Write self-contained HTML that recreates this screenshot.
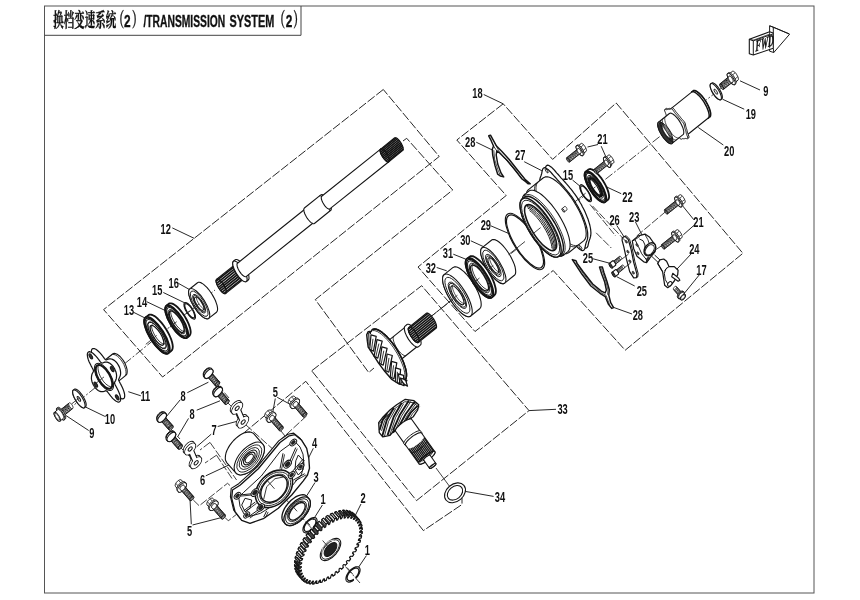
<!DOCTYPE html>
<html><head><meta charset="utf-8"><title>Transmission System (2)</title>
<style>html,body{margin:0;padding:0;background:#fff}svg{display:block}text{font-family:"Liberation Sans",sans-serif;font-weight:bold;fill:#111}</style>
</head><body>
<svg width="860" height="600" viewBox="0 0 860 600" style="filter:blur(0.35px)">
<rect width="860" height="600" fill="#fff"/>
<rect x="44.5" y="6" width="769.5" height="587" fill="none" stroke="#555" stroke-width="1"/>
<polyline points="44.5,35.3 301,35.3 301,6" fill="none" stroke="#444" stroke-width="1"/>
<text x="53.3" y="26.6" font-size="19.5" textLength="62.9" lengthAdjust="spacingAndGlyphs" stroke="#111" stroke-width="0.35" style="font-family:'Liberation Sans','Noto Serif CJK SC',serif">换档变速系统</text>
<text x="113.5" y="26.6" font-size="19.5" textLength="10.6" lengthAdjust="spacingAndGlyphs" stroke="#111" stroke-width="0.35" style="font-family:'Liberation Sans','Noto Serif CJK SC',serif">（</text>
<text x="132" y="26.6" font-size="19.5" textLength="10.6" lengthAdjust="spacingAndGlyphs" stroke="#111" stroke-width="0.35" style="font-family:'Liberation Sans','Noto Serif CJK SC',serif">）</text>
<text x="124" y="27" font-size="17.4" textLength="6.6" lengthAdjust="spacingAndGlyphs" stroke="#111" stroke-width="0.35">2</text>
<text x="143.4" y="27" font-size="17.4" textLength="81.9" lengthAdjust="spacingAndGlyphs" stroke="#111" stroke-width="0.35">/TRANSMISSION</text>
<text x="229.5" y="27" font-size="17.4" textLength="44.7" lengthAdjust="spacingAndGlyphs" stroke="#111" stroke-width="0.35">SYSTEM</text>
<text x="274.6" y="26.6" font-size="19.5" textLength="10.6" lengthAdjust="spacingAndGlyphs" stroke="#111" stroke-width="0.35" style="font-family:'Liberation Sans','Noto Serif CJK SC',serif">（</text>
<text x="285.7" y="27" font-size="17.4" textLength="6.6" lengthAdjust="spacingAndGlyphs" stroke="#111" stroke-width="0.35">2</text>
<text x="293.3" y="26.6" font-size="19.5" textLength="10.6" lengthAdjust="spacingAndGlyphs" stroke="#111" stroke-width="0.35" style="font-family:'Liberation Sans','Noto Serif CJK SC',serif">）</text>
<polygon points="383.3,89.5 103.6,309.6 162.6,377 439.2,156.5" fill="none" stroke="#222" stroke-width="0.98" stroke-linejoin="miter" stroke-dasharray="9 2"/>
<polyline points="403,141 406.7,138.3 452.7,190 315.3,299.6 368.7,372.5 374,368" fill="none" stroke="#222" stroke-width="0.98" stroke-linejoin="miter" stroke-dasharray="9 2"/>
<polygon points="503.2,103.8 456.8,140 506.2,195.5 418,267 475,331.5 553.2,270.5 625.2,350.2 742.9,253.3 616.2,103 552.6,159.4" fill="none" stroke="#222" stroke-width="0.98" stroke-linejoin="miter" stroke-dasharray="9 2"/>
<polygon points="311.7,370.8 421.7,285.7 529,410.6 416.5,500.6" fill="none" stroke="#222" stroke-width="0.98" stroke-linejoin="miter" stroke-dasharray="9 2"/>
<polyline points="234.8,440.5 305.8,381.3 423.4,530.6 462,504.5 462,498" fill="none" stroke="#222" stroke-width="0.98" stroke-linejoin="miter" stroke-dasharray="9 2"/>
<text transform="translate(165.7 234) scale(0.62 1)" text-anchor="middle" font-size="15">12</text>
<text transform="translate(173.7 287.9) scale(0.62 1)" text-anchor="middle" font-size="15">16</text>
<text transform="translate(157.2 294.6) scale(0.62 1)" text-anchor="middle" font-size="15">15</text>
<text transform="translate(142 307.1) scale(0.62 1)" text-anchor="middle" font-size="15">14</text>
<text transform="translate(129 315.4) scale(0.62 1)" text-anchor="middle" font-size="15">13</text>
<text transform="translate(145.3 401.2) scale(0.62 1)" text-anchor="middle" font-size="15">11</text>
<text transform="translate(109.9 423.7) scale(0.62 1)" text-anchor="middle" font-size="15">10</text>
<text transform="translate(91.8 438) scale(0.62 1)" text-anchor="middle" font-size="15">9</text>
<text transform="translate(183.1 400.9) scale(0.62 1)" text-anchor="middle" font-size="15">8</text>
<text transform="translate(192 419.1) scale(0.62 1)" text-anchor="middle" font-size="15">8</text>
<text transform="translate(214.2 435.4) scale(0.62 1)" text-anchor="middle" font-size="15">7</text>
<text transform="translate(202.5 485.4) scale(0.62 1)" text-anchor="middle" font-size="15">6</text>
<text transform="translate(275.3 396.9) scale(0.62 1)" text-anchor="middle" font-size="15">5</text>
<text transform="translate(189.7 536.2) scale(0.62 1)" text-anchor="middle" font-size="15">5</text>
<text transform="translate(314.6 448.3) scale(0.62 1)" text-anchor="middle" font-size="15">4</text>
<text transform="translate(316.2 482.1) scale(0.62 1)" text-anchor="middle" font-size="15">3</text>
<text transform="translate(323 504.4) scale(0.62 1)" text-anchor="middle" font-size="15">1</text>
<text transform="translate(363 503.4) scale(0.62 1)" text-anchor="middle" font-size="15">2</text>
<text transform="translate(367.4 555) scale(0.62 1)" text-anchor="middle" font-size="15">1</text>
<text transform="translate(500 502.4) scale(0.62 1)" text-anchor="middle" font-size="15">34</text>
<text transform="translate(562.6 414.4) scale(0.62 1)" text-anchor="middle" font-size="15">33</text>
<text transform="translate(430.8 272.6) scale(0.62 1)" text-anchor="middle" font-size="15">32</text>
<text transform="translate(448 257.9) scale(0.62 1)" text-anchor="middle" font-size="15">31</text>
<text transform="translate(465.3 245.1) scale(0.62 1)" text-anchor="middle" font-size="15">30</text>
<text transform="translate(485.8 230.1) scale(0.62 1)" text-anchor="middle" font-size="15">29</text>
<text transform="translate(477.5 98.4) scale(0.62 1)" text-anchor="middle" font-size="15">18</text>
<text transform="translate(470.2 146.9) scale(0.62 1)" text-anchor="middle" font-size="15">28</text>
<text transform="translate(520.2 159.6) scale(0.62 1)" text-anchor="middle" font-size="15">27</text>
<text transform="translate(568 180.4) scale(0.62 1)" text-anchor="middle" font-size="15">15</text>
<text transform="translate(627.5 202.2) scale(0.62 1)" text-anchor="middle" font-size="15">22</text>
<text transform="translate(602.5 144.1) scale(0.62 1)" text-anchor="middle" font-size="15">21</text>
<text transform="translate(614.6 225) scale(0.62 1)" text-anchor="middle" font-size="15">26</text>
<text transform="translate(634.2 222.1) scale(0.62 1)" text-anchor="middle" font-size="15">23</text>
<text transform="translate(698.5 227.4) scale(0.62 1)" text-anchor="middle" font-size="15">21</text>
<text transform="translate(694.3 254.2) scale(0.62 1)" text-anchor="middle" font-size="15">24</text>
<text transform="translate(701.5 275.2) scale(0.62 1)" text-anchor="middle" font-size="15">17</text>
<text transform="translate(588 263.2) scale(0.62 1)" text-anchor="middle" font-size="15">25</text>
<text transform="translate(641.8 296.2) scale(0.62 1)" text-anchor="middle" font-size="15">25</text>
<text transform="translate(637.8 320.2) scale(0.62 1)" text-anchor="middle" font-size="15">28</text>
<text transform="translate(765.8 96.2) scale(0.62 1)" text-anchor="middle" font-size="15">9</text>
<text transform="translate(750.8 118.7) scale(0.62 1)" text-anchor="middle" font-size="15">19</text>
<text transform="translate(729.2 156.2) scale(0.62 1)" text-anchor="middle" font-size="15">20</text>
<line x1="172.3" y1="227.9" x2="194.3" y2="238.4" stroke="#222" stroke-width="0.98"/>
<line x1="178.3" y1="283.3" x2="190.3" y2="290" stroke="#222" stroke-width="0.98"/>
<line x1="163.3" y1="292.5" x2="185" y2="303" stroke="#222" stroke-width="0.98"/>
<line x1="146.7" y1="301.7" x2="165.8" y2="310.8" stroke="#222" stroke-width="0.98"/>
<line x1="133" y1="312" x2="147" y2="319" stroke="#222" stroke-width="0.98"/>
<line x1="128.3" y1="391.7" x2="140.8" y2="395.8" stroke="#222" stroke-width="0.98"/>
<line x1="85.5" y1="407" x2="104.9" y2="416.4" stroke="#222" stroke-width="0.98"/>
<line x1="65.6" y1="415.3" x2="88.7" y2="430.5" stroke="#222" stroke-width="0.98"/>
<line x1="529" y1="410.6" x2="556" y2="409.3" stroke="#222" stroke-width="0.98"/>
<line x1="463" y1="491" x2="493.6" y2="496.4" stroke="#222" stroke-width="0.98"/>
<line x1="483.7" y1="94.5" x2="503.2" y2="103.8" stroke="#222" stroke-width="0.98"/>
<line x1="476.2" y1="142.2" x2="492.7" y2="150.2" stroke="#222" stroke-width="0.98"/>
<line x1="524.2" y1="161.7" x2="541.8" y2="170.7" stroke="#222" stroke-width="0.98"/>
<line x1="740" y1="80.8" x2="760" y2="90" stroke="#222" stroke-width="0.98"/>
<line x1="722.5" y1="99.2" x2="744.2" y2="109.2" stroke="#222" stroke-width="0.98"/>
<line x1="698.3" y1="127.5" x2="723.3" y2="145" stroke="#222" stroke-width="0.98"/>
<line x1="598" y1="144.5" x2="587.5" y2="147" stroke="#222" stroke-width="0.98"/>
<line x1="601.2" y1="146.2" x2="606.2" y2="157.5" stroke="#222" stroke-width="0.98"/>
<line x1="572.5" y1="180" x2="580" y2="186.2" stroke="#222" stroke-width="0.98"/>
<line x1="605" y1="186.2" x2="621.2" y2="193.7" stroke="#222" stroke-width="0.98"/>
<line x1="693.8" y1="219.7" x2="682.1" y2="205.2" stroke="#222" stroke-width="0.98"/>
<line x1="693.8" y1="225.5" x2="683.3" y2="234.8" stroke="#222" stroke-width="0.98"/>
<line x1="635.5" y1="222" x2="642.5" y2="236" stroke="#222" stroke-width="0.98"/>
<line x1="616.8" y1="225.5" x2="625" y2="238.3" stroke="#222" stroke-width="0.98"/>
<line x1="691.5" y1="253.5" x2="676.3" y2="269.8" stroke="#222" stroke-width="0.98"/>
<line x1="699.6" y1="274.5" x2="684.5" y2="293.1" stroke="#222" stroke-width="0.98"/>
<line x1="436.7" y1="267.5" x2="446.7" y2="270.8" stroke="#222" stroke-width="0.98"/>
<line x1="453.3" y1="254.2" x2="465.8" y2="259.2" stroke="#222" stroke-width="0.98"/>
<line x1="470.8" y1="240.8" x2="490.8" y2="250" stroke="#222" stroke-width="0.98"/>
<line x1="490.8" y1="225.8" x2="508.3" y2="233.3" stroke="#222" stroke-width="0.98"/>
<line x1="322.4" y1="505" x2="313" y2="520" stroke="#222" stroke-width="0.98"/>
<line x1="361" y1="504" x2="355" y2="516" stroke="#222" stroke-width="0.98"/>
<line x1="366.4" y1="555.6" x2="358" y2="568" stroke="#222" stroke-width="0.98"/>
<line x1="315" y1="482.5" x2="306.7" y2="495.8" stroke="#222" stroke-width="0.98"/>
<line x1="313.3" y1="448.3" x2="306.7" y2="461.7" stroke="#222" stroke-width="0.98"/>
<line x1="187.3" y1="392.7" x2="208.4" y2="382.2" stroke="#222" stroke-width="0.98"/>
<line x1="180.3" y1="399.7" x2="165.9" y2="417.2" stroke="#222" stroke-width="0.98"/>
<line x1="196.7" y1="410.2" x2="220" y2="400.8" stroke="#222" stroke-width="0.98"/>
<line x1="188.5" y1="418.4" x2="177.5" y2="437" stroke="#222" stroke-width="0.98"/>
<line x1="217.7" y1="426.5" x2="237.5" y2="421.2" stroke="#222" stroke-width="0.98"/>
<line x1="211.2" y1="434.2" x2="196.7" y2="446.8" stroke="#222" stroke-width="0.98"/>
<line x1="205.8" y1="475.8" x2="232.5" y2="463.3" stroke="#222" stroke-width="0.98"/>
<line x1="277.2" y1="397.3" x2="292.4" y2="405.5" stroke="#222" stroke-width="0.98"/>
<line x1="275.3" y1="398.5" x2="272.5" y2="413.7" stroke="#222" stroke-width="0.98"/>
<line x1="191.3" y1="524.2" x2="190" y2="499.2" stroke="#222" stroke-width="0.98"/>
<line x1="192.5" y1="525" x2="221.7" y2="517.5" stroke="#222" stroke-width="0.98"/>
<line x1="592.7" y1="258.7" x2="610" y2="263.3" stroke="#222" stroke-width="0.98"/>
<line x1="634.7" y1="286" x2="616.7" y2="276.7" stroke="#222" stroke-width="0.98"/>
<line x1="632" y1="314" x2="613.3" y2="307.3" stroke="#222" stroke-width="0.98"/>
<polyline points="193.3,500 199.2,505.8 227.5,483.3 230,485.5" fill="none" stroke="#222" stroke-width="0.85" stroke-linejoin="round" stroke-dasharray="8 2"/>
<polyline points="225,517.5 228.3,520.8 236.7,514.2" fill="none" stroke="#222" stroke-width="0.85" stroke-linejoin="round" stroke-dasharray="8 2"/>
<polyline points="306.7,415.8 278.8,441.5 281,444.5" fill="none" stroke="#222" stroke-width="0.85" stroke-linejoin="round" stroke-dasharray="8 2"/>
<polyline points="281,431 291,443.5" fill="none" stroke="#222" stroke-width="0.85" stroke-linejoin="round" stroke-dasharray="8 2"/>
<polyline points="210,442.4 200,450" fill="none" stroke="#222" stroke-width="0.85" stroke-linejoin="round" stroke-dasharray="8 2"/>
<polyline points="210,442.4 236.6,480" fill="none" stroke="#222" stroke-width="0.85" stroke-linejoin="round" stroke-dasharray="8 2"/>
<polyline points="216.5,455.2 205,463" fill="none" stroke="#222" stroke-width="0.85" stroke-linejoin="round" stroke-dasharray="8 2"/>
<polyline points="216.5,455.2 233,480" fill="none" stroke="#222" stroke-width="0.85" stroke-linejoin="round" stroke-dasharray="8 2"/>
<polyline points="218,385 229,398" fill="none" stroke="#222" stroke-width="0.85" stroke-linejoin="round" stroke-dasharray="8 2"/>
<polyline points="228,403 236,411" fill="none" stroke="#222" stroke-width="0.85" stroke-linejoin="round" stroke-dasharray="8 2"/>
<polyline points="246,425 276,452" fill="none" stroke="#222" stroke-width="0.85" stroke-linejoin="round" stroke-dasharray="8 2"/>
<polyline points="171,429 180,439" fill="none" stroke="#222" stroke-width="0.85" stroke-linejoin="round" stroke-dasharray="8 2"/>
<polyline points="181,448 189,456" fill="none" stroke="#222" stroke-width="0.85" stroke-linejoin="round" stroke-dasharray="8 2"/>
<line x1="66" y1="411.5" x2="215" y2="290" stroke="#222" stroke-width="0.85" stroke-dasharray="9 2 2 2"/>
<polygon points="234.6,264.9 235,264.8 235.5,264.7 236.1,264.9 236.8,265.2 237.5,265.7 238.3,266.4 239.1,267.2 239.9,268.1 240.7,269.1 241.4,270.2 242.1,271.3 242.7,272.5 243.2,273.6 243.6,274.7 244,275.7 244.2,276.7 244.2,277.5 244.2,278.2 244,278.7 243.7,279.1 225.8,293.4 225.3,293.6 224.8,293.6 224.2,293.5 223.6,293.1 222.8,292.6 222.1,292 221.3,291.2 220.5,290.3 219.7,289.3 219,288.2 218.3,287.1 217.7,285.9 217.1,284.8 216.7,283.7 216.4,282.7 216.2,281.7 216.1,280.9 216.2,280.2 216.4,279.7 216.7,279.3" fill="#fff" stroke="#141414" stroke-width="1.1" stroke-linejoin="round"/>
<ellipse cx="221.2" cy="286.4" rx="2.9" ry="8.4" transform="rotate(-32 221.2 286.4)" fill="#fff" stroke="#141414" stroke-width="1.1"/>
<line x1="216.1" y1="281.1" x2="236.3" y2="265" stroke="#141414" stroke-width="1.65"/>
<line x1="216.6" y1="283.4" x2="238.1" y2="266.2" stroke="#141414" stroke-width="1.65"/>
<line x1="217.4" y1="285.4" x2="239.5" y2="267.7" stroke="#141414" stroke-width="1.65"/>
<line x1="218.4" y1="287.3" x2="240.8" y2="269.3" stroke="#141414" stroke-width="1.65"/>
<line x1="219.5" y1="289" x2="241.9" y2="271.1" stroke="#141414" stroke-width="1.65"/>
<line x1="220.8" y1="290.7" x2="242.9" y2="273" stroke="#141414" stroke-width="1.65"/>
<line x1="222.3" y1="292.2" x2="243.7" y2="275" stroke="#141414" stroke-width="1.65"/>
<line x1="224.1" y1="293.4" x2="244.2" y2="277.3" stroke="#141414" stroke-width="1.65"/>
<polygon points="235.3,259.8 235.9,259.5 236.6,259.5 237.5,259.7 238.4,260.2 239.5,260.9 240.6,261.9 241.7,263 242.9,264.3 244,265.8 245,267.3 246,268.9 246.9,270.6 247.6,272.2 248.2,273.7 248.7,275.2 248.9,276.5 249,277.7 249,278.7 248.7,279.4 248.3,280 246.4,281.5 245.8,281.7 245.1,281.8 244.3,281.5 243.3,281 242.3,280.3 241.2,279.4 240,278.2 238.9,276.9 237.8,275.5 236.7,273.9 235.8,272.3 234.9,270.7 234.1,269.1 233.5,267.5 233.1,266.1 232.8,264.7 232.7,263.6 232.8,262.6 233,261.8 233.4,261.3" fill="#fff" stroke="#141414" stroke-width="1.1" stroke-linejoin="round"/>
<ellipse cx="239.9" cy="271.4" rx="4.1" ry="12" transform="rotate(-32 239.9 271.4)" fill="#fff" stroke="#141414" stroke-width="1.1"/>
<polygon points="305.1,209 305.5,208.8 305.9,208.8 306.5,209 307.1,209.3 307.8,209.8 308.6,210.4 309.3,211.2 310.1,212 310.8,213 311.5,214 312.2,215.1 312.8,216.2 313.3,217.3 313.7,218.3 314,219.3 314.2,220.2 314.2,220.9 314.2,221.6 314,222.1 313.7,222.5 246.1,276.6 245.8,276.8 245.3,276.8 244.7,276.6 244.1,276.3 243.4,275.8 242.6,275.2 241.9,274.5 241.1,273.6 240.4,272.6 239.7,271.6 239,270.5 238.4,269.4 237.9,268.3 237.5,267.3 237.2,266.3 237.1,265.4 237,264.7 237,264 237.2,263.5 237.5,263.2" fill="#fff" stroke="#141414" stroke-width="1.1" stroke-linejoin="round"/>
<polygon points="320.8,194.9 321.3,194.7 321.8,194.6 322.5,194.8 323.2,195.2 324,195.7 324.8,196.5 325.7,197.3 326.6,198.3 327.4,199.4 328.2,200.6 329,201.9 329.7,203.1 330.2,204.4 330.7,205.6 331,206.7 331.3,207.7 331.3,208.6 331.3,209.3 331.1,209.9 330.8,210.3 314.4,223.5 313.9,223.7 313.4,223.7 312.7,223.5 312,223.1 311.2,222.6 310.3,221.9 309.5,221 308.6,220 307.7,218.9 306.9,217.7 306.2,216.5 305.5,215.2 304.9,214 304.5,212.8 304.1,211.7 303.9,210.6 303.8,209.7 303.9,209 304.1,208.4 304.4,208" fill="#fff" stroke="#141414" stroke-width="1.1" stroke-linejoin="round"/>
<polyline points="319.2,196.1 319.9,195.9 320.8,196 321.9,196.6 323,197.5 324.3,198.7 325.5,200.2 326.7,201.9 327.7,203.7 328.6,205.4 329.2,207.1 329.6,208.7 329.8,210 329.6,210.9 329.2,211.6" fill="none" stroke="#141414" stroke-width="0.85" stroke-linejoin="round"/>
<polygon points="380.6,149.1 381,148.9 381.5,148.9 382,149.1 382.6,149.4 383.3,149.8 383.9,150.4 384.6,151.1 385.4,151.9 386,152.8 386.7,153.8 387.3,154.8 387.9,155.8 388.3,156.8 388.7,157.8 389,158.7 389.2,159.5 389.2,160.3 389.2,160.9 389,161.4 388.8,161.7 329.8,208.9 329.5,209.1 329,209.1 328.5,208.9 327.9,208.6 327.2,208.2 326.5,207.6 325.8,206.9 325.1,206.1 324.4,205.2 323.8,204.2 323.2,203.2 322.6,202.2 322.2,201.2 321.8,200.2 321.5,199.3 321.3,198.4 321.3,197.7 321.3,197.1 321.5,196.6 321.7,196.3" fill="#fff" stroke="#141414" stroke-width="1.1" stroke-linejoin="round"/>
<polygon points="394.7,137.8 395.1,137.7 395.5,137.7 396,137.8 396.6,138.1 397.3,138.5 398,139.1 398.7,139.8 399.4,140.7 400.1,141.6 400.8,142.5 401.4,143.5 401.9,144.6 402.4,145.6 402.8,146.5 403,147.5 403.2,148.3 403.3,149 403.2,149.6 403.1,150.1 402.8,150.4 388.8,161.7 388.4,161.9 387.9,161.9 387.4,161.7 386.8,161.4 386.2,161 385.5,160.4 384.8,159.7 384.1,158.9 383.4,158 382.7,157 382.1,156 381.5,155 381.1,154 380.7,153 380.4,152.1 380.2,151.2 380.2,150.5 380.2,149.9 380.4,149.4 380.6,149.1" fill="#fff" stroke="#141414" stroke-width="1.1" stroke-linejoin="round"/>
<ellipse cx="384.7" cy="155.4" rx="2.6" ry="7.5" transform="rotate(-32 384.7 155.4)" fill="#fff" stroke="#141414" stroke-width="1.1"/>
<line x1="380.2" y1="150.5" x2="396.1" y2="137.8" stroke="#141414" stroke-width="1.65"/>
<line x1="380.5" y1="152.4" x2="397.5" y2="138.7" stroke="#141414" stroke-width="1.65"/>
<line x1="381.1" y1="154" x2="398.7" y2="139.9" stroke="#141414" stroke-width="1.65"/>
<line x1="381.9" y1="155.6" x2="399.8" y2="141.2" stroke="#141414" stroke-width="1.65"/>
<line x1="382.7" y1="157" x2="400.8" y2="142.5" stroke="#141414" stroke-width="1.65"/>
<line x1="383.7" y1="158.4" x2="401.6" y2="144" stroke="#141414" stroke-width="1.65"/>
<line x1="384.7" y1="159.6" x2="402.4" y2="145.5" stroke="#141414" stroke-width="1.65"/>
<line x1="385.9" y1="160.8" x2="403" y2="147.1" stroke="#141414" stroke-width="1.65"/>
<line x1="387.4" y1="161.7" x2="403.3" y2="149" stroke="#141414" stroke-width="1.65"/>
<polyline points="388.8,161.7 388.2,161.9 387.5,161.8 386.6,161.3 385.7,160.6 384.7,159.6 383.7,158.4 382.7,157 381.9,155.6 381.1,154.1 380.6,152.7 380.3,151.5 380.2,150.4 380.3,149.6 380.6,149.1" fill="none" stroke="#141414" stroke-width="0.85" stroke-linejoin="round"/>
<polygon points="197.5,282.7 198.4,282.3 199.4,282.3 200.7,282.6 202.1,283.4 203.6,284.4 205.2,285.8 206.9,287.4 208.5,289.3 210.1,291.5 211.7,293.7 213.1,296.1 214.4,298.4 215.5,300.8 216.3,303.1 217,305.2 217.4,307.1 217.6,308.8 217.5,310.3 217.1,311.4 216.5,312.2 208.7,318.4 207.8,318.8 206.8,318.8 205.5,318.5 204.1,317.8 202.6,316.7 201,315.4 199.3,313.7 197.7,311.8 196.1,309.7 194.5,307.4 193.1,305.1 191.8,302.7 190.7,300.4 189.9,298.1 189.2,295.9 188.8,294 188.6,292.3 188.8,290.9 189.1,289.8 189.7,289" fill="#fff" stroke="#141414" stroke-width="1.1" stroke-linejoin="round"/>
<ellipse cx="199.2" cy="303.7" rx="6" ry="17.5" transform="rotate(-32 199.2 303.7)" fill="#fff" stroke="#141414" stroke-width="1.1"/>
<ellipse cx="199.2" cy="303.7" rx="5" ry="14.7" transform="rotate(-32 199.2 303.7)" fill="none" stroke="#141414" stroke-width="0.85"/>
<ellipse cx="199.2" cy="303.7" rx="3.7" ry="10.8" transform="rotate(-32 199.2 303.7)" fill="none" stroke="#141414" stroke-width="0.85"/>
<ellipse cx="199.2" cy="303.7" rx="3.2" ry="9.5" transform="rotate(-32 199.2 303.7)" fill="none" stroke="#141414" stroke-width="0.85"/>
<ellipse cx="199.2" cy="303.7" rx="2.6" ry="7.6" transform="rotate(-32 199.2 303.7)" fill="none" stroke="#141414" stroke-width="1.1"/>
<polyline points="205,308.7 204.4,308.9 203.5,308.7 202.4,308 201.2,306.9 200,305.5 198.9,303.9 197.9,302.2 197.1,300.5 196.6,299 196.3,297.6 196.4,296.6 196.8,295.9" fill="none" stroke="#141414" stroke-width="0.73" stroke-linejoin="round"/>
<ellipse cx="189.7" cy="310.8" rx="3.3" ry="9.6" transform="rotate(-32 189.7 310.8)" fill="#fff" stroke="#141414" stroke-width="1.16"/>
<ellipse cx="189.7" cy="310.8" rx="2.8" ry="8.2" transform="rotate(-32 189.7 310.8)" fill="#fff" stroke="#141414" stroke-width="1.16"/>
<polygon points="168.9,303.7 169.8,303.3 171,303.3 172.3,303.6 173.9,304.4 175.5,305.5 177.3,307 179.1,308.8 180.8,310.9 182.6,313.2 184.3,315.6 185.8,318.2 187.2,320.8 188.4,323.3 189.3,325.8 190.1,328.1 190.5,330.2 190.7,332.1 190.5,333.6 190.1,334.8 189.5,335.7 187,337.7 186.1,338.1 184.9,338.1 183.6,337.8 182,337 180.4,335.9 178.6,334.4 176.8,332.6 175.1,330.5 173.3,328.2 171.6,325.8 170.1,323.2 168.7,320.6 167.5,318.1 166.6,315.6 165.8,313.3 165.4,311.2 165.2,309.3 165.4,307.8 165.8,306.6 166.4,305.7" fill="#fff" stroke="#141414" stroke-width="1.83" stroke-linejoin="round"/>
<ellipse cx="176.7" cy="321.7" rx="6.5" ry="19" transform="rotate(-32 176.7 321.7)" fill="#fff" stroke="#141414" stroke-width="1.83"/>
<ellipse cx="176.7" cy="321.7" rx="6" ry="17.7" transform="rotate(-32 176.7 321.7)" fill="none" stroke="#141414" stroke-width="1.22"/>
<ellipse cx="176.7" cy="321.7" rx="5.6" ry="16.3" transform="rotate(-32 176.7 321.7)" fill="none" stroke="#141414" stroke-width="0.98"/>
<ellipse cx="176.7" cy="321.7" rx="4.8" ry="14.1" transform="rotate(-32 176.7 321.7)" fill="none" stroke="#141414" stroke-width="0.85"/>
<ellipse cx="176.7" cy="321.7" rx="4.2" ry="12.5" transform="rotate(-32 176.7 321.7)" fill="none" stroke="#141414" stroke-width="1.34"/>
<polyline points="185,331 183.9,331.3 182.4,330.9 180.7,329.8 178.8,328 176.8,325.8 174.9,323.1 173.3,320.3 172,317.5 171.1,314.9 170.7,312.7 170.9,311 171.5,309.9" fill="none" stroke="#141414" stroke-width="0.85" stroke-linejoin="round"/>
<polygon points="148.5,315.1 149.5,314.6 150.8,314.6 152.3,315 154,315.8 155.9,317.1 157.8,318.8 159.8,320.8 161.8,323.1 163.8,325.7 165.6,328.4 167.3,331.2 168.9,334.1 170.2,337 171.3,339.7 172.1,342.3 172.6,344.7 172.8,346.7 172.6,348.5 172.2,349.8 171.4,350.7 168.5,353.1 167.4,353.6 166.2,353.6 164.6,353.2 163,352.4 161.1,351.1 159.2,349.4 157.2,347.4 155.2,345.1 153.2,342.6 151.3,339.8 149.6,337 148.1,334.1 146.8,331.3 145.7,328.5 144.9,325.9 144.4,323.6 144.2,321.5 144.3,319.8 144.8,318.4 145.5,317.5" fill="#fff" stroke="#141414" stroke-width="1.83" stroke-linejoin="round"/>
<ellipse cx="157" cy="335.3" rx="7.2" ry="21.2" transform="rotate(-32 157 335.3)" fill="#fff" stroke="#141414" stroke-width="1.83"/>
<ellipse cx="157" cy="335.3" rx="6.7" ry="19.7" transform="rotate(-32 157 335.3)" fill="none" stroke="#141414" stroke-width="1.22"/>
<ellipse cx="157" cy="335.3" rx="6.2" ry="18.2" transform="rotate(-32 157 335.3)" fill="none" stroke="#141414" stroke-width="0.98"/>
<ellipse cx="157" cy="335.3" rx="5.3" ry="15.7" transform="rotate(-32 157 335.3)" fill="none" stroke="#141414" stroke-width="0.85"/>
<ellipse cx="157" cy="335.3" rx="3.9" ry="11.5" transform="rotate(-32 157 335.3)" fill="none" stroke="#141414" stroke-width="1.34"/>
<polyline points="164.8,343.7 163.8,344 162.4,343.6 160.8,342.6 159,341 157.2,338.9 155.5,336.5 154,333.9 152.8,331.3 152,329 151.6,326.9 151.8,325.4 152.3,324.4" fill="none" stroke="#141414" stroke-width="0.85" stroke-linejoin="round"/>
<ellipse cx="157" cy="335.3" rx="5.1" ry="15" transform="rotate(-32 157 335.3)" fill="none" stroke="#141414" stroke-width="0.85"/>
<polygon points="74.3,389.3 74.8,389.1 75.4,389.1 76.2,389.3 77,389.7 77.9,390.3 78.9,391.2 79.8,392.1 80.8,393.3 81.8,394.5 82.7,395.9 83.5,397.3 84.3,398.7 84.9,400.1 85.5,401.4 85.9,402.7 86.1,403.8 86.2,404.9 86.1,405.7 85.9,406.4 85.5,406.8 84.5,407.6 84,407.9 83.4,407.9 82.7,407.7 81.8,407.3 80.9,406.7 80,405.8 79,404.8 78,403.7 77,402.5 76.1,401.1 75.3,399.7 74.5,398.3 73.9,396.9 73.3,395.6 73,394.3 72.7,393.1 72.6,392.1 72.7,391.3 72.9,390.6 73.3,390.2" fill="#fff" stroke="#141414" stroke-width="1.1" stroke-linejoin="round"/>
<ellipse cx="78.9" cy="398.9" rx="3.5" ry="10.4" transform="rotate(-32 78.9 398.9)" fill="#fff" stroke="#141414" stroke-width="1.1"/>
<ellipse cx="78.9" cy="398.9" rx="1" ry="2.8" transform="rotate(-32 78.9 398.9)" fill="none" stroke="#141414" stroke-width="0.98"/>
<polygon points="69.4,402.8 69.5,402.7 69.7,402.7 69.9,402.8 70.2,402.9 70.5,403.1 70.8,403.4 71.1,403.7 71.4,404 71.7,404.4 72,404.9 72.3,405.3 72.5,405.7 72.7,406.2 72.9,406.6 73,407 73.1,407.4 73.1,407.7 73.1,408 73,408.2 72.9,408.3 63.4,416 63.2,416 63,416 62.8,416 62.5,415.8 62.3,415.6 62,415.4 61.6,415.1 61.3,414.7 61,414.3 60.7,413.9 60.5,413.5 60.2,413 60,412.6 59.9,412.1 59.7,411.7 59.7,411.4 59.6,411 59.6,410.8 59.7,410.6 59.8,410.4" fill="#fff" stroke="#141414" stroke-width="0.85" stroke-linejoin="round"/>
<ellipse cx="61.6" cy="413.2" rx="1.1" ry="3.3" transform="rotate(-32 61.6 413.2)" fill="#fff" stroke="#141414" stroke-width="0.85"/>
<polyline points="64.2,415.3 63.7,415.4 63.1,415 62.3,414.2 61.6,413.2 60.9,412.1 60.5,411.1 60.4,410.2 60.6,409.8" fill="none" stroke="#141414" stroke-width="0.98" stroke-linejoin="round"/>
<polyline points="65,414.6 64.6,414.7 63.9,414.3 63.1,413.6 62.4,412.6 61.8,411.5 61.4,410.4 61.3,409.6 61.5,409.1" fill="none" stroke="#141414" stroke-width="0.98" stroke-linejoin="round"/>
<polyline points="65.9,414 65.4,414 64.7,413.7 63.9,412.9 63.2,411.9 62.6,410.8 62.2,409.8 62.1,408.9 62.3,408.4" fill="none" stroke="#141414" stroke-width="0.98" stroke-linejoin="round"/>
<polyline points="66.7,413.3 66.2,413.4 65.5,413 64.8,412.3 64,411.3 63.4,410.2 63,409.1 62.9,408.3 63.1,407.8" fill="none" stroke="#141414" stroke-width="0.98" stroke-linejoin="round"/>
<polyline points="67.5,412.7 67,412.7 66.4,412.4 65.6,411.6 64.8,410.6 64.2,409.5 63.8,408.4 63.7,407.6 63.9,407.1" fill="none" stroke="#141414" stroke-width="0.98" stroke-linejoin="round"/>
<polyline points="68.3,412 67.8,412.1 67.2,411.7 66.4,411 65.7,410 65,408.8 64.6,407.8 64.5,407 64.7,406.5" fill="none" stroke="#141414" stroke-width="0.98" stroke-linejoin="round"/>
<polyline points="69.1,411.4 68.7,411.4 68,411.1 67.2,410.3 66.5,409.3 65.9,408.2 65.5,407.1 65.4,406.3 65.6,405.8" fill="none" stroke="#141414" stroke-width="0.98" stroke-linejoin="round"/>
<polyline points="70,410.7 69.5,410.8 68.8,410.4 68,409.6 67.3,408.6 66.7,407.5 66.3,406.5 66.2,405.6 66.4,405.2" fill="none" stroke="#141414" stroke-width="0.98" stroke-linejoin="round"/>
<polyline points="70.8,410.1 70.3,410.1 69.6,409.7 68.9,409 68.1,408 67.5,406.9 67.1,405.8 67,405 67.2,404.5" fill="none" stroke="#141414" stroke-width="0.98" stroke-linejoin="round"/>
<polyline points="71.6,409.4 71.1,409.5 70.4,409.1 69.7,408.3 68.9,407.3 68.3,406.2 67.9,405.2 67.8,404.3 68,403.8" fill="none" stroke="#141414" stroke-width="0.98" stroke-linejoin="round"/>
<polyline points="72.4,408.7 71.9,408.8 71.3,408.4 70.5,407.7 69.7,406.7 69.1,405.6 68.7,404.5 68.6,403.7 68.8,403.2" fill="none" stroke="#141414" stroke-width="0.98" stroke-linejoin="round"/>
<polygon points="57.9,407.5 58.3,407.3 58.7,407.3 59.2,407.4 59.7,407.7 60.3,408.1 60.9,408.7 61.6,409.3 62.2,410 62.8,410.9 63.4,411.7 64,412.6 64.5,413.6 64.9,414.5 65.2,415.4 65.5,416.2 65.7,417 65.7,417.6 65.7,418.2 65.5,418.6 65.3,418.9 64.3,419.7 63.9,419.9 63.5,419.9 63.1,419.8 62.5,419.5 61.9,419.1 61.3,418.5 60.7,417.9 60,417.1 59.4,416.3 58.8,415.5 58.2,414.5 57.7,413.6 57.3,412.7 57,411.8 56.7,411 56.6,410.2 56.5,409.6 56.5,409 56.7,408.6 56.9,408.3" fill="#fff" stroke="#141414" stroke-width="0.98" stroke-linejoin="round"/>
<ellipse cx="60.6" cy="414" rx="2.3" ry="6.8" transform="rotate(-32 60.6 414)" fill="#fff" stroke="#141414" stroke-width="0.98"/>
<polygon points="57.8,409.6 58,409.5 58.4,409.5 58.7,409.6 59.1,409.8 59.6,410.1 60.1,410.5 60.6,411 61.1,411.6 61.5,412.2 62,412.9 62.4,413.6 62.8,414.3 63.1,415 63.4,415.7 63.6,416.3 63.7,416.9 63.7,417.4 63.7,417.8 63.6,418.1 63.4,418.4 60,421.1 59.7,421.2 59.4,421.2 59,421.1 58.6,420.9 58.2,420.6 57.7,420.2 57.2,419.7 56.7,419.2 56.2,418.5 55.8,417.9 55.4,417.2 55,416.5 54.7,415.8 54.4,415.1 54.2,414.4 54.1,413.9 54,413.4 54.1,412.9 54.2,412.6 54.4,412.4" fill="#fff" stroke="#141414" stroke-width="0.98" stroke-linejoin="round"/>
<ellipse cx="57.2" cy="416.8" rx="1.8" ry="5.2" transform="rotate(-32 57.2 416.8)" fill="#fff" stroke="#141414" stroke-width="0.98"/>
<polygon points="59.8,420 58.8,416.6 56.2,413.3 54.5,413.5 55.5,416.9 58.2,420.2" fill="#fff" stroke="#141414" stroke-width="0.73" stroke-linejoin="round"/>
<polygon points="112.6,354 113.4,353.6 114.3,353.4 115.3,353.6 116.5,354 117.7,354.6 118.9,355.5 120.2,356.7 121.4,358 122.6,359.5 123.7,361.1 124.7,362.8 125.5,364.6 126.2,366.4 126.7,368.1 127.1,369.7 127.2,371.3 127.1,372.6 126.9,373.8 126.5,374.7 125.8,375.4 113.7,385.1 113,385.5 112,385.7 111,385.5 109.9,385.2 108.6,384.5 107.4,383.6 106.1,382.4 104.9,381.1 103.7,379.6 102.7,378 101.7,376.3 100.8,374.5 100.1,372.7 99.6,371 99.3,369.4 99.1,367.9 99.2,366.5 99.4,365.3 99.9,364.4 100.5,363.7" fill="#fff" stroke="#141414" stroke-width="1.1" stroke-linejoin="round"/>
<polyline points="111.4,355 112.6,354.4 114,354.5 115.7,355.1 117.4,356.2 119.2,357.8 120.9,359.8 122.5,362.1 123.9,364.5 124.9,367.1 125.7,369.5 126,371.8 126,373.7 125.5,375.3 124.7,376.3" fill="none" stroke="#141414" stroke-width="0.85" stroke-linejoin="round"/>
<polygon points="122.6,398.8 123.5,398.7 124.2,398.1 124.6,397.1 124.7,395.9 124.6,394.3 124.2,392.5 123.6,390.6 122.9,388.7 122,386.8 121.1,384.9 120.2,383.3 119.4,381.8 118.8,380.6 118.6,379.6 118.8,378.9 119.2,378.2 119.6,377.3 120,376.3 120.4,375.2 120.6,373.8 120.6,372.3 120.4,370.6 120,368.9 119.4,367.1 118.5,365.4 117.5,363.7 116.4,362.3 115.1,361.1 113.8,360.1 112.5,359.4 111.3,359 110.1,358.8 109.1,358.9 108.2,359.2 107.4,359.5 106.7,359.8 106,359.9 105.3,359.5 104.5,358.6 103.6,357.3 102.5,355.9 101.3,354.4 100,352.9 98.6,351.5 97.2,350.3 95.9,349.3 94.6,348.7 93.5,348.5 92.6,348.6 91.9,349.2 91.5,350.2 91.4,351.4 91.5,353 91.9,354.8 92.5,356.7 93.3,358.6 94.1,360.5 95,362.4 95.9,364 96.7,365.5 97.3,366.7 97.6,367.7 97.3,368.4 96.9,369.1 96.5,370 96.1,371 95.7,372.1 95.5,373.5 95.5,375 95.7,376.7 96.1,378.4 96.7,380.2 97.6,381.9 98.6,383.6 99.8,385 101,386.2 102.3,387.2 103.6,387.9 104.8,388.3 106,388.4 107,388.4 108,388.1 108.8,387.8 109.5,387.5 110.1,387.4 110.8,387.7 111.6,388.7 112.6,390 113.6,391.4 114.9,392.9 116.2,394.4 117.5,395.8 118.9,397 120.2,398 121.5,398.6" fill="#fff" stroke="#141414" stroke-width="1.22" stroke-linejoin="round"/>
<polygon points="118.5,402.1 119.4,401.9 120.1,401.3 120.5,400.4 120.7,399.1 120.5,397.5 120.2,395.8 119.6,393.9 118.8,391.9 117.9,390 117,388.2 116.1,386.5 115.3,385.1 114.7,383.8 114.5,382.9 114.7,382.1 115.1,381.4 115.6,380.6 116,379.6 116.3,378.4 116.5,377.1 116.6,375.5 116.4,373.9 116,372.1 115.3,370.4 114.5,368.6 113.5,367 112.3,365.5 111,364.3 109.8,363.3 108.5,362.6 107.2,362.2 106.1,362.1 105,362.2 104.1,362.4 103.3,362.7 102.6,363 102,363.1 101.3,362.8 100.4,361.8 99.5,360.6 98.4,359.2 97.2,357.6 95.9,356.1 94.5,354.7 93.2,353.5 91.8,352.6 90.6,352 89.5,351.7 88.6,351.9 87.9,352.5 87.5,353.4 87.3,354.7 87.5,356.3 87.8,358 88.4,359.9 89.2,361.9 90.1,363.8 91,365.6 91.9,367.3 92.7,368.7 93.3,370 93.5,370.9 93.3,371.7 92.9,372.4 92.4,373.2 92,374.2 91.7,375.4 91.5,376.7 91.4,378.3 91.6,379.9 92,381.7 92.7,383.4 93.5,385.2 94.5,386.8 95.7,388.3 97,389.5 98.2,390.5 99.5,391.2 100.8,391.6 101.9,391.7 103,391.6 103.9,391.4 104.7,391.1 105.4,390.8 106,390.7 106.7,391 107.6,392 108.5,393.2 109.6,394.6 110.8,396.2 112.1,397.7 113.5,399.1 114.8,400.3 116.2,401.2 117.4,401.8" fill="#fff" stroke="#141414" stroke-width="1.22" stroke-linejoin="round"/>
<ellipse cx="104" cy="376.9" rx="6.8" ry="15.2" transform="rotate(-30 104 376.9)" fill="none" stroke="#141414" stroke-width="0.98"/>
<ellipse cx="104" cy="376.9" rx="5.9" ry="13.2" transform="rotate(-30 104 376.9)" fill="none" stroke="#141414" stroke-width="2.07"/>
<polyline points="113.3,386.2 112.1,386.8 110.6,386.7 108.8,386.1 107,384.9 105.1,383.3 103.3,381.2 101.7,378.8 100.2,376.2 99.1,373.5 98.4,371 98,368.6 98.1,366.6 98.5,364.9 99.4,363.8" fill="none" stroke="#141414" stroke-width="0.85" stroke-linejoin="round"/>
<ellipse cx="117.2" cy="397.4" rx="1.3" ry="2.9" transform="rotate(-30 117.2 397.4)" fill="#333" stroke="#141414" stroke-width="0.98"/>
<ellipse cx="112.2" cy="369.2" rx="1.3" ry="2.9" transform="rotate(-30 112.2 369.2)" fill="#333" stroke="#141414" stroke-width="0.98"/>
<ellipse cx="90.8" cy="356.4" rx="1.3" ry="2.9" transform="rotate(-30 90.8 356.4)" fill="#333" stroke="#141414" stroke-width="0.98"/>
<ellipse cx="95.8" cy="384.6" rx="1.3" ry="2.9" transform="rotate(-30 95.8 384.6)" fill="#333" stroke="#141414" stroke-width="0.98"/>
<line x1="405" y1="337" x2="724" y2="86" stroke="#222" stroke-width="0.85" stroke-dasharray="9 2 2 2"/>
<polygon points="453.1,267.4 454.3,266.9 455.7,266.8 457.5,267.3 459.5,268.3 461.6,269.8 463.9,271.7 466.2,274 468.5,276.7 470.8,279.7 472.9,282.8 474.9,286.1 476.7,289.5 478.3,292.8 479.5,296 480.4,299 481,301.7 481.2,304.1 481.1,306.1 480.5,307.7 479.7,308.8 470.7,316 469.5,316.5 468,316.6 466.3,316.1 464.3,315.1 462.2,313.6 459.9,311.7 457.6,309.4 455.3,306.7 453,303.7 450.8,300.6 448.8,297.3 447,293.9 445.5,290.6 444.3,287.4 443.3,284.4 442.8,281.7 442.6,279.3 442.7,277.3 443.2,275.7 444.1,274.6" fill="#fff" stroke="#141414" stroke-width="1.1" stroke-linejoin="round"/>
<ellipse cx="457.4" cy="295.3" rx="8.4" ry="24.6" transform="rotate(-32 457.4 295.3)" fill="#fff" stroke="#141414" stroke-width="1.1"/>
<ellipse cx="457.4" cy="295.3" rx="7" ry="20.7" transform="rotate(-32 457.4 295.3)" fill="none" stroke="#141414" stroke-width="0.85"/>
<ellipse cx="457.4" cy="295.3" rx="5.2" ry="15.3" transform="rotate(-32 457.4 295.3)" fill="none" stroke="#141414" stroke-width="0.85"/>
<ellipse cx="457.4" cy="295.3" rx="4.7" ry="13.8" transform="rotate(-32 457.4 295.3)" fill="none" stroke="#141414" stroke-width="0.85"/>
<ellipse cx="457.4" cy="295.3" rx="3.7" ry="11" transform="rotate(-32 457.4 295.3)" fill="none" stroke="#141414" stroke-width="1.1"/>
<polyline points="465.1,303.2 464.1,303.5 462.8,303.1 461.2,302.1 459.5,300.6 457.8,298.6 456.2,296.3 454.7,293.8 453.6,291.3 452.8,289.1 452.5,287.1 452.6,285.6 453.2,284.7" fill="none" stroke="#141414" stroke-width="0.73" stroke-linejoin="round"/>
<polygon points="469.6,256.7 470.7,256.1 472.1,256.1 473.7,256.5 475.5,257.5 477.5,258.9 479.7,260.7 481.8,262.8 484,265.3 486.1,268.1 488.1,271.1 490,274.2 491.7,277.3 493.1,280.4 494.3,283.4 495.1,286.2 495.7,288.7 495.9,291 495.7,292.9 495.2,294.3 494.4,295.3 491.9,297.3 490.8,297.9 489.4,297.9 487.8,297.5 486,296.5 484,295.1 481.8,293.3 479.7,291.2 477.5,288.6 475.4,285.9 473.4,282.9 471.5,279.8 469.8,276.7 468.4,273.6 467.2,270.6 466.4,267.8 465.8,265.3 465.6,263 465.8,261.1 466.2,259.7 467.1,258.7" fill="#fff" stroke="#141414" stroke-width="1.83" stroke-linejoin="round"/>
<ellipse cx="479.5" cy="278" rx="7.8" ry="23" transform="rotate(-32 479.5 278)" fill="#fff" stroke="#141414" stroke-width="1.83"/>
<ellipse cx="479.5" cy="278" rx="7.3" ry="21.4" transform="rotate(-32 479.5 278)" fill="none" stroke="#141414" stroke-width="1.22"/>
<ellipse cx="479.5" cy="278" rx="6.7" ry="19.8" transform="rotate(-32 479.5 278)" fill="none" stroke="#141414" stroke-width="0.98"/>
<ellipse cx="479.5" cy="278" rx="5.8" ry="17" transform="rotate(-32 479.5 278)" fill="none" stroke="#141414" stroke-width="0.85"/>
<ellipse cx="479.5" cy="278" rx="5.1" ry="15" transform="rotate(-32 479.5 278)" fill="none" stroke="#141414" stroke-width="1.34"/>
<polyline points="489.2,289.4 487.9,289.8 486.1,289.3 484,287.9 481.7,285.8 479.3,283.1 477.1,280 475.1,276.6 473.5,273.2 472.5,270.1 472,267.4 472.2,265.4 472.9,264.1" fill="none" stroke="#141414" stroke-width="0.85" stroke-linejoin="round"/>
<polygon points="491.7,240 492.7,239.6 494,239.5 495.5,239.9 497.2,240.8 499,242 500.9,243.7 502.9,245.7 504.9,248 506.8,250.5 508.7,253.2 510.4,256 511.9,258.9 513.2,261.7 514.3,264.4 515.1,267 515.5,269.3 515.7,271.4 515.6,273.1 515.2,274.4 514.4,275.3 504.7,283.1 503.6,283.6 502.4,283.7 500.9,283.3 499.2,282.4 497.4,281.2 495.4,279.5 493.5,277.5 491.5,275.2 489.5,272.7 487.7,270 486,267.2 484.5,264.3 483.1,261.5 482.1,258.8 481.3,256.2 480.8,253.9 480.6,251.8 480.8,250.1 481.2,248.8 481.9,247.9" fill="#fff" stroke="#141414" stroke-width="1.1" stroke-linejoin="round"/>
<ellipse cx="493.3" cy="265.5" rx="7.1" ry="21" transform="rotate(-32 493.3 265.5)" fill="#fff" stroke="#141414" stroke-width="1.1"/>
<ellipse cx="493.3" cy="265.5" rx="6" ry="17.6" transform="rotate(-32 493.3 265.5)" fill="none" stroke="#141414" stroke-width="0.85"/>
<ellipse cx="493.3" cy="265.5" rx="4.4" ry="13" transform="rotate(-32 493.3 265.5)" fill="none" stroke="#141414" stroke-width="0.85"/>
<ellipse cx="493.3" cy="265.5" rx="3.8" ry="11.2" transform="rotate(-32 493.3 265.5)" fill="none" stroke="#141414" stroke-width="0.85"/>
<ellipse cx="493.3" cy="265.5" rx="3.1" ry="9" transform="rotate(-32 493.3 265.5)" fill="none" stroke="#141414" stroke-width="1.1"/>
<polyline points="499.9,271.7 499.1,271.9 498,271.6 496.8,270.8 495.4,269.6 494,267.9 492.6,266 491.4,264 490.5,262 489.9,260.1 489.6,258.5 489.7,257.3 490.1,256.6" fill="none" stroke="#141414" stroke-width="0.73" stroke-linejoin="round"/>
<ellipse cx="525" cy="241.5" rx="11.1" ry="32.5" transform="rotate(-32 525 241.5)" fill="#fff" stroke="#141414" stroke-width="1.16"/>
<ellipse cx="525" cy="241.5" rx="10.4" ry="30.7" transform="rotate(-32 525 241.5)" fill="#fff" stroke="#141414" stroke-width="1.16"/>
<polygon points="566.5,207.1 573.5,201.6 574,202.3 572.5,203.6 567,208" fill="#fff" stroke="#141414" stroke-width="1.22" stroke-linejoin="round"/>
<polyline points="570.4,204.1 570.9,204.8" fill="none" stroke="#141414" stroke-width="0.85" stroke-linejoin="round"/>
<polygon points="588.8,242 589.1,241 589.4,240.1 589.7,239.3 590,238.5 590.2,237.6 590.5,236.7 590.7,235.7 590.8,234.7 590.9,233.6 590.9,232.4 590.8,231.2 590.7,229.9 590.5,228.5 590.2,227 589.9,225.5 589.5,224 589,222.4 588.5,220.8 588,219.1 587.3,217.4 586.6,215.6 585.9,213.9 585.1,212.1 584.3,210.3 583.4,208.5 582.4,206.7 581.5,204.8 580.4,203 579.4,201.2 578.3,199.4 577.2,197.7 576,195.9 574.8,194.2 573.6,192.6 572.4,190.9 571.2,189.3 569.9,187.8 568.7,186.3 567.4,184.8 566.1,183.4 564.9,182 563.6,180.6 562.3,179.2 561,177.8 559.6,176.2 558.2,174.5 556.6,172.8 555.1,171 553.5,169.2 551.9,167.6 550.3,166.4 549,165.5 547.8,165.2 546.9,165.4 546.2,166 545.7,166.9 545.4,168 545.1,169.2 544.9,170.3 544.7,171.4 544.4,172.3 544.1,173.2 543.8,174 543.5,174.8 543.2,175.7 543,176.6 542.8,177.6 542.7,178.6 542.6,179.7 542.6,180.9 542.7,182.1 542.8,183.4 543,184.8 543.3,186.3 543.6,187.8 544,189.3 544.4,190.9 545,192.5 545.5,194.2 546.2,195.9 546.8,197.7 547.6,199.4 548.4,201.2 549.2,203 550.1,204.8 551.1,206.7 552,208.5 553.1,210.3 554.1,212.1 555.2,213.9 556.3,215.6 557.5,217.4 558.7,219.1 559.9,220.8 561.1,222.4 562.3,224 563.6,225.5 564.8,227 566.1,228.5 567.4,229.9 568.6,231.3 569.9,232.7 571.2,234.1 572.5,235.5 573.9,237.1 575.3,238.8 576.8,240.5 578.4,242.3 580,244.1 581.6,245.7 583.2,246.9 584.5,247.8 585.7,248.1 586.6,247.9 587.3,247.3 587.8,246.4 588.1,245.3 588.3,244.1 588.6,243" fill="#fff" stroke="#141414" stroke-width="1.22" stroke-linejoin="round"/>
<polygon points="585.7,244.5 585.9,243.5 586.2,242.6 586.5,241.8 586.8,241 587.1,240.1 587.4,239.2 587.6,238.2 587.7,237.2 587.7,236.1 587.7,234.9 587.7,233.7 587.6,232.4 587.4,231 587.1,229.5 586.8,228 586.4,226.5 585.9,224.9 585.4,223.3 584.8,221.6 584.2,219.9 583.5,218.1 582.8,216.4 582,214.6 581.1,212.8 580.2,211 579.3,209.2 578.3,207.3 577.3,205.5 576.2,203.7 575.2,201.9 574,200.2 572.9,198.4 571.7,196.7 570.5,195.1 569.3,193.4 568,191.8 566.8,190.3 565.5,188.8 564.3,187.3 563,185.9 561.7,184.5 560.5,183.1 559.2,181.7 557.8,180.3 556.5,178.7 555,177 553.5,175.3 551.9,173.5 550.3,171.7 548.7,170.1 547.2,168.9 545.8,168 544.7,167.7 543.8,167.9 543.1,168.5 542.6,169.4 542.3,170.5 542,171.7 541.8,172.8 541.6,173.9 541.3,174.8 541,175.7 540.7,176.5 540.4,177.3 540.1,178.2 539.9,179.1 539.7,180.1 539.6,181.1 539.5,182.2 539.5,183.4 539.6,184.6 539.7,185.9 539.9,187.3 540.2,188.8 540.5,190.3 540.9,191.8 541.3,193.4 541.8,195 542.4,196.7 543,198.4 543.7,200.2 544.5,201.9 545.3,203.7 546.1,205.5 547,207.3 547.9,209.2 548.9,211 549.9,212.8 551,214.6 552.1,216.4 553.2,218.1 554.4,219.9 555.5,221.6 556.7,223.3 558,224.9 559.2,226.5 560.5,228 561.7,229.5 563,231 564.2,232.4 565.5,233.8 566.8,235.2 568.1,236.6 569.4,238 570.8,239.6 572.2,241.3 573.7,243 575.3,244.8 576.9,246.6 578.5,248.2 580,249.4 581.4,250.3 582.6,250.6 583.5,250.4 584.2,249.8 584.6,248.9 585,247.8 585.2,246.6 585.4,245.5" fill="#fff" stroke="#141414" stroke-width="1.22" stroke-linejoin="round"/>
<ellipse cx="546.7" cy="170.9" rx="0.8" ry="2.4" transform="rotate(-32 546.7 170.9)" fill="none" stroke="#141414" stroke-width="0.85"/>
<ellipse cx="580.5" cy="247.5" rx="0.8" ry="2.4" transform="rotate(-32 580.5 247.5)" fill="none" stroke="#141414" stroke-width="0.85"/>
<polygon points="543.4,177.7 545.2,176.9 547.5,176.8 550.1,177.5 553.1,179 556.4,181.3 559.8,184.2 563.3,187.8 566.9,191.8 570.3,196.3 573.6,201.2 576.6,206.2 579.4,211.3 581.7,216.3 583.6,221.2 585,225.7 585.9,229.9 586.2,233.5 586,236.6 585.2,238.9 583.9,240.6 568.6,252.8 566.8,253.6 564.6,253.7 561.9,253 558.9,251.5 555.7,249.2 552.2,246.3 548.7,242.7 545.2,238.7 541.7,234.2 538.4,229.3 535.4,224.3 532.7,219.2 530.3,214.2 528.4,209.3 527,204.8 526.2,200.6 525.8,197 526.1,193.9 526.9,191.6 528.2,189.9" fill="#fff" stroke="#141414" stroke-width="1.1" stroke-linejoin="round"/>
<polyline points="577.2,245.9 575.7,246.7 573.9,246.9 571.9,246.6 569.5,245.7 567,244.3 564.2,242.3 561.4,239.9 558.5,237.1 555.5,233.9 552.6,230.3 549.7,226.5 547,222.5 544.4,218.3 542.1,214.1 540,209.8 538.2,205.7 536.8,201.7 535.6,197.9 534.9,194.4 534.5,191.3 534.5,188.5 534.9,186.2 535.6,184.4 536.8,183" fill="none" stroke="#141414" stroke-width="0.85" stroke-linejoin="round"/>
<polyline points="578.8,244.6 577.3,245.4 575.5,245.6 573.4,245.3 571.1,244.4 568.5,243 565.8,241.1 562.9,238.7 560,235.9 557.1,232.6 554.1,229.1 551.3,225.3 548.6,221.2 546,217 543.7,212.8 541.6,208.6 539.8,204.4 538.3,200.4 537.2,196.7 536.4,193.2 536,190 536,187.2 536.4,184.9 537.2,183.1 538.3,181.8" fill="none" stroke="#141414" stroke-width="0.85" stroke-linejoin="round"/>
<polygon points="528.9,191.1 530.7,190.3 532.9,190.2 535.4,190.9 538.3,192.4 541.4,194.5 544.7,197.3 548.1,200.8 551.5,204.7 554.8,209 558,213.6 560.9,218.5 563.6,223.4 565.8,228.2 567.6,232.9 569,237.3 569.8,241.3 570.1,244.8 569.9,247.7 569.1,250 567.9,251.6 563.2,255.3 561.5,256.2 559.3,256.2 556.7,255.5 553.8,254.1 550.7,251.9 547.4,249.1 544,245.7 540.6,241.8 537.3,237.4 534.1,232.8 531.2,228 528.6,223.1 526.3,218.2 524.5,213.5 523.2,209.2 522.3,205.2 522,201.6 522.2,198.7 523,196.4 524.2,194.9" fill="#fff" stroke="#141414" stroke-width="1.1" stroke-linejoin="round"/>
<polyline points="564.1,254.6 562.7,255.3 561,255.6 559,255.2 556.7,254.4 554.3,253 551.6,251.2 548.9,248.9 546.1,246.1 543.2,243 540.4,239.6 537.7,235.9 535,232 532.6,228 530.3,224 528.3,219.9 526.6,215.9 525.2,212 524.1,208.4 523.4,205 523,202 523,199.4 523.4,197.1 524.1,195.4 525.2,194.1" fill="none" stroke="#141414" stroke-width="1.59" stroke-linejoin="round"/>
<polygon points="525.2,195.4 526.9,194.6 529,194.5 531.5,195.2 534.3,196.6 537.3,198.7 540.5,201.4 543.8,204.8 547.1,208.6 550.4,212.8 553.5,217.3 556.3,222 558.8,226.8 561,231.5 562.8,236 564.1,240.3 564.9,244.2 565.2,247.6 565,250.4 564.3,252.7 563,254.2 561.9,255.1 560.2,255.9 558.1,256 555.6,255.3 552.8,253.9 549.7,251.8 546.5,249.1 543.2,245.7 539.9,241.9 536.7,237.7 533.6,233.2 530.8,228.5 528.2,223.8 526,219 524.3,214.5 522.9,210.2 522.1,206.3 521.8,202.9 522,200.1 522.8,197.9 524,196.3" fill="#fff" stroke="#141414" stroke-width="0.85" stroke-linejoin="round"/>
<polygon points="524.5,197.2 526.2,196.4 528.3,196.3 530.7,197 533.4,198.3 536.4,200.4 539.5,203.1 542.7,206.3 545.9,210 549,214.1 552,218.5 554.8,223 557.3,227.6 559.4,232.2 561.1,236.6 562.4,240.8 563.2,244.6 563.5,247.9 563.2,250.6 562.5,252.8 561.3,254.3 559,256.2 557.3,257 555.3,257 552.9,256.4 550.1,255 547.2,252.9 544.1,250.3 540.9,247 537.7,243.3 534.5,239.3 531.5,234.9 528.8,230.3 526.3,225.7 524.2,221.1 522.4,216.7 521.2,212.5 520.4,208.8 520.1,205.4 520.3,202.7 521,200.5 522.2,199" fill="#fff" stroke="#141414" stroke-width="1.46" stroke-linejoin="round"/>
<ellipse cx="540.6" cy="227.6" rx="11.6" ry="34" transform="rotate(-32 540.6 227.6)" fill="#fff" stroke="#141414" stroke-width="1.46"/>
<ellipse cx="540.6" cy="227.6" rx="10.7" ry="31.6" transform="rotate(-32 540.6 227.6)" fill="none" stroke="#141414" stroke-width="0.85"/>
<ellipse cx="540.6" cy="227.6" rx="9" ry="26.6" transform="rotate(-32 540.6 227.6)" fill="none" stroke="#141414" stroke-width="1.59"/>
<polyline points="526.5,205.5 528.4,205.6 530.7,206.4 533.2,207.9 536,210.1 538.8,212.9 541.7,216.2 544.5,219.9 547.2,223.8 549.5,227.9 551.6,232.1 553.3,236.1 554.5,239.9 555.2,243.3 555.5,246.2 555.2,248.6 554.4,250.3" fill="none" stroke="#141414" stroke-width="0.98" stroke-linejoin="round"/>
<polyline points="526.8,206.5 528.8,207 531,208.2 533.5,210 536.1,212.3 538.8,215 541.4,218.2 543.9,221.7 546.3,225.4 548.5,229.2 550.4,233 552,236.7 553.2,240.2 553.9,243.4 554.3,246.3 554.2,248.6 553.7,250.5" fill="none" stroke="#141414" stroke-width="0.98" stroke-linejoin="round"/>
<polyline points="527.7,208 529.7,209 531.9,210.5 534.1,212.5 536.5,214.8 538.8,217.4 541.1,220.3 543.3,223.4 545.4,226.7 547.3,230 549,233.4 550.5,236.7 551.6,239.9 552.4,242.8 553,245.5 553.1,247.9 553,249.9" fill="none" stroke="#141414" stroke-width="0.98" stroke-linejoin="round"/>
<polyline points="529.5,210.6 531.3,211.9 533.2,213.6 535.2,215.5 537.1,217.7 539.1,220.1 540.9,222.6 542.8,225.3 544.5,228 546.1,230.8 547.5,233.6 548.8,236.4 549.9,239.1 550.7,241.7 551.4,244.2 551.8,246.4 552,248.4" fill="none" stroke="#141414" stroke-width="0.98" stroke-linejoin="round"/>
<polygon points="564.8,206.4 564.9,206.4 565,206.4 565.2,206.4 565.3,206.5 565.5,206.6 565.7,206.8 565.9,207 566.1,207.2 566.3,207.4 566.4,207.7 566.6,208 566.8,208.2 566.9,208.5 567,208.8 567.1,209 567.1,209.2 567.1,209.4 567.1,209.6 567.1,209.7 567,209.8 564.3,212 564.2,212 564,212 563.9,212 563.7,211.9 563.6,211.8 563.4,211.6 563.2,211.4 563,211.2 562.8,211 562.6,210.7 562.5,210.5 562.3,210.2 562.2,209.9 562.1,209.7 562,209.4 562,209.2 562,209 562,208.8 562,208.7 562.1,208.6" fill="#fff" stroke="#141414" stroke-width="0.85" stroke-linejoin="round"/>
<ellipse cx="563.2" cy="210.3" rx="0.7" ry="2" transform="rotate(-32 563.2 210.3)" fill="#fff" stroke="#141414" stroke-width="0.85"/>
<ellipse cx="585.6" cy="193.2" rx="3.3" ry="9.8" transform="rotate(-32 585.6 193.2)" fill="#fff" stroke="#141414" stroke-width="1.16"/>
<ellipse cx="585.6" cy="193.2" rx="2.8" ry="8.3" transform="rotate(-32 585.6 193.2)" fill="#fff" stroke="#141414" stroke-width="1.16"/>
<polygon points="588.5,169.5 589.4,169.1 590.5,169 591.7,169.4 593.2,170.1 594.7,171.2 596.4,172.6 598.1,174.3 599.8,176.3 601.5,178.4 603,180.8 604.5,183.2 605.8,185.6 606.9,188 607.8,190.4 608.5,192.6 608.9,194.6 609.1,196.3 609,197.8 608.6,198.9 608,199.7 605.2,201.9 604.4,202.3 603.3,202.4 602,202 600.6,201.3 599,200.2 597.3,198.8 595.6,197.1 593.9,195.1 592.3,193 590.7,190.6 589.2,188.2 587.9,185.8 586.8,183.4 585.9,181 585.2,178.8 584.8,176.8 584.6,175.1 584.8,173.6 585.1,172.5 585.8,171.7" fill="#fff" stroke="#141414" stroke-width="1.83" stroke-linejoin="round"/>
<ellipse cx="595.5" cy="186.8" rx="6.1" ry="18" transform="rotate(-32 595.5 186.8)" fill="#fff" stroke="#141414" stroke-width="1.83"/>
<ellipse cx="595.5" cy="186.8" rx="5.7" ry="16.7" transform="rotate(-32 595.5 186.8)" fill="none" stroke="#141414" stroke-width="1.22"/>
<ellipse cx="595.5" cy="186.8" rx="5.3" ry="15.5" transform="rotate(-32 595.5 186.8)" fill="none" stroke="#141414" stroke-width="0.98"/>
<ellipse cx="595.5" cy="186.8" rx="4.5" ry="13.3" transform="rotate(-32 595.5 186.8)" fill="none" stroke="#141414" stroke-width="0.85"/>
<ellipse cx="595.5" cy="186.8" rx="3.9" ry="11.5" transform="rotate(-32 595.5 186.8)" fill="none" stroke="#141414" stroke-width="1.34"/>
<polyline points="603.3,195.2 602.3,195.5 600.9,195.1 599.3,194.1 597.5,192.5 595.7,190.4 594,188 592.5,185.4 591.3,182.8 590.5,180.5 590.1,178.4 590.3,176.9 590.8,175.9" fill="none" stroke="#141414" stroke-width="0.85" stroke-linejoin="round"/>
<ellipse cx="595.5" cy="186.8" rx="3.3" ry="9.6" transform="rotate(-32 595.5 186.8)" fill="#fff" stroke="#141414" stroke-width="1.71"/>
<polyline points="589.8,177.6 590.9,178.1 592.2,178.9 593.7,180.1 595.1,181.7 596.6,183.5 597.9,185.5 599.1,187.6 600.1,189.7 600.9,191.7 601.3,193.5 601.5,195 601.4,196.2" fill="none" stroke="#141414" stroke-width="1.1" stroke-linejoin="round"/>
<polyline points="588.8,178.4 590,178.8 591.3,179.7 592.7,180.9 594.2,182.4 595.6,184.3 597,186.3 598.2,188.4 599.2,190.4 599.9,192.4 600.4,194.2 600.6,195.8 600.4,197" fill="none" stroke="#141414" stroke-width="1.1" stroke-linejoin="round"/>
<polygon points="692.9,91.1 693.6,90.7 694.5,90.7 695.6,91 696.9,91.6 698.2,92.6 699.6,93.8 701.1,95.2 702.5,96.9 704,98.8 705.3,100.7 706.6,102.8 707.7,104.9 708.6,107 709.4,109 710,110.9 710.4,112.6 710.5,114.1 710.4,115.3 710.1,116.3 709.5,117 684.6,137 683.8,137.3 682.9,137.4 681.8,137.1 680.5,136.5 679.2,135.5 677.8,134.3 676.3,132.9 674.9,131.2 673.5,129.3 672.1,127.3 670.9,125.3 669.7,123.2 668.8,121.1 668,119.1 667.4,117.2 667.1,115.5 666.9,114 667,112.8 667.4,111.8 667.9,111.1" fill="#fff" stroke="#141414" stroke-width="1.1" stroke-linejoin="round"/>
<polyline points="691.1,92 692.1,91.6 693.4,91.7 694.9,92.4 696.6,93.5 698.4,95.1 700.3,97.1 702.1,99.4 703.9,101.9 705.4,104.6 706.8,107.2 707.9,109.9 708.7,112.3 709.1,114.4 709.2,116.3 708.8,117.6 708.2,118.6" fill="none" stroke="#141414" stroke-width="1.46" stroke-linejoin="round"/>
<polyline points="692.7,90.8 693.6,90.4 694.9,90.5 696.4,91.1 698.1,92.3 700,93.9 701.8,95.8 703.7,98.1 705.4,100.7 707,103.3 708.4,106 709.5,108.6 710.2,111 710.7,113.2 710.7,115 710.4,116.4 709.7,117.3" fill="none" stroke="#141414" stroke-width="1.46" stroke-linejoin="round"/>
<polygon points="686.4,137.6 686.8,137.5 687.3,137.5 688,137.7 688.6,137.9 689,137.7 689.1,137 688.8,136 688.3,134.8 687.9,133.7 687.6,132.8 687.4,131.9 687.2,131.1 687,130.3 686.8,129.5 686.5,128.6 686.2,127.7 685.9,126.8 685.7,125.9 685.5,125 685.3,124 685,122.9 684.3,121.8 683.5,120.8 682.6,119.8 681.8,119 681.1,118.2 680.5,117.3 679.8,116.4 679.1,115.6 678.5,114.8 677.8,114 677.1,113.2 676.5,112.4 675.7,111.5 675,110.4 674.1,109.2 673.3,108.3 672.6,107.9 672.1,107.9 671.7,108.2 671.3,108.4 670.9,108.5 670.4,108.5 670,108.4 669.5,108.4 669.1,108.4 668.7,108.5 668.4,108.7 668,108.7 667.5,108.7 666.8,108.5 666.2,108.3 665.8,108.5 665.7,109.2 666,110.3 666.5,111.4 666.9,112.5 667.2,113.5 667.4,114.3 667.6,115.1 667.8,115.9 668,116.8 668.3,117.6 668.6,118.5 668.9,119.4 669.1,120.3 669.3,121.2 669.5,122.2 669.8,123.3 670.5,124.4 671.3,125.5 672.2,126.4 673,127.2 673.7,128.1 674.3,128.9 675,129.8 675.7,130.6 676.3,131.5 677,132.2 677.7,133 678.3,133.8 679.1,134.7 679.8,135.9 680.7,137 681.5,137.9 682.2,138.3 682.7,138.3 683.1,138 683.5,137.8 683.9,137.7 684.4,137.8 684.8,137.8 685.3,137.8 685.7,137.8 686.1,137.7" fill="#fff" stroke="#141414" stroke-width="0.98" stroke-linejoin="round"/>
<polygon points="685.3,138.5 685.7,138.4 686.2,138.5 686.8,138.7 687.4,138.8 687.9,138.6 687.9,138 687.6,136.9 687.1,135.7 686.7,134.6 686.4,133.7 686.2,132.9 686.1,132.1 685.9,131.2 685.6,130.4 685.3,129.5 685,128.6 684.7,127.7 684.5,126.8 684.4,125.9 684.2,124.9 683.8,123.8 683.1,122.7 682.3,121.7 681.4,120.8 680.6,119.9 679.9,119.1 679.3,118.2 678.6,117.4 678,116.5 677.3,115.7 676.6,114.9 676,114.2 675.3,113.4 674.6,112.4 673.8,111.3 673,110.2 672.2,109.2 671.5,108.8 670.9,108.8 670.5,109.1 670.2,109.4 669.7,109.4 669.3,109.4 668.8,109.3 668.3,109.3 667.9,109.4 667.6,109.5 667.2,109.6 666.8,109.7 666.3,109.6 665.7,109.4 665,109.3 664.6,109.5 664.5,110.1 664.8,111.2 665.3,112.4 665.7,113.5 666,114.4 666.2,115.2 666.4,116 666.6,116.8 666.9,117.7 667.1,118.6 667.5,119.5 667.7,120.4 667.9,121.3 668.1,122.2 668.3,123.2 668.7,124.3 669.3,125.4 670.1,126.4 671,127.3 671.8,128.2 672.5,129 673.2,129.9 673.8,130.7 674.5,131.6 675.1,132.4 675.8,133.2 676.5,133.9 677.2,134.7 677.9,135.7 678.7,136.8 679.5,137.9 680.3,138.8 681,139.3 681.5,139.2 681.9,139 682.3,138.7 682.7,138.7 683.2,138.7 683.7,138.8 684.1,138.8 684.5,138.7 684.9,138.6" fill="#fff" stroke="#141414" stroke-width="0.98" stroke-linejoin="round"/>
<polygon points="669.4,113.5 670,113.2 670.8,113.1 671.7,113.4 672.7,113.9 673.8,114.7 674.9,115.6 676.1,116.8 677.3,118.2 678.5,119.7 679.6,121.4 680.6,123 681.5,124.8 682.3,126.5 683,128.1 683.4,129.6 683.7,131 683.8,132.3 683.7,133.3 683.5,134.1 683,134.6 672.1,143.4 671.5,143.7 670.7,143.7 669.8,143.5 668.8,142.9 667.7,142.2 666.6,141.2 665.4,140 664.2,138.6 663,137.1 661.9,135.5 660.9,133.8 660,132.1 659.2,130.4 658.6,128.8 658.1,127.2 657.8,125.8 657.7,124.6 657.8,123.6 658,122.8 658.5,122.2" fill="#fff" stroke="#141414" stroke-width="1.1" stroke-linejoin="round"/>
<ellipse cx="665.3" cy="132.8" rx="4.3" ry="12.6" transform="rotate(-32 665.3 132.8)" fill="#fff" stroke="#141414" stroke-width="1.1"/>
<ellipse cx="665.3" cy="132.8" rx="3.9" ry="11.6" transform="rotate(-32 665.3 132.8)" fill="#333" stroke="#141414" stroke-width="0.73"/>
<ellipse cx="667" cy="131.4" rx="2.9" ry="8.4" transform="rotate(-32 667 131.4)" fill="#fff" stroke="#141414" stroke-width="0.73"/>
<polyline points="662.6,124.6 663.6,124.9 664.8,125.7 666.2,127 667.6,128.6 668.8,130.4 669.9,132.4 670.8,134.3 671.3,136.1 671.5,137.5 671.3,138.6" fill="none" stroke="#141414" stroke-width="0.61" stroke-linejoin="round"/>
<polyline points="662,125.1 663,125.4 664.2,126.2 665.6,127.5 666.9,129.1 668.2,130.9 669.3,132.9 670.1,134.8 670.7,136.6 670.8,138 670.6,139.1" fill="none" stroke="#141414" stroke-width="0.61" stroke-linejoin="round"/>
<polyline points="661.3,125.6 662.4,125.9 663.6,126.7 664.9,128 666.3,129.6 667.6,131.4 668.7,133.4 669.5,135.3 670,137.1 670.2,138.5 670,139.6" fill="none" stroke="#141414" stroke-width="0.61" stroke-linejoin="round"/>
<polyline points="660.7,126.1 661.7,126.4 663,127.2 664.3,128.5 665.7,130.1 667,131.9 668.1,133.9 668.9,135.8 669.4,137.6 669.6,139 669.4,140.1" fill="none" stroke="#141414" stroke-width="0.61" stroke-linejoin="round"/>
<polyline points="674.5,141.5 673.5,141.8 672.3,141.6 670.9,140.9 669.3,139.6 667.6,137.9 665.9,135.9 664.3,133.6 662.8,131.2 661.7,128.8 660.8,126.4 660.2,124.3 660,122.6 660.2,121.2 660.8,120.3" fill="none" stroke="#141414" stroke-width="0.73" stroke-linejoin="round"/>
<polyline points="676.8,139.6 675.9,140 674.7,139.8 673.2,139 671.6,137.8 669.9,136.1 668.2,134 666.6,131.7 665.2,129.3 664,126.9 663.1,124.6 662.6,122.5 662.4,120.7 662.6,119.3 663.2,118.5" fill="none" stroke="#141414" stroke-width="0.73" stroke-linejoin="round"/>
<polyline points="679.1,137.8 678.2,138.1 677,137.9 675.6,137.1 673.9,135.9 672.3,134.2 670.6,132.2 669,129.9 667.5,127.4 666.3,125 665.4,122.7 664.9,120.6 664.7,118.8 664.9,117.5 665.5,116.6" fill="none" stroke="#141414" stroke-width="0.73" stroke-linejoin="round"/>
<polygon points="711.7,83.1 712.1,82.8 712.7,82.8 713.3,83 714.1,83.4 714.9,83.9 715.8,84.7 716.7,85.6 717.6,86.6 718.4,87.7 719.2,88.9 720,90.2 720.7,91.5 721.3,92.7 721.8,94 722.1,95.1 722.3,96.2 722.4,97.1 722.3,97.8 722.2,98.4 721.8,98.8 720.9,99.6 720.4,99.8 719.9,99.8 719.2,99.6 718.4,99.3 717.6,98.7 716.8,98 715.9,97.1 715,96.1 714.1,94.9 713.3,93.7 712.5,92.5 711.8,91.2 711.3,89.9 710.8,88.7 710.4,87.5 710.2,86.5 710.1,85.6 710.2,84.8 710.4,84.2 710.7,83.8" fill="#fff" stroke="#141414" stroke-width="1.1" stroke-linejoin="round"/>
<ellipse cx="715.8" cy="91.7" rx="3.2" ry="9.4" transform="rotate(-32 715.8 91.7)" fill="#fff" stroke="#141414" stroke-width="1.1"/>
<ellipse cx="715.8" cy="91.7" rx="1" ry="3" transform="rotate(-32 715.8 91.7)" fill="none" stroke="#141414" stroke-width="0.85"/>
<polygon points="732.5,71.3 732.8,71.2 733.1,71.2 733.4,71.3 733.9,71.5 734.3,71.8 734.8,72.2 735.3,72.7 735.8,73.3 736.3,73.9 736.7,74.6 737.1,75.3 737.5,76 737.8,76.7 738.1,77.4 738.3,78 738.4,78.6 738.5,79.1 738.4,79.5 738.3,79.8 738.1,80.1 735,82.6 734.8,82.7 734.4,82.7 734.1,82.6 733.7,82.4 733.2,82.1 732.7,81.7 732.2,81.2 731.7,80.6 731.3,80 730.8,79.3 730.4,78.6 730,77.9 729.7,77.2 729.4,76.5 729.2,75.9 729.1,75.3 729.1,74.8 729.1,74.4 729.2,74.1 729.4,73.8" fill="#fff" stroke="#141414" stroke-width="0.98" stroke-linejoin="round"/>
<ellipse cx="732.2" cy="78.2" rx="1.8" ry="5.2" transform="rotate(-32 732.2 78.2)" fill="#fff" stroke="#141414" stroke-width="0.98"/>
<line x1="730.9" y1="76.2" x2="735.2" y2="72.8" stroke="#141414" stroke-width="0.73"/>
<line x1="733.5" y1="80.2" x2="737.8" y2="76.7" stroke="#141414" stroke-width="0.73"/>
<polygon points="728.6,72.7 728.9,72.5 729.3,72.5 729.8,72.6 730.3,72.9 730.9,73.3 731.5,73.8 732.1,74.4 732.8,75.1 733.4,75.9 734,76.8 734.5,77.7 735,78.6 735.4,79.5 735.7,80.3 736,81.1 736.1,81.9 736.2,82.5 736.1,83 736,83.5 735.8,83.7 734.8,84.6 734.4,84.7 734,84.7 733.6,84.6 733,84.3 732.5,83.9 731.9,83.4 731.2,82.8 730.6,82.1 730,81.3 729.4,80.4 728.9,79.5 728.4,78.6 728,77.8 727.7,76.9 727.4,76.1 727.3,75.4 727.2,74.7 727.2,74.2 727.4,73.8 727.6,73.5" fill="#fff" stroke="#141414" stroke-width="0.98" stroke-linejoin="round"/>
<ellipse cx="731.2" cy="79" rx="2.2" ry="6.6" transform="rotate(-32 731.2 79)" fill="#fff" stroke="#141414" stroke-width="0.98"/>
<polygon points="729.4,76.2 729.6,76.2 729.8,76.2 730,76.2 730.3,76.4 730.5,76.6 730.8,76.8 731.2,77.1 731.5,77.5 731.8,77.9 732.1,78.3 732.3,78.7 732.6,79.2 732.8,79.6 732.9,80.1 733.1,80.5 733.1,80.8 733.2,81.2 733.2,81.4 733.1,81.6 733,81.8 723.4,89.4 723.3,89.5 723.1,89.5 722.9,89.4 722.6,89.3 722.3,89.1 722,88.8 721.7,88.5 721.4,88.2 721.1,87.8 720.8,87.3 720.5,86.9 720.3,86.5 720.1,86 719.9,85.6 719.8,85.2 719.7,84.8 719.7,84.5 719.7,84.2 719.8,84 719.9,83.9" fill="#fff" stroke="#141414" stroke-width="0.85" stroke-linejoin="round"/>
<ellipse cx="721.7" cy="86.6" rx="1.1" ry="3.3" transform="rotate(-32 721.7 86.6)" fill="#fff" stroke="#141414" stroke-width="0.85"/>
<polyline points="724.3,88.8 723.8,88.8 723.1,88.4 722.4,87.7 721.6,86.7 721,85.6 720.6,84.5 720.5,83.7 720.7,83.2" fill="none" stroke="#141414" stroke-width="0.98" stroke-linejoin="round"/>
<polyline points="725.1,88.1 724.6,88.2 723.9,87.8 723.2,87 722.4,86 721.8,84.9 721.4,83.9 721.3,83 721.5,82.6" fill="none" stroke="#141414" stroke-width="0.98" stroke-linejoin="round"/>
<polyline points="725.9,87.4 725.4,87.5 724.8,87.1 724,86.4 723.2,85.4 722.6,84.3 722.2,83.2 722.1,82.4 722.3,81.9" fill="none" stroke="#141414" stroke-width="0.98" stroke-linejoin="round"/>
<polyline points="726.7,86.8 726.3,86.8 725.6,86.5 724.8,85.7 724.1,84.7 723.4,83.6 723.1,82.6 723,81.7 723.2,81.2" fill="none" stroke="#141414" stroke-width="0.98" stroke-linejoin="round"/>
<polyline points="727.5,86.1 727.1,86.2 726.4,85.8 725.6,85.1 724.9,84.1 724.3,82.9 723.9,81.9 723.8,81.1 724,80.6" fill="none" stroke="#141414" stroke-width="0.98" stroke-linejoin="round"/>
<polyline points="728.4,85.5 727.9,85.5 727.2,85.2 726.5,84.4 725.7,83.4 725.1,82.3 724.7,81.2 724.6,80.4 724.8,79.9" fill="none" stroke="#141414" stroke-width="0.98" stroke-linejoin="round"/>
<polyline points="729.2,84.8 728.7,84.9 728,84.5 727.3,83.8 726.5,82.8 725.9,81.6 725.5,80.6 725.4,79.8 725.6,79.3" fill="none" stroke="#141414" stroke-width="0.98" stroke-linejoin="round"/>
<polyline points="730,84.2 729.5,84.2 728.9,83.8 728.1,83.1 727.3,82.1 726.7,81 726.3,79.9 726.2,79.1 726.4,78.6" fill="none" stroke="#141414" stroke-width="0.98" stroke-linejoin="round"/>
<polyline points="730.8,83.5 730.4,83.6 729.7,83.2 728.9,82.4 728.2,81.4 727.5,80.3 727.2,79.3 727.1,78.4 727.3,78" fill="none" stroke="#141414" stroke-width="0.98" stroke-linejoin="round"/>
<polyline points="731.6,82.8 731.2,82.9 730.5,82.5 729.7,81.8 729,80.8 728.4,79.7 728,78.6 727.9,77.8 728.1,77.3" fill="none" stroke="#141414" stroke-width="0.98" stroke-linejoin="round"/>
<polyline points="732.5,82.2 732,82.3 731.3,81.9 730.5,81.1 729.8,80.1 729.2,79 728.8,78 728.7,77.1 728.9,76.6" fill="none" stroke="#141414" stroke-width="0.98" stroke-linejoin="round"/>
<polygon points="729.4,76.2 729.6,76.2 729.8,76.2 730,76.2 730.3,76.4 730.5,76.6 730.8,76.8 731.2,77.1 731.5,77.5 731.8,77.9 732.1,78.3 732.3,78.7 732.6,79.2 732.8,79.6 732.9,80.1 733.1,80.5 733.1,80.8 733.2,81.2 733.2,81.4 733.1,81.6 733,81.8 732,82.6 731.8,82.7 731.6,82.7 731.4,82.6 731.1,82.5 730.8,82.3 730.5,82 730.2,81.7 729.9,81.4 729.6,81 729.3,80.5 729,80.1 728.8,79.6 728.6,79.2 728.4,78.8 728.3,78.4 728.2,78 728.2,77.7 728.2,77.4 728.3,77.2 728.4,77.1" fill="#fff" stroke="#141414" stroke-width="0.85" stroke-linejoin="round"/>
<polygon points="581.2,143.5 581.5,143.4 581.7,143.4 582.1,143.5 582.4,143.7 582.8,144 583.3,144.3 583.7,144.8 584.1,145.3 584.5,145.8 584.9,146.4 585.3,147 585.7,147.7 585.9,148.3 586.2,148.9 586.3,149.4 586.5,149.9 586.5,150.4 586.5,150.8 586.4,151.1 586.2,151.3 583.1,153.8 582.9,153.9 582.6,153.9 582.3,153.8 581.9,153.6 581.5,153.3 581.1,153 580.6,152.5 580.2,152 579.8,151.5 579.4,150.9 579,150.3 578.7,149.6 578.4,149 578.1,148.4 578,147.9 577.9,147.4 577.8,146.9 577.9,146.5 577.9,146.2 578.1,146" fill="#fff" stroke="#141414" stroke-width="0.98" stroke-linejoin="round"/>
<ellipse cx="580.6" cy="149.9" rx="1.6" ry="4.6" transform="rotate(-32 580.6 149.9)" fill="#fff" stroke="#141414" stroke-width="0.98"/>
<line x1="579.5" y1="148.2" x2="583.6" y2="144.8" stroke="#141414" stroke-width="0.73"/>
<line x1="581.7" y1="151.6" x2="585.9" y2="148.3" stroke="#141414" stroke-width="0.73"/>
<polygon points="577.5,145 577.7,144.9 578.1,144.9 578.5,145 579,145.2 579.5,145.6 580,146 580.6,146.6 581.1,147.2 581.6,147.9 582.1,148.7 582.6,149.4 583,150.2 583.4,151 583.7,151.8 583.9,152.5 584,153.1 584.1,153.7 584.1,154.2 583.9,154.5 583.7,154.8 582.7,155.6 582.4,155.7 582.1,155.7 581.7,155.6 581.2,155.4 580.7,155 580.2,154.6 579.6,154 579.1,153.4 578.5,152.7 578,152 577.6,151.2 577.1,150.4 576.8,149.6 576.5,148.9 576.3,148.1 576.1,147.5 576.1,146.9 576.1,146.5 576.2,146.1 576.4,145.8" fill="#fff" stroke="#141414" stroke-width="0.98" stroke-linejoin="round"/>
<ellipse cx="579.6" cy="150.7" rx="2" ry="5.8" transform="rotate(-32 579.6 150.7)" fill="#fff" stroke="#141414" stroke-width="0.98"/>
<polygon points="578.2,148.5 578.3,148.5 578.5,148.5 578.6,148.5 578.9,148.6 579.1,148.8 579.3,149 579.6,149.2 579.8,149.5 580.1,149.8 580.3,150.2 580.5,150.5 580.7,150.9 580.8,151.2 581,151.5 581.1,151.9 581.1,152.2 581.2,152.4 581.1,152.6 581.1,152.8 581,152.9 569.5,162.1 569.4,162.1 569.2,162.2 569.1,162.1 568.8,162 568.6,161.8 568.4,161.6 568.1,161.4 567.9,161.1 567.6,160.8 567.4,160.5 567.2,160.1 567,159.8 566.9,159.4 566.7,159.1 566.6,158.8 566.6,158.5 566.5,158.2 566.6,158 566.6,157.8 566.7,157.7" fill="#fff" stroke="#141414" stroke-width="0.85" stroke-linejoin="round"/>
<ellipse cx="568.1" cy="159.9" rx="0.9" ry="2.6" transform="rotate(-32 568.1 159.9)" fill="#fff" stroke="#141414" stroke-width="0.85"/>
<polyline points="570.3,161.4 570,161.5 569.4,161.2 568.8,160.6 568.2,159.8 567.8,158.9 567.4,158.1 567.4,157.4 567.5,157.1" fill="none" stroke="#141414" stroke-width="0.98" stroke-linejoin="round"/>
<polyline points="571.2,160.8 570.8,160.8 570.3,160.5 569.6,159.9 569.1,159.1 568.6,158.3 568.3,157.4 568.2,156.8 568.3,156.4" fill="none" stroke="#141414" stroke-width="0.98" stroke-linejoin="round"/>
<polyline points="572,160.1 571.6,160.2 571.1,159.9 570.5,159.3 569.9,158.5 569.4,157.6 569.1,156.8 569,156.1 569.2,155.7" fill="none" stroke="#141414" stroke-width="0.98" stroke-linejoin="round"/>
<polyline points="572.8,159.5 572.4,159.5 571.9,159.2 571.3,158.6 570.7,157.8 570.2,157 569.9,156.1 569.8,155.5 570,155.1" fill="none" stroke="#141414" stroke-width="0.98" stroke-linejoin="round"/>
<polyline points="573.6,158.8 573.2,158.9 572.7,158.6 572.1,158 571.5,157.2 571,156.3 570.7,155.5 570.6,154.8 570.8,154.4" fill="none" stroke="#141414" stroke-width="0.98" stroke-linejoin="round"/>
<polyline points="574.4,158.1 574.1,158.2 573.5,157.9 572.9,157.3 572.3,156.5 571.9,155.6 571.5,154.8 571.5,154.2 571.6,153.8" fill="none" stroke="#141414" stroke-width="0.98" stroke-linejoin="round"/>
<polyline points="575.3,157.5 574.9,157.5 574.4,157.2 573.7,156.7 573.2,155.9 572.7,155 572.4,154.2 572.3,153.5 572.4,153.1" fill="none" stroke="#141414" stroke-width="0.98" stroke-linejoin="round"/>
<polyline points="576.1,156.8 575.7,156.9 575.2,156.6 574.6,156 574,155.2 573.5,154.3 573.2,153.5 573.1,152.8 573.3,152.5" fill="none" stroke="#141414" stroke-width="0.98" stroke-linejoin="round"/>
<polyline points="576.9,156.2 576.5,156.2 576,155.9 575.4,155.3 574.8,154.6 574.3,153.7 574,152.8 573.9,152.2 574.1,151.8" fill="none" stroke="#141414" stroke-width="0.98" stroke-linejoin="round"/>
<polyline points="577.7,155.5 577.3,155.6 576.8,155.3 576.2,154.7 575.6,153.9 575.1,153 574.8,152.2 574.7,151.5 574.9,151.2" fill="none" stroke="#141414" stroke-width="0.98" stroke-linejoin="round"/>
<polyline points="578.5,154.9 578.2,154.9 577.6,154.6 577,154 576.4,153.2 575.9,152.4 575.6,151.5 575.6,150.9 575.7,150.5" fill="none" stroke="#141414" stroke-width="0.98" stroke-linejoin="round"/>
<polyline points="579.4,154.2 579,154.3 578.5,154 577.8,153.4 577.3,152.6 576.8,151.7 576.5,150.9 576.4,150.2 576.5,149.8" fill="none" stroke="#141414" stroke-width="0.98" stroke-linejoin="round"/>
<polyline points="580.2,153.6 579.8,153.6 579.3,153.3 578.7,152.7 578.1,151.9 577.6,151 577.3,150.2 577.2,149.6 577.4,149.2" fill="none" stroke="#141414" stroke-width="0.98" stroke-linejoin="round"/>
<polygon points="578.2,148.5 578.3,148.5 578.5,148.5 578.6,148.5 578.9,148.6 579.1,148.8 579.3,149 579.6,149.2 579.8,149.5 580.1,149.8 580.3,150.2 580.5,150.5 580.7,150.9 580.8,151.2 581,151.5 581.1,151.9 581.1,152.2 581.2,152.4 581.1,152.6 581.1,152.8 581,152.9 580,153.7 579.9,153.8 579.7,153.8 579.5,153.7 579.3,153.6 579.1,153.5 578.8,153.3 578.6,153 578.3,152.7 578.1,152.4 577.9,152.1 577.7,151.7 577.5,151.4 577.3,151 577.2,150.7 577.1,150.4 577,150.1 577,149.8 577,149.6 577.1,149.5 577.2,149.3" fill="#fff" stroke="#141414" stroke-width="0.85" stroke-linejoin="round"/>
<polygon points="608.6,155.1 608.9,155 609.1,155 609.5,155.1 609.8,155.3 610.2,155.6 610.7,155.9 611.1,156.4 611.5,156.9 611.9,157.4 612.3,158 612.7,158.6 613.1,159.3 613.3,159.9 613.6,160.5 613.7,161 613.9,161.5 613.9,162 613.9,162.4 613.8,162.7 613.6,162.9 610.5,165.4 610.3,165.5 610,165.5 609.7,165.4 609.3,165.2 608.9,164.9 608.5,164.6 608,164.1 607.6,163.6 607.2,163.1 606.8,162.5 606.4,161.9 606.1,161.2 605.8,160.6 605.5,160 605.4,159.5 605.3,159 605.2,158.5 605.3,158.1 605.3,157.8 605.5,157.6" fill="#fff" stroke="#141414" stroke-width="0.98" stroke-linejoin="round"/>
<ellipse cx="608" cy="161.5" rx="1.6" ry="4.6" transform="rotate(-32 608 161.5)" fill="#fff" stroke="#141414" stroke-width="0.98"/>
<line x1="606.9" y1="159.8" x2="611" y2="156.4" stroke="#141414" stroke-width="0.73"/>
<line x1="609.1" y1="163.2" x2="613.3" y2="159.9" stroke="#141414" stroke-width="0.73"/>
<polygon points="604.9,156.6 605.1,156.5 605.5,156.5 605.9,156.6 606.4,156.8 606.9,157.2 607.4,157.6 608,158.2 608.5,158.8 609,159.5 609.5,160.3 610,161 610.4,161.8 610.8,162.6 611.1,163.4 611.3,164.1 611.4,164.7 611.5,165.3 611.5,165.8 611.3,166.1 611.1,166.4 610.1,167.2 609.8,167.3 609.5,167.3 609.1,167.2 608.6,167 608.1,166.6 607.6,166.2 607,165.6 606.5,165 605.9,164.3 605.4,163.6 605,162.8 604.5,162 604.2,161.2 603.9,160.5 603.7,159.7 603.5,159.1 603.5,158.5 603.5,158.1 603.6,157.7 603.8,157.4" fill="#fff" stroke="#141414" stroke-width="0.98" stroke-linejoin="round"/>
<ellipse cx="607" cy="162.3" rx="2" ry="5.8" transform="rotate(-32 607 162.3)" fill="#fff" stroke="#141414" stroke-width="0.98"/>
<polygon points="605.6,160.1 605.7,160.1 605.9,160.1 606,160.1 606.3,160.2 606.5,160.4 606.7,160.6 607,160.8 607.2,161.1 607.5,161.4 607.7,161.8 607.9,162.1 608.1,162.5 608.2,162.8 608.4,163.1 608.5,163.5 608.5,163.8 608.6,164 608.5,164.2 608.5,164.4 608.4,164.5 596.9,173.7 596.8,173.7 596.6,173.8 596.5,173.7 596.2,173.6 596,173.4 595.8,173.2 595.5,173 595.3,172.7 595,172.4 594.8,172.1 594.6,171.7 594.4,171.4 594.3,171 594.1,170.7 594,170.4 594,170.1 593.9,169.8 594,169.6 594,169.4 594.1,169.3" fill="#fff" stroke="#141414" stroke-width="0.85" stroke-linejoin="round"/>
<ellipse cx="595.5" cy="171.5" rx="0.9" ry="2.6" transform="rotate(-32 595.5 171.5)" fill="#fff" stroke="#141414" stroke-width="0.85"/>
<polyline points="597.7,173 597.4,173.1 596.8,172.8 596.2,172.2 595.6,171.4 595.2,170.5 594.8,169.7 594.8,169 594.9,168.7" fill="none" stroke="#141414" stroke-width="0.98" stroke-linejoin="round"/>
<polyline points="598.6,172.4 598.2,172.4 597.7,172.1 597,171.5 596.5,170.7 596,169.9 595.7,169 595.6,168.4 595.7,168" fill="none" stroke="#141414" stroke-width="0.98" stroke-linejoin="round"/>
<polyline points="599.4,171.7 599,171.8 598.5,171.5 597.9,170.9 597.3,170.1 596.8,169.2 596.5,168.4 596.4,167.7 596.6,167.3" fill="none" stroke="#141414" stroke-width="0.98" stroke-linejoin="round"/>
<polyline points="600.2,171.1 599.8,171.1 599.3,170.8 598.7,170.2 598.1,169.4 597.6,168.6 597.3,167.7 597.2,167.1 597.4,166.7" fill="none" stroke="#141414" stroke-width="0.98" stroke-linejoin="round"/>
<polyline points="601,170.4 600.6,170.5 600.1,170.2 599.5,169.6 598.9,168.8 598.4,167.9 598.1,167.1 598,166.4 598.2,166" fill="none" stroke="#141414" stroke-width="0.98" stroke-linejoin="round"/>
<polyline points="601.8,169.7 601.5,169.8 600.9,169.5 600.3,168.9 599.7,168.1 599.3,167.2 598.9,166.4 598.9,165.8 599,165.4" fill="none" stroke="#141414" stroke-width="0.98" stroke-linejoin="round"/>
<polyline points="602.7,169.1 602.3,169.1 601.8,168.8 601.1,168.3 600.6,167.5 600.1,166.6 599.8,165.8 599.7,165.1 599.8,164.7" fill="none" stroke="#141414" stroke-width="0.98" stroke-linejoin="round"/>
<polyline points="603.5,168.4 603.1,168.5 602.6,168.2 602,167.6 601.4,166.8 600.9,165.9 600.6,165.1 600.5,164.4 600.7,164.1" fill="none" stroke="#141414" stroke-width="0.98" stroke-linejoin="round"/>
<polyline points="604.3,167.8 603.9,167.8 603.4,167.5 602.8,166.9 602.2,166.2 601.7,165.3 601.4,164.4 601.3,163.8 601.5,163.4" fill="none" stroke="#141414" stroke-width="0.98" stroke-linejoin="round"/>
<polyline points="605.1,167.1 604.7,167.2 604.2,166.9 603.6,166.3 603,165.5 602.5,164.6 602.2,163.8 602.1,163.1 602.3,162.8" fill="none" stroke="#141414" stroke-width="0.98" stroke-linejoin="round"/>
<polyline points="605.9,166.5 605.6,166.5 605,166.2 604.4,165.6 603.8,164.8 603.3,164 603,163.1 603,162.5 603.1,162.1" fill="none" stroke="#141414" stroke-width="0.98" stroke-linejoin="round"/>
<polyline points="606.8,165.8 606.4,165.9 605.9,165.6 605.2,165 604.7,164.2 604.2,163.3 603.9,162.5 603.8,161.8 603.9,161.4" fill="none" stroke="#141414" stroke-width="0.98" stroke-linejoin="round"/>
<polyline points="607.6,165.2 607.2,165.2 606.7,164.9 606.1,164.3 605.5,163.5 605,162.6 604.7,161.8 604.6,161.2 604.8,160.8" fill="none" stroke="#141414" stroke-width="0.98" stroke-linejoin="round"/>
<polygon points="605.6,160.1 605.7,160.1 605.9,160.1 606,160.1 606.3,160.2 606.5,160.4 606.7,160.6 607,160.8 607.2,161.1 607.5,161.4 607.7,161.8 607.9,162.1 608.1,162.5 608.2,162.8 608.4,163.1 608.5,163.5 608.5,163.8 608.6,164 608.5,164.2 608.5,164.4 608.4,164.5 607.4,165.3 607.3,165.4 607.1,165.4 606.9,165.3 606.7,165.2 606.5,165.1 606.2,164.9 606,164.6 605.7,164.3 605.5,164 605.3,163.7 605.1,163.3 604.9,163 604.7,162.6 604.6,162.3 604.5,162 604.4,161.7 604.4,161.4 604.4,161.2 604.5,161.1 604.6,160.9" fill="#fff" stroke="#141414" stroke-width="0.85" stroke-linejoin="round"/>
<polygon points="679.9,194.8 680.2,194.7 680.4,194.7 680.8,194.8 681.1,195 681.5,195.3 682,195.6 682.4,196.1 682.8,196.6 683.2,197.1 683.6,197.7 684,198.3 684.4,199 684.6,199.6 684.9,200.2 685,200.7 685.2,201.2 685.2,201.7 685.2,202.1 685.1,202.4 684.9,202.6 681.8,205.1 681.6,205.2 681.3,205.2 681,205.1 680.6,204.9 680.2,204.6 679.8,204.3 679.3,203.8 678.9,203.3 678.5,202.8 678.1,202.2 677.7,201.6 677.4,200.9 677.1,200.3 676.8,199.7 676.7,199.2 676.6,198.7 676.5,198.2 676.6,197.8 676.6,197.5 676.8,197.3" fill="#fff" stroke="#141414" stroke-width="0.98" stroke-linejoin="round"/>
<ellipse cx="679.3" cy="201.2" rx="1.6" ry="4.6" transform="rotate(-32 679.3 201.2)" fill="#fff" stroke="#141414" stroke-width="0.98"/>
<line x1="678.2" y1="199.5" x2="682.3" y2="196.1" stroke="#141414" stroke-width="0.73"/>
<line x1="680.4" y1="202.9" x2="684.6" y2="199.6" stroke="#141414" stroke-width="0.73"/>
<polygon points="676.2,196.3 676.4,196.2 676.8,196.2 677.2,196.3 677.7,196.5 678.2,196.9 678.7,197.3 679.3,197.9 679.8,198.5 680.3,199.2 680.8,200 681.3,200.7 681.7,201.5 682.1,202.3 682.4,203.1 682.6,203.8 682.7,204.4 682.8,205 682.8,205.5 682.6,205.8 682.4,206.1 681.4,206.9 681.1,207 680.8,207 680.4,206.9 679.9,206.7 679.4,206.3 678.9,205.9 678.3,205.3 677.8,204.7 677.2,204 676.7,203.3 676.3,202.5 675.8,201.7 675.5,200.9 675.2,200.2 675,199.4 674.8,198.8 674.8,198.2 674.8,197.8 674.9,197.4 675.1,197.1" fill="#fff" stroke="#141414" stroke-width="0.98" stroke-linejoin="round"/>
<ellipse cx="678.3" cy="202" rx="2" ry="5.8" transform="rotate(-32 678.3 202)" fill="#fff" stroke="#141414" stroke-width="0.98"/>
<polygon points="676.9,199.8 677,199.8 677.2,199.8 677.3,199.8 677.6,199.9 677.8,200.1 678,200.3 678.3,200.5 678.5,200.8 678.8,201.1 679,201.5 679.2,201.8 679.4,202.2 679.5,202.5 679.7,202.8 679.8,203.2 679.8,203.5 679.9,203.7 679.8,203.9 679.8,204.1 679.7,204.2 667.4,214 667.3,214.1 667.2,214.1 667,214 666.8,213.9 666.5,213.8 666.3,213.6 666.1,213.3 665.8,213 665.6,212.7 665.3,212.4 665.1,212 664.9,211.7 664.8,211.3 664.6,211 664.5,210.7 664.5,210.4 664.5,210.1 664.5,209.9 664.5,209.8 664.6,209.6" fill="#fff" stroke="#141414" stroke-width="0.85" stroke-linejoin="round"/>
<ellipse cx="666" cy="211.8" rx="0.9" ry="2.6" transform="rotate(-32 666 211.8)" fill="#fff" stroke="#141414" stroke-width="0.85"/>
<polyline points="668.3,213.4 667.9,213.4 667.4,213.1 666.7,212.5 666.2,211.7 665.7,210.9 665.4,210 665.3,209.4 665.4,209" fill="none" stroke="#141414" stroke-width="0.98" stroke-linejoin="round"/>
<polyline points="669.1,212.7 668.7,212.7 668.2,212.5 667.6,211.9 667,211.1 666.5,210.2 666.2,209.4 666.1,208.7 666.3,208.3" fill="none" stroke="#141414" stroke-width="0.98" stroke-linejoin="round"/>
<polyline points="669.9,212 669.5,212.1 669,211.8 668.4,211.2 667.8,210.4 667.3,209.5 667,208.7 666.9,208.1 667.1,207.7" fill="none" stroke="#141414" stroke-width="0.98" stroke-linejoin="round"/>
<polyline points="670.7,211.4 670.3,211.4 669.8,211.1 669.2,210.6 668.6,209.8 668.1,208.9 667.8,208.1 667.7,207.4 667.9,207" fill="none" stroke="#141414" stroke-width="0.98" stroke-linejoin="round"/>
<polyline points="671.5,210.7 671.2,210.8 670.6,210.5 670,209.9 669.4,209.1 669,208.2 668.6,207.4 668.6,206.7 668.7,206.4" fill="none" stroke="#141414" stroke-width="0.98" stroke-linejoin="round"/>
<polyline points="672.4,210.1 672,210.1 671.5,209.8 670.8,209.2 670.3,208.4 669.8,207.6 669.5,206.7 669.4,206.1 669.5,205.7" fill="none" stroke="#141414" stroke-width="0.98" stroke-linejoin="round"/>
<polyline points="673.2,209.4 672.8,209.5 672.3,209.2 671.7,208.6 671.1,207.8 670.6,206.9 670.3,206.1 670.2,205.4 670.4,205" fill="none" stroke="#141414" stroke-width="0.98" stroke-linejoin="round"/>
<polyline points="674,208.8 673.6,208.8 673.1,208.5 672.5,207.9 671.9,207.1 671.4,206.3 671.1,205.4 671,204.8 671.2,204.4" fill="none" stroke="#141414" stroke-width="0.98" stroke-linejoin="round"/>
<polyline points="674.8,208.1 674.4,208.2 673.9,207.9 673.3,207.3 672.7,206.5 672.2,205.6 671.9,204.8 671.8,204.1 672,203.7" fill="none" stroke="#141414" stroke-width="0.98" stroke-linejoin="round"/>
<polyline points="675.6,207.4 675.3,207.5 674.7,207.2 674.1,206.6 673.5,205.8 673,204.9 672.7,204.1 672.7,203.5 672.8,203.1" fill="none" stroke="#141414" stroke-width="0.98" stroke-linejoin="round"/>
<polyline points="676.5,206.8 676.1,206.8 675.6,206.5 674.9,206 674.4,205.2 673.9,204.3 673.6,203.5 673.5,202.8 673.6,202.4" fill="none" stroke="#141414" stroke-width="0.98" stroke-linejoin="round"/>
<polyline points="677.3,206.1 676.9,206.2 676.4,205.9 675.8,205.3 675.2,204.5 674.7,203.6 674.4,202.8 674.3,202.1 674.5,201.8" fill="none" stroke="#141414" stroke-width="0.98" stroke-linejoin="round"/>
<polyline points="678.1,205.5 677.7,205.5 677.2,205.2 676.6,204.6 676,203.9 675.5,203 675.2,202.1 675.1,201.5 675.3,201.1" fill="none" stroke="#141414" stroke-width="0.98" stroke-linejoin="round"/>
<polyline points="678.9,204.8 678.5,204.9 678,204.6 677.4,204 676.8,203.2 676.3,202.3 676,201.5 675.9,200.8 676.1,200.5" fill="none" stroke="#141414" stroke-width="0.98" stroke-linejoin="round"/>
<polygon points="676.9,199.8 677,199.8 677.2,199.8 677.3,199.8 677.6,199.9 677.8,200.1 678,200.3 678.3,200.5 678.5,200.8 678.8,201.1 679,201.5 679.2,201.8 679.4,202.2 679.5,202.5 679.7,202.8 679.8,203.2 679.8,203.5 679.9,203.7 679.8,203.9 679.8,204.1 679.7,204.2 678.7,205 678.6,205.1 678.4,205.1 678.2,205 678,204.9 677.8,204.8 677.5,204.6 677.3,204.3 677,204 676.8,203.7 676.6,203.4 676.4,203 676.2,202.7 676,202.3 675.9,202 675.8,201.7 675.7,201.4 675.7,201.1 675.7,200.9 675.8,200.8 675.9,200.6" fill="#fff" stroke="#141414" stroke-width="0.85" stroke-linejoin="round"/>
<polygon points="676.9,229.8 677.2,229.7 677.4,229.7 677.8,229.8 678.1,230 678.5,230.3 679,230.6 679.4,231.1 679.8,231.6 680.2,232.1 680.6,232.7 681,233.3 681.4,234 681.6,234.6 681.9,235.2 682,235.7 682.2,236.2 682.2,236.7 682.2,237.1 682.1,237.4 681.9,237.6 678.8,240.1 678.6,240.2 678.3,240.2 678,240.1 677.6,239.9 677.2,239.6 676.8,239.3 676.3,238.8 675.9,238.3 675.5,237.8 675.1,237.2 674.7,236.6 674.4,235.9 674.1,235.3 673.8,234.7 673.7,234.2 673.6,233.7 673.5,233.2 673.6,232.8 673.6,232.5 673.8,232.3" fill="#fff" stroke="#141414" stroke-width="0.98" stroke-linejoin="round"/>
<ellipse cx="676.3" cy="236.2" rx="1.6" ry="4.6" transform="rotate(-32 676.3 236.2)" fill="#fff" stroke="#141414" stroke-width="0.98"/>
<line x1="675.2" y1="234.5" x2="679.3" y2="231.1" stroke="#141414" stroke-width="0.73"/>
<line x1="677.4" y1="237.9" x2="681.6" y2="234.6" stroke="#141414" stroke-width="0.73"/>
<polygon points="673.2,231.3 673.4,231.2 673.8,231.2 674.2,231.3 674.7,231.5 675.2,231.9 675.7,232.3 676.3,232.9 676.8,233.5 677.3,234.2 677.8,235 678.3,235.7 678.7,236.5 679.1,237.3 679.4,238.1 679.6,238.8 679.7,239.4 679.8,240 679.8,240.5 679.6,240.8 679.4,241.1 678.4,241.9 678.1,242 677.8,242 677.4,241.9 676.9,241.7 676.4,241.3 675.9,240.9 675.3,240.3 674.8,239.7 674.2,239 673.7,238.3 673.3,237.5 672.8,236.7 672.5,235.9 672.2,235.2 672,234.4 671.8,233.8 671.8,233.2 671.8,232.8 671.9,232.4 672.1,232.1" fill="#fff" stroke="#141414" stroke-width="0.98" stroke-linejoin="round"/>
<ellipse cx="675.3" cy="237" rx="2" ry="5.8" transform="rotate(-32 675.3 237)" fill="#fff" stroke="#141414" stroke-width="0.98"/>
<polygon points="673.9,234.8 674,234.8 674.2,234.8 674.3,234.8 674.6,234.9 674.8,235.1 675,235.3 675.3,235.5 675.5,235.8 675.8,236.1 676,236.5 676.2,236.8 676.4,237.2 676.5,237.5 676.7,237.8 676.8,238.2 676.8,238.5 676.9,238.7 676.8,238.9 676.8,239.1 676.7,239.2 664.4,249 664.3,249.1 664.2,249.1 664,249 663.8,248.9 663.5,248.8 663.3,248.6 663.1,248.3 662.8,248 662.6,247.7 662.3,247.4 662.1,247 661.9,246.7 661.8,246.3 661.6,246 661.5,245.7 661.5,245.4 661.5,245.1 661.5,244.9 661.5,244.8 661.6,244.6" fill="#fff" stroke="#141414" stroke-width="0.85" stroke-linejoin="round"/>
<ellipse cx="663" cy="246.8" rx="0.9" ry="2.6" transform="rotate(-32 663 246.8)" fill="#fff" stroke="#141414" stroke-width="0.85"/>
<polyline points="665.3,248.4 664.9,248.4 664.4,248.1 663.7,247.5 663.2,246.7 662.7,245.9 662.4,245 662.3,244.4 662.4,244" fill="none" stroke="#141414" stroke-width="0.98" stroke-linejoin="round"/>
<polyline points="666.1,247.7 665.7,247.7 665.2,247.5 664.6,246.9 664,246.1 663.5,245.2 663.2,244.4 663.1,243.7 663.3,243.3" fill="none" stroke="#141414" stroke-width="0.98" stroke-linejoin="round"/>
<polyline points="666.9,247 666.5,247.1 666,246.8 665.4,246.2 664.8,245.4 664.3,244.5 664,243.7 663.9,243.1 664.1,242.7" fill="none" stroke="#141414" stroke-width="0.98" stroke-linejoin="round"/>
<polyline points="667.7,246.4 667.3,246.4 666.8,246.1 666.2,245.6 665.6,244.8 665.1,243.9 664.8,243.1 664.7,242.4 664.9,242" fill="none" stroke="#141414" stroke-width="0.98" stroke-linejoin="round"/>
<polyline points="668.5,245.7 668.2,245.8 667.6,245.5 667,244.9 666.4,244.1 666,243.2 665.6,242.4 665.6,241.7 665.7,241.4" fill="none" stroke="#141414" stroke-width="0.98" stroke-linejoin="round"/>
<polyline points="669.4,245.1 669,245.1 668.5,244.8 667.8,244.2 667.3,243.4 666.8,242.6 666.5,241.7 666.4,241.1 666.5,240.7" fill="none" stroke="#141414" stroke-width="0.98" stroke-linejoin="round"/>
<polyline points="670.2,244.4 669.8,244.5 669.3,244.2 668.7,243.6 668.1,242.8 667.6,241.9 667.3,241.1 667.2,240.4 667.4,240" fill="none" stroke="#141414" stroke-width="0.98" stroke-linejoin="round"/>
<polyline points="671,243.8 670.6,243.8 670.1,243.5 669.5,242.9 668.9,242.1 668.4,241.3 668.1,240.4 668,239.8 668.2,239.4" fill="none" stroke="#141414" stroke-width="0.98" stroke-linejoin="round"/>
<polyline points="671.8,243.1 671.4,243.2 670.9,242.9 670.3,242.3 669.7,241.5 669.2,240.6 668.9,239.8 668.8,239.1 669,238.7" fill="none" stroke="#141414" stroke-width="0.98" stroke-linejoin="round"/>
<polyline points="672.6,242.4 672.3,242.5 671.7,242.2 671.1,241.6 670.5,240.8 670,239.9 669.7,239.1 669.7,238.5 669.8,238.1" fill="none" stroke="#141414" stroke-width="0.98" stroke-linejoin="round"/>
<polyline points="673.5,241.8 673.1,241.8 672.6,241.5 671.9,241 671.4,240.2 670.9,239.3 670.6,238.5 670.5,237.8 670.6,237.4" fill="none" stroke="#141414" stroke-width="0.98" stroke-linejoin="round"/>
<polyline points="674.3,241.1 673.9,241.2 673.4,240.9 672.8,240.3 672.2,239.5 671.7,238.6 671.4,237.8 671.3,237.1 671.5,236.8" fill="none" stroke="#141414" stroke-width="0.98" stroke-linejoin="round"/>
<polyline points="675.1,240.5 674.7,240.5 674.2,240.2 673.6,239.6 673,238.9 672.5,238 672.2,237.1 672.1,236.5 672.3,236.1" fill="none" stroke="#141414" stroke-width="0.98" stroke-linejoin="round"/>
<polyline points="675.9,239.8 675.5,239.9 675,239.6 674.4,239 673.8,238.2 673.3,237.3 673,236.5 672.9,235.8 673.1,235.5" fill="none" stroke="#141414" stroke-width="0.98" stroke-linejoin="round"/>
<polygon points="673.9,234.8 674,234.8 674.2,234.8 674.3,234.8 674.6,234.9 674.8,235.1 675,235.3 675.3,235.5 675.5,235.8 675.8,236.1 676,236.5 676.2,236.8 676.4,237.2 676.5,237.5 676.7,237.8 676.8,238.2 676.8,238.5 676.9,238.7 676.8,238.9 676.8,239.1 676.7,239.2 675.7,240 675.6,240.1 675.4,240.1 675.2,240 675,239.9 674.8,239.8 674.5,239.6 674.3,239.3 674,239 673.8,238.7 673.6,238.4 673.4,238 673.2,237.7 673,237.3 672.9,237 672.8,236.7 672.7,236.4 672.7,236.1 672.7,235.9 672.8,235.8 672.9,235.6" fill="#fff" stroke="#141414" stroke-width="0.85" stroke-linejoin="round"/>
<line x1="236" y1="443" x2="360" y2="583" stroke="#222" stroke-width="0.85" stroke-dasharray="9 2 2 2"/>
<polygon points="206.3,375.5 206.1,375.3 206.1,375 206,374.7 206.1,374.4 206.2,374 206.3,373.7 206.5,373.3 206.7,372.9 207,372.6 207.3,372.2 207.6,371.9 207.9,371.6 208.3,371.4 208.6,371.2 209,371.1 209.3,371 209.6,371 209.8,371 210.1,371.1 210.2,371.2 219.5,381.8 219.6,382 219.7,382.2 219.7,382.5 219.7,382.8 219.6,383.2 219.5,383.6 219.3,383.9 219,384.3 218.8,384.7 218.5,385 218.2,385.3 217.8,385.6 217.5,385.9 217.1,386.1 216.8,386.2 216.5,386.3 216.2,386.3 215.9,386.2 215.7,386.2 215.5,386" fill="#fff" stroke="#141414" stroke-width="0.85" stroke-linejoin="round"/>
<ellipse cx="217.5" cy="383.9" rx="1.5" ry="2.9" transform="rotate(41 217.5 383.9)" fill="#fff" stroke="#141414" stroke-width="0.85"/>
<polyline points="218.8,381 219,381.6 218.9,382.4 218.5,383.3 217.8,384.2 217,385 216.1,385.4 215.3,385.5 214.8,385.2" fill="none" stroke="#141414" stroke-width="0.98" stroke-linejoin="round"/>
<polyline points="218.1,380.2 218.3,380.8 218.2,381.6 217.8,382.6 217.1,383.4 216.3,384.2 215.4,384.6 214.7,384.7 214.1,384.4" fill="none" stroke="#141414" stroke-width="0.98" stroke-linejoin="round"/>
<polyline points="217.4,379.4 217.6,380 217.5,380.8 217.1,381.8 216.4,382.7 215.6,383.4 214.7,383.8 214,383.9 213.4,383.6" fill="none" stroke="#141414" stroke-width="0.98" stroke-linejoin="round"/>
<polyline points="216.7,378.6 216.9,379.2 216.8,380 216.4,381 215.7,381.9 214.9,382.6 214,383 213.3,383.1 212.7,382.8" fill="none" stroke="#141414" stroke-width="0.98" stroke-linejoin="round"/>
<polyline points="216,377.8 216.2,378.4 216.1,379.2 215.7,380.2 215,381.1 214.2,381.8 213.3,382.2 212.6,382.3 212,382" fill="none" stroke="#141414" stroke-width="0.98" stroke-linejoin="round"/>
<polyline points="215.3,377 215.5,377.6 215.4,378.5 215,379.4 214.3,380.3 213.5,381 212.6,381.4 211.9,381.5 211.4,381.3" fill="none" stroke="#141414" stroke-width="0.98" stroke-linejoin="round"/>
<polyline points="214.6,376.2 214.8,376.8 214.7,377.7 214.3,378.6 213.6,379.5 212.8,380.2 211.9,380.7 211.2,380.7 210.7,380.5" fill="none" stroke="#141414" stroke-width="0.98" stroke-linejoin="round"/>
<polyline points="213.9,375.5 214.2,376.1 214.1,376.9 213.6,377.8 212.9,378.7 212.1,379.4 211.3,379.9 210.5,380 210,379.7" fill="none" stroke="#141414" stroke-width="0.98" stroke-linejoin="round"/>
<polyline points="213.2,374.7 213.5,375.3 213.4,376.1 212.9,377 212.3,377.9 211.4,378.6 210.6,379.1 209.8,379.2 209.3,378.9" fill="none" stroke="#141414" stroke-width="0.98" stroke-linejoin="round"/>
<polyline points="212.5,373.9 212.8,374.5 212.7,375.3 212.2,376.2 211.6,377.1 210.7,377.8 209.9,378.3 209.1,378.4 208.6,378.1" fill="none" stroke="#141414" stroke-width="0.98" stroke-linejoin="round"/>
<polyline points="211.9,373.1 212.1,373.7 212,374.5 211.6,375.4 210.9,376.3 210,377.1 209.2,377.5 208.4,377.6 207.9,377.3" fill="none" stroke="#141414" stroke-width="0.98" stroke-linejoin="round"/>
<polyline points="211.2,372.3 211.4,372.9 211.3,373.7 210.9,374.7 210.2,375.5 209.3,376.3 208.5,376.7 207.7,376.8 207.2,376.5" fill="none" stroke="#141414" stroke-width="0.98" stroke-linejoin="round"/>
<polyline points="210.5,371.5 210.7,372.1 210.6,372.9 210.2,373.9 209.5,374.8 208.7,375.5 207.8,375.9 207,376 206.5,375.7" fill="none" stroke="#141414" stroke-width="0.98" stroke-linejoin="round"/>
<polygon points="203.8,376.7 203.5,376.3 203.4,375.8 203.3,375.2 203.4,374.6 203.5,373.9 203.8,373.2 204.1,372.5 204.6,371.8 205.1,371.1 205.7,370.4 206.3,369.8 206.9,369.2 207.6,368.8 208.3,368.4 208.9,368.2 209.6,368 210.1,368 210.6,368 211.1,368.2 211.4,368.5 212.5,369.7 212.7,370.1 212.9,370.6 212.9,371.2 212.9,371.8 212.7,372.5 212.5,373.2 212.1,373.9 211.7,374.6 211.2,375.3 210.6,376 210,376.6 209.3,377.2 208.6,377.6 208,378 207.3,378.2 206.7,378.4 206.1,378.4 205.6,378.4 205.2,378.2 204.8,377.9" fill="#fff" stroke="#141414" stroke-width="1.1" stroke-linejoin="round"/>
<ellipse cx="208.7" cy="373.8" rx="2.9" ry="5.6" transform="rotate(41 208.7 373.8)" fill="#fff" stroke="#141414" stroke-width="1.1"/>
<polyline points="203.7,375 203.3,374.3 203.3,373.3 203.7,372.2 204.3,371 205.2,369.9 206.3,368.9 207.4,368.3 208.4,367.9 209.3,367.9 209.9,368.3" fill="none" stroke="#141414" stroke-width="0.98" stroke-linejoin="round"/>
<polygon points="215.7,393.7 215.5,393.5 215.5,393.2 215.4,392.9 215.5,392.6 215.6,392.2 215.7,391.9 215.9,391.5 216.1,391.1 216.4,390.8 216.7,390.4 217,390.1 217.3,389.8 217.7,389.6 218,389.4 218.4,389.3 218.7,389.2 219,389.2 219.2,389.2 219.5,389.3 219.6,389.4 228.9,400 229,400.2 229.1,400.4 229.1,400.7 229.1,401 229,401.4 228.9,401.8 228.7,402.1 228.4,402.5 228.2,402.9 227.9,403.2 227.6,403.5 227.2,403.8 226.9,404.1 226.5,404.3 226.2,404.4 225.9,404.5 225.6,404.5 225.3,404.4 225.1,404.4 224.9,404.2" fill="#fff" stroke="#141414" stroke-width="0.85" stroke-linejoin="round"/>
<ellipse cx="226.9" cy="402.1" rx="1.5" ry="2.9" transform="rotate(41 226.9 402.1)" fill="#fff" stroke="#141414" stroke-width="0.85"/>
<polyline points="228.2,399.2 228.4,399.8 228.3,400.6 227.9,401.5 227.2,402.4 226.4,403.2 225.5,403.6 224.7,403.7 224.2,403.4" fill="none" stroke="#141414" stroke-width="0.98" stroke-linejoin="round"/>
<polyline points="227.5,398.4 227.7,399 227.6,399.8 227.2,400.8 226.5,401.6 225.7,402.4 224.8,402.8 224.1,402.9 223.5,402.6" fill="none" stroke="#141414" stroke-width="0.98" stroke-linejoin="round"/>
<polyline points="226.8,397.6 227,398.2 226.9,399 226.5,400 225.8,400.9 225,401.6 224.1,402 223.4,402.1 222.8,401.8" fill="none" stroke="#141414" stroke-width="0.98" stroke-linejoin="round"/>
<polyline points="226.1,396.8 226.3,397.4 226.2,398.2 225.8,399.2 225.1,400.1 224.3,400.8 223.4,401.2 222.7,401.3 222.1,401" fill="none" stroke="#141414" stroke-width="0.98" stroke-linejoin="round"/>
<polyline points="225.4,396 225.6,396.6 225.5,397.4 225.1,398.4 224.4,399.3 223.6,400 222.7,400.4 222,400.5 221.4,400.2" fill="none" stroke="#141414" stroke-width="0.98" stroke-linejoin="round"/>
<polyline points="224.7,395.2 224.9,395.8 224.8,396.7 224.4,397.6 223.7,398.5 222.9,399.2 222,399.6 221.3,399.7 220.8,399.5" fill="none" stroke="#141414" stroke-width="0.98" stroke-linejoin="round"/>
<polyline points="224,394.4 224.2,395 224.1,395.9 223.7,396.8 223,397.7 222.2,398.4 221.3,398.9 220.6,398.9 220.1,398.7" fill="none" stroke="#141414" stroke-width="0.98" stroke-linejoin="round"/>
<polyline points="223.3,393.7 223.6,394.3 223.5,395.1 223,396 222.3,396.9 221.5,397.6 220.7,398.1 219.9,398.2 219.4,397.9" fill="none" stroke="#141414" stroke-width="0.98" stroke-linejoin="round"/>
<polyline points="222.6,392.9 222.9,393.5 222.8,394.3 222.3,395.2 221.7,396.1 220.8,396.8 220,397.3 219.2,397.4 218.7,397.1" fill="none" stroke="#141414" stroke-width="0.98" stroke-linejoin="round"/>
<polyline points="221.9,392.1 222.2,392.7 222.1,393.5 221.6,394.4 221,395.3 220.1,396 219.3,396.5 218.5,396.6 218,396.3" fill="none" stroke="#141414" stroke-width="0.98" stroke-linejoin="round"/>
<polyline points="221.3,391.3 221.5,391.9 221.4,392.7 221,393.6 220.3,394.5 219.4,395.3 218.6,395.7 217.8,395.8 217.3,395.5" fill="none" stroke="#141414" stroke-width="0.98" stroke-linejoin="round"/>
<polyline points="220.6,390.5 220.8,391.1 220.7,391.9 220.3,392.9 219.6,393.7 218.7,394.5 217.9,394.9 217.1,395 216.6,394.7" fill="none" stroke="#141414" stroke-width="0.98" stroke-linejoin="round"/>
<polyline points="219.9,389.7 220.1,390.3 220,391.1 219.6,392.1 218.9,393 218.1,393.7 217.2,394.1 216.4,394.2 215.9,393.9" fill="none" stroke="#141414" stroke-width="0.98" stroke-linejoin="round"/>
<polygon points="213.2,394.9 212.9,394.5 212.8,394 212.7,393.4 212.8,392.8 212.9,392.1 213.2,391.4 213.5,390.7 214,390 214.5,389.3 215.1,388.6 215.7,388 216.3,387.4 217,387 217.7,386.6 218.3,386.4 219,386.2 219.5,386.2 220,386.2 220.5,386.4 220.8,386.7 221.9,387.9 222.1,388.3 222.3,388.8 222.3,389.4 222.3,390 222.1,390.7 221.9,391.4 221.5,392.1 221.1,392.8 220.6,393.5 220,394.2 219.4,394.8 218.7,395.4 218,395.8 217.4,396.2 216.7,396.4 216.1,396.6 215.5,396.6 215,396.6 214.6,396.4 214.2,396.1" fill="#fff" stroke="#141414" stroke-width="1.1" stroke-linejoin="round"/>
<ellipse cx="218.1" cy="392" rx="2.9" ry="5.6" transform="rotate(41 218.1 392)" fill="#fff" stroke="#141414" stroke-width="1.1"/>
<polyline points="213.1,393.2 212.7,392.5 212.7,391.5 213.1,390.4 213.7,389.2 214.6,388.1 215.7,387.1 216.8,386.5 217.8,386.1 218.7,386.1 219.3,386.5" fill="none" stroke="#141414" stroke-width="0.98" stroke-linejoin="round"/>
<polygon points="159.7,419.4 159.5,419.2 159.5,418.9 159.4,418.6 159.5,418.3 159.6,417.9 159.7,417.6 159.9,417.2 160.1,416.8 160.4,416.5 160.7,416.1 161,415.8 161.3,415.5 161.7,415.3 162,415.1 162.4,415 162.7,414.9 163,414.9 163.2,414.9 163.5,415 163.6,415.1 172.9,425.7 173,425.9 173.1,426.1 173.1,426.4 173.1,426.7 173,427.1 172.9,427.5 172.7,427.8 172.4,428.2 172.2,428.6 171.9,428.9 171.6,429.2 171.2,429.5 170.9,429.8 170.5,430 170.2,430.1 169.9,430.2 169.6,430.2 169.3,430.1 169.1,430.1 168.9,429.9" fill="#fff" stroke="#141414" stroke-width="0.85" stroke-linejoin="round"/>
<ellipse cx="170.9" cy="427.8" rx="1.5" ry="2.9" transform="rotate(41 170.9 427.8)" fill="#fff" stroke="#141414" stroke-width="0.85"/>
<polyline points="172.2,424.9 172.4,425.5 172.3,426.3 171.9,427.2 171.2,428.1 170.4,428.9 169.5,429.3 168.7,429.4 168.2,429.1" fill="none" stroke="#141414" stroke-width="0.98" stroke-linejoin="round"/>
<polyline points="171.5,424.1 171.7,424.7 171.6,425.5 171.2,426.5 170.5,427.3 169.7,428.1 168.8,428.5 168.1,428.6 167.5,428.3" fill="none" stroke="#141414" stroke-width="0.98" stroke-linejoin="round"/>
<polyline points="170.8,423.3 171,423.9 170.9,424.7 170.5,425.7 169.8,426.6 169,427.3 168.1,427.7 167.4,427.8 166.8,427.5" fill="none" stroke="#141414" stroke-width="0.98" stroke-linejoin="round"/>
<polyline points="170.1,422.5 170.3,423.1 170.2,423.9 169.8,424.9 169.1,425.8 168.3,426.5 167.4,426.9 166.7,427 166.1,426.7" fill="none" stroke="#141414" stroke-width="0.98" stroke-linejoin="round"/>
<polyline points="169.4,421.7 169.6,422.3 169.5,423.1 169.1,424.1 168.4,425 167.6,425.7 166.7,426.1 166,426.2 165.4,425.9" fill="none" stroke="#141414" stroke-width="0.98" stroke-linejoin="round"/>
<polyline points="168.7,420.9 168.9,421.5 168.8,422.4 168.4,423.3 167.7,424.2 166.9,424.9 166,425.3 165.3,425.4 164.8,425.2" fill="none" stroke="#141414" stroke-width="0.98" stroke-linejoin="round"/>
<polyline points="168,420.1 168.2,420.7 168.1,421.6 167.7,422.5 167,423.4 166.2,424.1 165.3,424.6 164.6,424.6 164.1,424.4" fill="none" stroke="#141414" stroke-width="0.98" stroke-linejoin="round"/>
<polyline points="167.3,419.4 167.6,420 167.5,420.8 167,421.7 166.3,422.6 165.5,423.3 164.7,423.8 163.9,423.9 163.4,423.6" fill="none" stroke="#141414" stroke-width="0.98" stroke-linejoin="round"/>
<polyline points="166.6,418.6 166.9,419.2 166.8,420 166.3,420.9 165.7,421.8 164.8,422.5 164,423 163.2,423.1 162.7,422.8" fill="none" stroke="#141414" stroke-width="0.98" stroke-linejoin="round"/>
<polyline points="165.9,417.8 166.2,418.4 166.1,419.2 165.6,420.1 165,421 164.1,421.7 163.3,422.2 162.5,422.3 162,422" fill="none" stroke="#141414" stroke-width="0.98" stroke-linejoin="round"/>
<polyline points="165.3,417 165.5,417.6 165.4,418.4 165,419.3 164.3,420.2 163.4,421 162.6,421.4 161.8,421.5 161.3,421.2" fill="none" stroke="#141414" stroke-width="0.98" stroke-linejoin="round"/>
<polyline points="164.6,416.2 164.8,416.8 164.7,417.6 164.3,418.6 163.6,419.4 162.7,420.2 161.9,420.6 161.1,420.7 160.6,420.4" fill="none" stroke="#141414" stroke-width="0.98" stroke-linejoin="round"/>
<polyline points="163.9,415.4 164.1,416 164,416.8 163.6,417.8 162.9,418.7 162.1,419.4 161.2,419.8 160.4,419.9 159.9,419.6" fill="none" stroke="#141414" stroke-width="0.98" stroke-linejoin="round"/>
<polygon points="157.2,420.6 156.9,420.2 156.8,419.7 156.7,419.1 156.8,418.5 156.9,417.8 157.2,417.1 157.5,416.4 158,415.7 158.5,415 159.1,414.3 159.7,413.7 160.3,413.1 161,412.7 161.7,412.3 162.3,412.1 163,411.9 163.5,411.9 164,411.9 164.5,412.1 164.8,412.4 165.9,413.6 166.1,414 166.3,414.5 166.3,415.1 166.3,415.7 166.1,416.4 165.9,417.1 165.5,417.8 165.1,418.5 164.6,419.2 164,419.9 163.4,420.5 162.7,421.1 162,421.5 161.4,421.9 160.7,422.1 160.1,422.3 159.5,422.3 159,422.3 158.6,422.1 158.2,421.8" fill="#fff" stroke="#141414" stroke-width="1.1" stroke-linejoin="round"/>
<ellipse cx="162.1" cy="417.7" rx="2.9" ry="5.6" transform="rotate(41 162.1 417.7)" fill="#fff" stroke="#141414" stroke-width="1.1"/>
<polyline points="157.1,418.9 156.7,418.2 156.7,417.2 157.1,416.1 157.7,414.9 158.6,413.8 159.7,412.8 160.8,412.2 161.8,411.8 162.7,411.8 163.3,412.2" fill="none" stroke="#141414" stroke-width="0.98" stroke-linejoin="round"/>
<polygon points="169,438.6 168.8,438.4 168.8,438.1 168.7,437.8 168.8,437.5 168.9,437.1 169,436.8 169.2,436.4 169.4,436 169.7,435.7 170,435.3 170.3,435 170.6,434.7 171,434.5 171.3,434.3 171.7,434.2 172,434.1 172.3,434.1 172.5,434.1 172.8,434.2 172.9,434.3 182.2,444.9 182.3,445.1 182.4,445.3 182.4,445.6 182.4,445.9 182.3,446.3 182.2,446.7 182,447 181.7,447.4 181.5,447.8 181.2,448.1 180.9,448.4 180.5,448.7 180.2,449 179.8,449.2 179.5,449.3 179.2,449.4 178.9,449.4 178.6,449.3 178.4,449.3 178.2,449.1" fill="#fff" stroke="#141414" stroke-width="0.85" stroke-linejoin="round"/>
<ellipse cx="180.2" cy="447" rx="1.5" ry="2.9" transform="rotate(41 180.2 447)" fill="#fff" stroke="#141414" stroke-width="0.85"/>
<polyline points="181.5,444.1 181.7,444.7 181.6,445.5 181.2,446.4 180.5,447.3 179.7,448.1 178.8,448.5 178,448.6 177.5,448.3" fill="none" stroke="#141414" stroke-width="0.98" stroke-linejoin="round"/>
<polyline points="180.8,443.3 181,443.9 180.9,444.7 180.5,445.7 179.8,446.5 179,447.3 178.1,447.7 177.4,447.8 176.8,447.5" fill="none" stroke="#141414" stroke-width="0.98" stroke-linejoin="round"/>
<polyline points="180.1,442.5 180.3,443.1 180.2,443.9 179.8,444.9 179.1,445.8 178.3,446.5 177.4,446.9 176.7,447 176.1,446.7" fill="none" stroke="#141414" stroke-width="0.98" stroke-linejoin="round"/>
<polyline points="179.4,441.7 179.6,442.3 179.5,443.1 179.1,444.1 178.4,445 177.6,445.7 176.7,446.1 176,446.2 175.4,445.9" fill="none" stroke="#141414" stroke-width="0.98" stroke-linejoin="round"/>
<polyline points="178.7,440.9 178.9,441.5 178.8,442.3 178.4,443.3 177.7,444.2 176.9,444.9 176,445.3 175.3,445.4 174.7,445.1" fill="none" stroke="#141414" stroke-width="0.98" stroke-linejoin="round"/>
<polyline points="178,440.1 178.2,440.7 178.1,441.6 177.7,442.5 177,443.4 176.2,444.1 175.3,444.5 174.6,444.6 174.1,444.4" fill="none" stroke="#141414" stroke-width="0.98" stroke-linejoin="round"/>
<polyline points="177.3,439.3 177.5,439.9 177.4,440.8 177,441.7 176.3,442.6 175.5,443.3 174.6,443.8 173.9,443.8 173.4,443.6" fill="none" stroke="#141414" stroke-width="0.98" stroke-linejoin="round"/>
<polyline points="176.6,438.6 176.9,439.2 176.8,440 176.3,440.9 175.6,441.8 174.8,442.5 174,443 173.2,443.1 172.7,442.8" fill="none" stroke="#141414" stroke-width="0.98" stroke-linejoin="round"/>
<polyline points="175.9,437.8 176.2,438.4 176.1,439.2 175.6,440.1 175,441 174.1,441.7 173.3,442.2 172.5,442.3 172,442" fill="none" stroke="#141414" stroke-width="0.98" stroke-linejoin="round"/>
<polyline points="175.2,437 175.5,437.6 175.4,438.4 174.9,439.3 174.3,440.2 173.4,440.9 172.6,441.4 171.8,441.5 171.3,441.2" fill="none" stroke="#141414" stroke-width="0.98" stroke-linejoin="round"/>
<polyline points="174.6,436.2 174.8,436.8 174.7,437.6 174.3,438.5 173.6,439.4 172.7,440.2 171.9,440.6 171.1,440.7 170.6,440.4" fill="none" stroke="#141414" stroke-width="0.98" stroke-linejoin="round"/>
<polyline points="173.9,435.4 174.1,436 174,436.8 173.6,437.8 172.9,438.6 172,439.4 171.2,439.8 170.4,439.9 169.9,439.6" fill="none" stroke="#141414" stroke-width="0.98" stroke-linejoin="round"/>
<polyline points="173.2,434.6 173.4,435.2 173.3,436 172.9,437 172.2,437.9 171.4,438.6 170.5,439 169.7,439.1 169.2,438.8" fill="none" stroke="#141414" stroke-width="0.98" stroke-linejoin="round"/>
<polygon points="166.5,439.8 166.2,439.4 166.1,438.9 166,438.3 166.1,437.7 166.2,437 166.5,436.3 166.8,435.6 167.3,434.9 167.8,434.2 168.4,433.5 169,432.9 169.6,432.3 170.3,431.9 171,431.5 171.6,431.3 172.3,431.1 172.8,431.1 173.3,431.1 173.8,431.3 174.1,431.6 175.2,432.8 175.4,433.2 175.6,433.7 175.6,434.3 175.6,434.9 175.4,435.6 175.2,436.3 174.8,437 174.4,437.7 173.9,438.4 173.3,439.1 172.7,439.7 172,440.3 171.3,440.7 170.7,441.1 170,441.3 169.4,441.5 168.8,441.5 168.3,441.5 167.9,441.3 167.5,441" fill="#fff" stroke="#141414" stroke-width="1.1" stroke-linejoin="round"/>
<ellipse cx="171.4" cy="436.9" rx="2.9" ry="5.6" transform="rotate(41 171.4 436.9)" fill="#fff" stroke="#141414" stroke-width="1.1"/>
<polyline points="166.4,438.1 166,437.4 166,436.4 166.4,435.3 167,434.1 167.9,433 169,432 170.1,431.4 171.1,431 172,431 172.6,431.4" fill="none" stroke="#141414" stroke-width="0.98" stroke-linejoin="round"/>
<ellipse cx="235.8" cy="406.6" rx="3.7" ry="7.2" transform="rotate(41 235.8 406.6)" fill="#fff" stroke="#141414" stroke-width="1.1"/>
<ellipse cx="241.7" cy="420.5" rx="3.7" ry="7.2" transform="rotate(41 241.7 420.5)" fill="#fff" stroke="#141414" stroke-width="1.1"/>
<polygon points="233.4,407.6 239.4,421.5 244.1,419.4 238.1,405.6" fill="#fff" stroke="#141414" stroke-width="1.1" stroke-linejoin="round"/>
<ellipse cx="235.8" cy="406.6" rx="3.5" ry="6.7" transform="rotate(41 235.8 406.6)" fill="#fff" stroke="none" stroke-width="0"/>
<ellipse cx="241.7" cy="420.5" rx="3.5" ry="6.7" transform="rotate(41 241.7 420.5)" fill="#fff" stroke="none" stroke-width="0"/>
<ellipse cx="237.2" cy="408.3" rx="3.7" ry="7.2" transform="rotate(41 237.2 408.3)" fill="#fff" stroke="#141414" stroke-width="1.1"/>
<ellipse cx="243.2" cy="422.1" rx="3.7" ry="7.2" transform="rotate(41 243.2 422.1)" fill="#fff" stroke="#141414" stroke-width="1.1"/>
<polygon points="234.8,409.3 240.8,423.2 245.6,421.1 239.6,407.2" fill="#fff" stroke="#141414" stroke-width="1.1" stroke-linejoin="round"/>
<ellipse cx="237.2" cy="408.3" rx="3.5" ry="6.7" transform="rotate(41 237.2 408.3)" fill="#fff" stroke="none" stroke-width="0"/>
<ellipse cx="243.2" cy="422.1" rx="3.5" ry="6.7" transform="rotate(41 243.2 422.1)" fill="#fff" stroke="none" stroke-width="0"/>
<ellipse cx="237.2" cy="408.3" rx="1.4" ry="2.6" transform="rotate(41 237.2 408.3)" fill="#fff" stroke="#141414" stroke-width="0.98"/>
<ellipse cx="243.2" cy="422.1" rx="1.4" ry="2.6" transform="rotate(41 243.2 422.1)" fill="#fff" stroke="#141414" stroke-width="0.98"/>
<ellipse cx="188.8" cy="447.3" rx="3.7" ry="7.2" transform="rotate(41 188.8 447.3)" fill="#fff" stroke="#141414" stroke-width="1.1"/>
<ellipse cx="194.7" cy="461.2" rx="3.7" ry="7.2" transform="rotate(41 194.7 461.2)" fill="#fff" stroke="#141414" stroke-width="1.1"/>
<polygon points="186.4,448.3 192.4,462.2 197.1,460.1 191.1,446.3" fill="#fff" stroke="#141414" stroke-width="1.1" stroke-linejoin="round"/>
<ellipse cx="188.8" cy="447.3" rx="3.5" ry="6.7" transform="rotate(41 188.8 447.3)" fill="#fff" stroke="none" stroke-width="0"/>
<ellipse cx="194.7" cy="461.2" rx="3.5" ry="6.7" transform="rotate(41 194.7 461.2)" fill="#fff" stroke="none" stroke-width="0"/>
<ellipse cx="190.2" cy="449" rx="3.7" ry="7.2" transform="rotate(41 190.2 449)" fill="#fff" stroke="#141414" stroke-width="1.1"/>
<ellipse cx="196.2" cy="462.8" rx="3.7" ry="7.2" transform="rotate(41 196.2 462.8)" fill="#fff" stroke="#141414" stroke-width="1.1"/>
<polygon points="187.8,450 193.8,463.9 198.6,461.8 192.6,447.9" fill="#fff" stroke="#141414" stroke-width="1.1" stroke-linejoin="round"/>
<ellipse cx="190.2" cy="449" rx="3.5" ry="6.7" transform="rotate(41 190.2 449)" fill="#fff" stroke="none" stroke-width="0"/>
<ellipse cx="196.2" cy="462.8" rx="3.5" ry="6.7" transform="rotate(41 196.2 462.8)" fill="#fff" stroke="none" stroke-width="0"/>
<ellipse cx="190.2" cy="449" rx="1.4" ry="2.6" transform="rotate(41 190.2 449)" fill="#fff" stroke="#141414" stroke-width="0.98"/>
<ellipse cx="196.2" cy="462.8" rx="1.4" ry="2.6" transform="rotate(41 196.2 462.8)" fill="#fff" stroke="#141414" stroke-width="0.98"/>
<polygon points="226.9,462.8 226,461.4 225.4,459.7 225.3,457.7 225.5,455.4 226,453 226.9,450.5 228.2,447.9 229.7,445.4 231.6,442.9 233.6,440.5 235.8,438.4 238.1,436.5 240.5,434.8 242.8,433.6 245.1,432.6 247.3,432.1 249.3,431.9 251.1,432.2 252.7,432.9 253.9,433.9 262.8,444.1 263.7,445.5 264.3,447.2 264.4,449.2 264.2,451.4 263.7,453.8 262.8,456.3 261.5,458.9 260,461.5 258.2,463.9 256.1,466.3 253.9,468.5 251.6,470.4 249.3,472 246.9,473.3 244.6,474.2 242.4,474.8 240.4,474.9 238.6,474.6 237,474 235.8,472.9" fill="#fff" stroke="#141414" stroke-width="1.1" stroke-linejoin="round"/>
<ellipse cx="249.3" cy="458.5" rx="10.3" ry="19.8" transform="rotate(41 249.3 458.5)" fill="#fff" stroke="#141414" stroke-width="1.1"/>
<ellipse cx="249.3" cy="458.5" rx="8.5" ry="16.4" transform="rotate(41 249.3 458.5)" fill="none" stroke="#141414" stroke-width="0.85"/>
<ellipse cx="249.3" cy="458.5" rx="6.9" ry="13.2" transform="rotate(41 249.3 458.5)" fill="none" stroke="#141414" stroke-width="0.85"/>
<ellipse cx="249.3" cy="458.5" rx="5.3" ry="10.2" transform="rotate(41 249.3 458.5)" fill="none" stroke="#141414" stroke-width="0.98"/>
<ellipse cx="249.3" cy="458.5" rx="4" ry="7.6" transform="rotate(41 249.3 458.5)" fill="none" stroke="#141414" stroke-width="1.1"/>
<ellipse cx="249.3" cy="458.5" rx="2.7" ry="5.2" transform="rotate(41 249.3 458.5)" fill="none" stroke="#141414" stroke-width="0.98"/>
<polyline points="244.4,460.8 244.1,460 244.1,458.9 244.4,457.6 245.2,456.2 246.2,454.9 247.4,453.9 248.6,453.1 249.8,452.7 250.8,452.8 251.5,453.2" fill="none" stroke="#141414" stroke-width="0.73" stroke-linejoin="round"/>
<polygon points="288.7,403 288.5,402.7 288.3,402.3 288.3,401.9 288.3,401.4 288.5,400.8 288.7,400.3 289,399.7 289.3,399.1 289.7,398.6 290.1,398.1 290.6,397.6 291.1,397.2 291.7,396.8 292.2,396.5 292.7,396.3 293.2,396.2 293.7,396.1 294.1,396.2 294.4,396.4 294.7,396.6 297.3,399.6 297.5,399.9 297.6,400.3 297.7,400.7 297.6,401.2 297.5,401.8 297.3,402.3 297,402.9 296.7,403.5 296.3,404 295.8,404.5 295.3,405 294.8,405.4 294.3,405.8 293.8,406.1 293.3,406.3 292.8,406.4 292.3,406.4 291.9,406.4 291.6,406.2 291.3,406" fill="#fff" stroke="#141414" stroke-width="0.98" stroke-linejoin="round"/>
<ellipse cx="294.3" cy="402.8" rx="2.3" ry="4.4" transform="rotate(41 294.3 402.8)" fill="#fff" stroke="#141414" stroke-width="0.98"/>
<line x1="292.9" y1="404.2" x2="289" y2="399.8" stroke="#141414" stroke-width="0.73"/>
<line x1="295.7" y1="401.4" x2="291.7" y2="396.9" stroke="#141414" stroke-width="0.73"/>
<polygon points="290.3,407 290.1,406.6 289.9,406.1 289.9,405.5 289.9,404.9 290.1,404.2 290.4,403.4 290.7,402.7 291.2,401.9 291.7,401.2 292.3,400.5 292.9,399.9 293.6,399.3 294.3,398.8 295,398.5 295.7,398.2 296.3,398 296.9,398 297.4,398.1 297.9,398.3 298.3,398.6 299.1,399.6 299.4,400 299.5,400.5 299.6,401.1 299.5,401.7 299.4,402.4 299.1,403.1 298.7,403.9 298.3,404.6 297.8,405.4 297.2,406.1 296.5,406.7 295.8,407.3 295.1,407.7 294.4,408.1 293.8,408.4 293.1,408.5 292.5,408.6 292,408.5 291.6,408.3 291.2,408" fill="#fff" stroke="#141414" stroke-width="0.98" stroke-linejoin="round"/>
<ellipse cx="295.2" cy="403.8" rx="3" ry="5.8" transform="rotate(41 295.2 403.8)" fill="#fff" stroke="#141414" stroke-width="0.98"/>
<polygon points="293.3,405.7 293.2,405.6 293.1,405.3 293.1,405 293.1,404.7 293.2,404.4 293.3,404.1 293.5,403.7 293.7,403.4 293.9,403 294.2,402.7 294.5,402.4 294.8,402.2 295.2,401.9 295.5,401.8 295.8,401.6 296.1,401.6 296.4,401.5 296.6,401.6 296.8,401.7 297,401.8 306.7,412.9 306.8,413.1 306.9,413.3 306.9,413.6 306.9,413.9 306.8,414.2 306.7,414.5 306.5,414.9 306.3,415.2 306,415.6 305.8,415.9 305.5,416.2 305.2,416.5 304.8,416.7 304.5,416.9 304.2,417 303.9,417.1 303.6,417.1 303.4,417 303.2,416.9 303,416.8" fill="#fff" stroke="#141414" stroke-width="0.85" stroke-linejoin="round"/>
<ellipse cx="304.8" cy="414.8" rx="1.4" ry="2.7" transform="rotate(41 304.8 414.8)" fill="#fff" stroke="#141414" stroke-width="0.85"/>
<polyline points="306,412.1 306.2,412.6 306.1,413.4 305.7,414.3 305.1,415.1 304.3,415.8 303.5,416.2 302.8,416.3 302.3,416" fill="none" stroke="#141414" stroke-width="0.98" stroke-linejoin="round"/>
<polyline points="305.3,411.3 305.5,411.8 305.4,412.6 305,413.5 304.4,414.3 303.6,415 302.8,415.4 302.1,415.5 301.6,415.2" fill="none" stroke="#141414" stroke-width="0.98" stroke-linejoin="round"/>
<polyline points="304.6,410.5 304.8,411.1 304.7,411.8 304.3,412.7 303.7,413.5 302.9,414.2 302.1,414.6 301.4,414.7 300.9,414.4" fill="none" stroke="#141414" stroke-width="0.98" stroke-linejoin="round"/>
<polyline points="303.9,409.7 304.1,410.3 304,411 303.6,411.9 303,412.7 302.2,413.4 301.4,413.8 300.7,413.9 300.2,413.6" fill="none" stroke="#141414" stroke-width="0.98" stroke-linejoin="round"/>
<polyline points="303.2,408.9 303.4,409.5 303.3,410.2 302.9,411.1 302.3,412 301.5,412.6 300.7,413 300,413.1 299.5,412.9" fill="none" stroke="#141414" stroke-width="0.98" stroke-linejoin="round"/>
<polyline points="302.5,408.1 302.7,408.7 302.7,409.5 302.3,410.3 301.6,411.2 300.8,411.8 300,412.2 299.3,412.3 298.8,412.1" fill="none" stroke="#141414" stroke-width="0.98" stroke-linejoin="round"/>
<polyline points="301.8,407.3 302.1,407.9 302,408.7 301.6,409.5 300.9,410.4 300.2,411 299.4,411.5 298.7,411.5 298.2,411.3" fill="none" stroke="#141414" stroke-width="0.98" stroke-linejoin="round"/>
<polyline points="301.1,406.6 301.4,407.1 301.3,407.9 300.9,408.7 300.2,409.6 299.5,410.3 298.7,410.7 298,410.7 297.5,410.5" fill="none" stroke="#141414" stroke-width="0.98" stroke-linejoin="round"/>
<polyline points="300.5,405.8 300.7,406.3 300.6,407.1 300.2,408 299.5,408.8 298.8,409.5 298,409.9 297.3,410 296.8,409.7" fill="none" stroke="#141414" stroke-width="0.98" stroke-linejoin="round"/>
<polyline points="299.8,405 300,405.5 299.9,406.3 299.5,407.2 298.9,408 298.1,408.7 297.3,409.1 296.6,409.2 296.1,408.9" fill="none" stroke="#141414" stroke-width="0.98" stroke-linejoin="round"/>
<polyline points="299.1,404.2 299.3,404.7 299.2,405.5 298.8,406.4 298.2,407.2 297.4,407.9 296.6,408.3 295.9,408.4 295.4,408.1" fill="none" stroke="#141414" stroke-width="0.98" stroke-linejoin="round"/>
<polyline points="298.4,403.4 298.6,403.9 298.5,404.7 298.1,405.6 297.5,406.4 296.7,407.1 295.9,407.5 295.2,407.6 294.7,407.3" fill="none" stroke="#141414" stroke-width="0.98" stroke-linejoin="round"/>
<polyline points="297.7,402.6 297.9,403.2 297.8,403.9 297.4,404.8 296.8,405.6 296,406.3 295.2,406.7 294.5,406.8 294,406.5" fill="none" stroke="#141414" stroke-width="0.98" stroke-linejoin="round"/>
<polygon points="293.3,405.7 293.2,405.6 293.1,405.3 293.1,405 293.1,404.7 293.2,404.4 293.3,404.1 293.5,403.7 293.7,403.4 293.9,403 294.2,402.7 294.5,402.4 294.8,402.2 295.2,401.9 295.5,401.8 295.8,401.6 296.1,401.6 296.4,401.5 296.6,401.6 296.8,401.7 297,401.8 297.9,402.8 298,403 298.1,403.2 298.1,403.5 298.1,403.8 298,404.1 297.8,404.5 297.7,404.8 297.5,405.2 297.2,405.5 296.9,405.8 296.6,406.1 296.3,406.4 296,406.6 295.7,406.8 295.4,406.9 295.1,407 294.8,407 294.5,407 294.3,406.9 294.2,406.7" fill="#fff" stroke="#141414" stroke-width="0.85" stroke-linejoin="round"/>
<polygon points="265,416.8 264.8,416.5 264.6,416.1 264.6,415.7 264.6,415.2 264.8,414.6 265,414.1 265.3,413.5 265.6,412.9 266,412.4 266.4,411.9 266.9,411.4 267.4,411 268,410.6 268.5,410.3 269,410.1 269.5,410 270,409.9 270.4,410 270.7,410.2 271,410.4 273.6,413.4 273.8,413.7 273.9,414.1 274,414.5 273.9,415 273.8,415.6 273.6,416.1 273.3,416.7 273,417.3 272.6,417.8 272.1,418.3 271.6,418.8 271.1,419.2 270.6,419.6 270.1,419.9 269.6,420.1 269.1,420.2 268.6,420.2 268.2,420.2 267.9,420 267.6,419.8" fill="#fff" stroke="#141414" stroke-width="0.98" stroke-linejoin="round"/>
<ellipse cx="270.6" cy="416.6" rx="2.3" ry="4.4" transform="rotate(41 270.6 416.6)" fill="#fff" stroke="#141414" stroke-width="0.98"/>
<line x1="269.2" y1="418" x2="265.3" y2="413.6" stroke="#141414" stroke-width="0.73"/>
<line x1="272" y1="415.2" x2="268" y2="410.7" stroke="#141414" stroke-width="0.73"/>
<polygon points="266.6,420.8 266.4,420.4 266.2,419.9 266.2,419.3 266.2,418.7 266.4,418 266.7,417.2 267,416.5 267.5,415.7 268,415 268.6,414.3 269.2,413.7 269.9,413.1 270.6,412.6 271.3,412.3 272,412 272.6,411.8 273.2,411.8 273.7,411.9 274.2,412.1 274.6,412.4 275.4,413.4 275.7,413.8 275.8,414.3 275.9,414.9 275.8,415.5 275.7,416.2 275.4,416.9 275,417.7 274.6,418.4 274.1,419.2 273.5,419.9 272.8,420.5 272.1,421.1 271.4,421.5 270.7,421.9 270.1,422.2 269.4,422.3 268.8,422.4 268.3,422.3 267.9,422.1 267.5,421.8" fill="#fff" stroke="#141414" stroke-width="0.98" stroke-linejoin="round"/>
<ellipse cx="271.5" cy="417.6" rx="3" ry="5.8" transform="rotate(41 271.5 417.6)" fill="#fff" stroke="#141414" stroke-width="0.98"/>
<polygon points="269.6,419.5 269.5,419.4 269.4,419.1 269.4,418.8 269.4,418.5 269.5,418.2 269.6,417.9 269.8,417.5 270,417.2 270.2,416.8 270.5,416.5 270.8,416.2 271.1,416 271.5,415.7 271.8,415.6 272.1,415.4 272.4,415.4 272.7,415.3 272.9,415.4 273.1,415.5 273.3,415.6 283,426.7 283.1,426.9 283.2,427.1 283.2,427.4 283.2,427.7 283.1,428 283,428.3 282.8,428.7 282.6,429 282.3,429.4 282.1,429.7 281.8,430 281.5,430.3 281.1,430.5 280.8,430.7 280.5,430.8 280.2,430.9 279.9,430.9 279.7,430.8 279.5,430.7 279.3,430.6" fill="#fff" stroke="#141414" stroke-width="0.85" stroke-linejoin="round"/>
<ellipse cx="281.1" cy="428.6" rx="1.4" ry="2.7" transform="rotate(41 281.1 428.6)" fill="#fff" stroke="#141414" stroke-width="0.85"/>
<polyline points="282.3,425.9 282.5,426.4 282.4,427.2 282,428.1 281.4,428.9 280.6,429.6 279.8,430 279.1,430.1 278.6,429.8" fill="none" stroke="#141414" stroke-width="0.98" stroke-linejoin="round"/>
<polyline points="281.6,425.1 281.8,425.6 281.7,426.4 281.3,427.3 280.7,428.1 279.9,428.8 279.1,429.2 278.4,429.3 277.9,429" fill="none" stroke="#141414" stroke-width="0.98" stroke-linejoin="round"/>
<polyline points="280.9,424.3 281.1,424.9 281,425.6 280.6,426.5 280,427.3 279.2,428 278.4,428.4 277.7,428.5 277.2,428.2" fill="none" stroke="#141414" stroke-width="0.98" stroke-linejoin="round"/>
<polyline points="280.2,423.5 280.4,424.1 280.3,424.8 279.9,425.7 279.3,426.5 278.5,427.2 277.7,427.6 277,427.7 276.5,427.4" fill="none" stroke="#141414" stroke-width="0.98" stroke-linejoin="round"/>
<polyline points="279.5,422.7 279.7,423.3 279.6,424 279.2,424.9 278.6,425.8 277.8,426.4 277,426.8 276.3,426.9 275.8,426.7" fill="none" stroke="#141414" stroke-width="0.98" stroke-linejoin="round"/>
<polyline points="278.8,421.9 279,422.5 279,423.3 278.6,424.1 277.9,425 277.1,425.6 276.3,426 275.6,426.1 275.1,425.9" fill="none" stroke="#141414" stroke-width="0.98" stroke-linejoin="round"/>
<polyline points="278.1,421.1 278.4,421.7 278.3,422.5 277.9,423.3 277.2,424.2 276.5,424.8 275.7,425.3 275,425.3 274.5,425.1" fill="none" stroke="#141414" stroke-width="0.98" stroke-linejoin="round"/>
<polyline points="277.4,420.4 277.7,420.9 277.6,421.7 277.2,422.5 276.5,423.4 275.8,424.1 275,424.5 274.3,424.5 273.8,424.3" fill="none" stroke="#141414" stroke-width="0.98" stroke-linejoin="round"/>
<polyline points="276.8,419.6 277,420.1 276.9,420.9 276.5,421.8 275.8,422.6 275.1,423.3 274.3,423.7 273.6,423.8 273.1,423.5" fill="none" stroke="#141414" stroke-width="0.98" stroke-linejoin="round"/>
<polyline points="276.1,418.8 276.3,419.3 276.2,420.1 275.8,421 275.2,421.8 274.4,422.5 273.6,422.9 272.9,423 272.4,422.7" fill="none" stroke="#141414" stroke-width="0.98" stroke-linejoin="round"/>
<polyline points="275.4,418 275.6,418.5 275.5,419.3 275.1,420.2 274.5,421 273.7,421.7 272.9,422.1 272.2,422.2 271.7,421.9" fill="none" stroke="#141414" stroke-width="0.98" stroke-linejoin="round"/>
<polyline points="274.7,417.2 274.9,417.7 274.8,418.5 274.4,419.4 273.8,420.2 273,420.9 272.2,421.3 271.5,421.4 271,421.1" fill="none" stroke="#141414" stroke-width="0.98" stroke-linejoin="round"/>
<polyline points="274,416.4 274.2,417 274.1,417.7 273.7,418.6 273.1,419.4 272.3,420.1 271.5,420.5 270.8,420.6 270.3,420.3" fill="none" stroke="#141414" stroke-width="0.98" stroke-linejoin="round"/>
<polygon points="269.6,419.5 269.5,419.4 269.4,419.1 269.4,418.8 269.4,418.5 269.5,418.2 269.6,417.9 269.8,417.5 270,417.2 270.2,416.8 270.5,416.5 270.8,416.2 271.1,416 271.5,415.7 271.8,415.6 272.1,415.4 272.4,415.4 272.7,415.3 272.9,415.4 273.1,415.5 273.3,415.6 274.2,416.6 274.3,416.8 274.4,417 274.4,417.3 274.4,417.6 274.3,417.9 274.1,418.3 274,418.6 273.8,419 273.5,419.3 273.2,419.6 272.9,419.9 272.6,420.2 272.3,420.4 272,420.6 271.7,420.7 271.4,420.8 271.1,420.8 270.8,420.8 270.6,420.7 270.5,420.5" fill="#fff" stroke="#141414" stroke-width="0.85" stroke-linejoin="round"/>
<polygon points="175.6,486.6 175.4,486.3 175.2,485.9 175.2,485.5 175.2,485 175.4,484.4 175.6,483.9 175.9,483.3 176.2,482.7 176.6,482.2 177,481.7 177.5,481.2 178,480.8 178.6,480.4 179.1,480.1 179.6,479.9 180.1,479.8 180.6,479.7 181,479.8 181.3,480 181.6,480.2 184.2,483.2 184.4,483.5 184.5,483.9 184.6,484.3 184.5,484.8 184.4,485.4 184.2,485.9 183.9,486.5 183.6,487.1 183.2,487.6 182.7,488.1 182.2,488.6 181.7,489 181.2,489.4 180.7,489.7 180.2,489.9 179.7,490 179.2,490 178.8,490 178.5,489.8 178.2,489.6" fill="#fff" stroke="#141414" stroke-width="0.98" stroke-linejoin="round"/>
<ellipse cx="181.2" cy="486.4" rx="2.3" ry="4.4" transform="rotate(41 181.2 486.4)" fill="#fff" stroke="#141414" stroke-width="0.98"/>
<line x1="179.8" y1="487.8" x2="175.9" y2="483.4" stroke="#141414" stroke-width="0.73"/>
<line x1="182.6" y1="485" x2="178.6" y2="480.5" stroke="#141414" stroke-width="0.73"/>
<polygon points="177.2,490.6 177,490.2 176.8,489.7 176.8,489.1 176.8,488.5 177,487.8 177.3,487 177.6,486.3 178.1,485.5 178.6,484.8 179.2,484.1 179.8,483.5 180.5,482.9 181.2,482.4 181.9,482.1 182.6,481.8 183.2,481.6 183.8,481.6 184.3,481.7 184.8,481.9 185.2,482.2 186,483.2 186.3,483.6 186.4,484.1 186.5,484.7 186.4,485.3 186.3,486 186,486.7 185.6,487.5 185.2,488.2 184.7,489 184.1,489.7 183.4,490.3 182.7,490.9 182,491.3 181.3,491.7 180.7,492 180,492.1 179.4,492.2 178.9,492.1 178.5,491.9 178.1,491.6" fill="#fff" stroke="#141414" stroke-width="0.98" stroke-linejoin="round"/>
<ellipse cx="182.1" cy="487.4" rx="3" ry="5.8" transform="rotate(41 182.1 487.4)" fill="#fff" stroke="#141414" stroke-width="0.98"/>
<polygon points="180.2,489.3 180.1,489.2 180,488.9 180,488.6 180,488.3 180.1,488 180.2,487.7 180.4,487.3 180.6,487 180.8,486.6 181.1,486.3 181.4,486 181.7,485.8 182.1,485.5 182.4,485.4 182.7,485.2 183,485.2 183.3,485.1 183.5,485.2 183.7,485.3 183.9,485.4 193.6,496.5 193.7,496.7 193.8,496.9 193.8,497.2 193.8,497.5 193.7,497.8 193.6,498.1 193.4,498.5 193.2,498.8 192.9,499.2 192.7,499.5 192.4,499.8 192.1,500.1 191.7,500.3 191.4,500.5 191.1,500.6 190.8,500.7 190.5,500.7 190.3,500.6 190.1,500.5 189.9,500.4" fill="#fff" stroke="#141414" stroke-width="0.85" stroke-linejoin="round"/>
<ellipse cx="191.7" cy="498.4" rx="1.4" ry="2.7" transform="rotate(41 191.7 498.4)" fill="#fff" stroke="#141414" stroke-width="0.85"/>
<polyline points="192.9,495.7 193.1,496.2 193,497 192.6,497.9 192,498.7 191.2,499.4 190.4,499.8 189.7,499.9 189.2,499.6" fill="none" stroke="#141414" stroke-width="0.98" stroke-linejoin="round"/>
<polyline points="192.2,494.9 192.4,495.4 192.3,496.2 191.9,497.1 191.3,497.9 190.5,498.6 189.7,499 189,499.1 188.5,498.8" fill="none" stroke="#141414" stroke-width="0.98" stroke-linejoin="round"/>
<polyline points="191.5,494.1 191.7,494.7 191.6,495.4 191.2,496.3 190.6,497.1 189.8,497.8 189,498.2 188.3,498.3 187.8,498" fill="none" stroke="#141414" stroke-width="0.98" stroke-linejoin="round"/>
<polyline points="190.8,493.3 191,493.9 190.9,494.6 190.5,495.5 189.9,496.3 189.1,497 188.3,497.4 187.6,497.5 187.1,497.2" fill="none" stroke="#141414" stroke-width="0.98" stroke-linejoin="round"/>
<polyline points="190.1,492.5 190.3,493.1 190.2,493.8 189.8,494.7 189.2,495.6 188.4,496.2 187.6,496.6 186.9,496.7 186.4,496.5" fill="none" stroke="#141414" stroke-width="0.98" stroke-linejoin="round"/>
<polyline points="189.4,491.7 189.6,492.3 189.6,493.1 189.2,493.9 188.5,494.8 187.7,495.4 186.9,495.8 186.2,495.9 185.7,495.7" fill="none" stroke="#141414" stroke-width="0.98" stroke-linejoin="round"/>
<polyline points="188.7,490.9 189,491.5 188.9,492.3 188.5,493.1 187.8,494 187.1,494.6 186.3,495.1 185.6,495.1 185.1,494.9" fill="none" stroke="#141414" stroke-width="0.98" stroke-linejoin="round"/>
<polyline points="188,490.2 188.3,490.7 188.2,491.5 187.8,492.3 187.1,493.2 186.4,493.9 185.6,494.3 184.9,494.3 184.4,494.1" fill="none" stroke="#141414" stroke-width="0.98" stroke-linejoin="round"/>
<polyline points="187.4,489.4 187.6,489.9 187.5,490.7 187.1,491.6 186.4,492.4 185.7,493.1 184.9,493.5 184.2,493.6 183.7,493.3" fill="none" stroke="#141414" stroke-width="0.98" stroke-linejoin="round"/>
<polyline points="186.7,488.6 186.9,489.1 186.8,489.9 186.4,490.8 185.8,491.6 185,492.3 184.2,492.7 183.5,492.8 183,492.5" fill="none" stroke="#141414" stroke-width="0.98" stroke-linejoin="round"/>
<polyline points="186,487.8 186.2,488.3 186.1,489.1 185.7,490 185.1,490.8 184.3,491.5 183.5,491.9 182.8,492 182.3,491.7" fill="none" stroke="#141414" stroke-width="0.98" stroke-linejoin="round"/>
<polyline points="185.3,487 185.5,487.5 185.4,488.3 185,489.2 184.4,490 183.6,490.7 182.8,491.1 182.1,491.2 181.6,490.9" fill="none" stroke="#141414" stroke-width="0.98" stroke-linejoin="round"/>
<polyline points="184.6,486.2 184.8,486.8 184.7,487.5 184.3,488.4 183.7,489.2 182.9,489.9 182.1,490.3 181.4,490.4 180.9,490.1" fill="none" stroke="#141414" stroke-width="0.98" stroke-linejoin="round"/>
<polygon points="180.2,489.3 180.1,489.2 180,488.9 180,488.6 180,488.3 180.1,488 180.2,487.7 180.4,487.3 180.6,487 180.8,486.6 181.1,486.3 181.4,486 181.7,485.8 182.1,485.5 182.4,485.4 182.7,485.2 183,485.2 183.3,485.1 183.5,485.2 183.7,485.3 183.9,485.4 184.8,486.4 184.9,486.6 185,486.8 185,487.1 185,487.4 184.9,487.7 184.7,488.1 184.6,488.4 184.4,488.8 184.1,489.1 183.8,489.4 183.5,489.7 183.2,490 182.9,490.2 182.6,490.4 182.3,490.5 182,490.6 181.7,490.6 181.4,490.6 181.2,490.5 181.1,490.3" fill="#fff" stroke="#141414" stroke-width="0.85" stroke-linejoin="round"/>
<polygon points="207.2,505 207,504.7 206.8,504.3 206.8,503.9 206.8,503.4 207,502.8 207.2,502.3 207.5,501.7 207.8,501.1 208.2,500.6 208.6,500.1 209.1,499.6 209.6,499.2 210.2,498.8 210.7,498.5 211.2,498.3 211.7,498.2 212.2,498.1 212.6,498.2 212.9,498.4 213.2,498.6 215.8,501.6 216,501.9 216.1,502.3 216.2,502.7 216.1,503.2 216,503.8 215.8,504.3 215.5,504.9 215.2,505.5 214.8,506 214.3,506.5 213.8,507 213.3,507.4 212.8,507.8 212.3,508.1 211.8,508.3 211.3,508.4 210.8,508.4 210.4,508.4 210.1,508.2 209.8,508" fill="#fff" stroke="#141414" stroke-width="0.98" stroke-linejoin="round"/>
<ellipse cx="212.8" cy="504.8" rx="2.3" ry="4.4" transform="rotate(41 212.8 504.8)" fill="#fff" stroke="#141414" stroke-width="0.98"/>
<line x1="211.4" y1="506.2" x2="207.5" y2="501.8" stroke="#141414" stroke-width="0.73"/>
<line x1="214.2" y1="503.4" x2="210.2" y2="498.9" stroke="#141414" stroke-width="0.73"/>
<polygon points="208.8,509 208.6,508.6 208.4,508.1 208.4,507.5 208.4,506.9 208.6,506.2 208.9,505.4 209.2,504.7 209.7,503.9 210.2,503.2 210.8,502.5 211.4,501.9 212.1,501.3 212.8,500.8 213.5,500.5 214.2,500.2 214.8,500 215.4,500 215.9,500.1 216.4,500.3 216.8,500.6 217.6,501.6 217.9,502 218,502.5 218.1,503.1 218,503.7 217.9,504.4 217.6,505.1 217.2,505.9 216.8,506.6 216.3,507.4 215.7,508.1 215,508.7 214.3,509.3 213.6,509.7 212.9,510.1 212.3,510.4 211.6,510.5 211,510.6 210.5,510.5 210.1,510.3 209.7,510" fill="#fff" stroke="#141414" stroke-width="0.98" stroke-linejoin="round"/>
<ellipse cx="213.7" cy="505.8" rx="3" ry="5.8" transform="rotate(41 213.7 505.8)" fill="#fff" stroke="#141414" stroke-width="0.98"/>
<polygon points="211.8,507.7 211.7,507.6 211.6,507.3 211.6,507 211.6,506.7 211.7,506.4 211.8,506.1 212,505.7 212.2,505.4 212.4,505 212.7,504.7 213,504.4 213.3,504.2 213.7,503.9 214,503.8 214.3,503.6 214.6,503.6 214.9,503.5 215.1,503.6 215.3,503.7 215.5,503.8 225.2,514.9 225.3,515.1 225.4,515.3 225.4,515.6 225.4,515.9 225.3,516.2 225.2,516.5 225,516.9 224.8,517.2 224.5,517.6 224.3,517.9 224,518.2 223.7,518.5 223.3,518.7 223,518.9 222.7,519 222.4,519.1 222.1,519.1 221.9,519 221.7,518.9 221.5,518.8" fill="#fff" stroke="#141414" stroke-width="0.85" stroke-linejoin="round"/>
<ellipse cx="223.3" cy="516.8" rx="1.4" ry="2.7" transform="rotate(41 223.3 516.8)" fill="#fff" stroke="#141414" stroke-width="0.85"/>
<polyline points="224.5,514.1 224.7,514.6 224.6,515.4 224.2,516.3 223.6,517.1 222.8,517.8 222,518.2 221.3,518.3 220.8,518" fill="none" stroke="#141414" stroke-width="0.98" stroke-linejoin="round"/>
<polyline points="223.8,513.3 224,513.8 223.9,514.6 223.5,515.5 222.9,516.3 222.1,517 221.3,517.4 220.6,517.5 220.1,517.2" fill="none" stroke="#141414" stroke-width="0.98" stroke-linejoin="round"/>
<polyline points="223.1,512.5 223.3,513.1 223.2,513.8 222.8,514.7 222.2,515.5 221.4,516.2 220.6,516.6 219.9,516.7 219.4,516.4" fill="none" stroke="#141414" stroke-width="0.98" stroke-linejoin="round"/>
<polyline points="222.4,511.7 222.6,512.3 222.5,513 222.1,513.9 221.5,514.7 220.7,515.4 219.9,515.8 219.2,515.9 218.7,515.6" fill="none" stroke="#141414" stroke-width="0.98" stroke-linejoin="round"/>
<polyline points="221.7,510.9 221.9,511.5 221.8,512.2 221.4,513.1 220.8,514 220,514.6 219.2,515 218.5,515.1 218,514.9" fill="none" stroke="#141414" stroke-width="0.98" stroke-linejoin="round"/>
<polyline points="221,510.1 221.2,510.7 221.2,511.5 220.8,512.3 220.1,513.2 219.3,513.8 218.5,514.2 217.8,514.3 217.3,514.1" fill="none" stroke="#141414" stroke-width="0.98" stroke-linejoin="round"/>
<polyline points="220.3,509.3 220.6,509.9 220.5,510.7 220.1,511.5 219.4,512.4 218.7,513 217.9,513.5 217.2,513.5 216.7,513.3" fill="none" stroke="#141414" stroke-width="0.98" stroke-linejoin="round"/>
<polyline points="219.6,508.6 219.9,509.1 219.8,509.9 219.4,510.7 218.7,511.6 218,512.3 217.2,512.7 216.5,512.7 216,512.5" fill="none" stroke="#141414" stroke-width="0.98" stroke-linejoin="round"/>
<polyline points="219,507.8 219.2,508.3 219.1,509.1 218.7,510 218,510.8 217.3,511.5 216.5,511.9 215.8,512 215.3,511.7" fill="none" stroke="#141414" stroke-width="0.98" stroke-linejoin="round"/>
<polyline points="218.3,507 218.5,507.5 218.4,508.3 218,509.2 217.4,510 216.6,510.7 215.8,511.1 215.1,511.2 214.6,510.9" fill="none" stroke="#141414" stroke-width="0.98" stroke-linejoin="round"/>
<polyline points="217.6,506.2 217.8,506.7 217.7,507.5 217.3,508.4 216.7,509.2 215.9,509.9 215.1,510.3 214.4,510.4 213.9,510.1" fill="none" stroke="#141414" stroke-width="0.98" stroke-linejoin="round"/>
<polyline points="216.9,505.4 217.1,505.9 217,506.7 216.6,507.6 216,508.4 215.2,509.1 214.4,509.5 213.7,509.6 213.2,509.3" fill="none" stroke="#141414" stroke-width="0.98" stroke-linejoin="round"/>
<polyline points="216.2,504.6 216.4,505.2 216.3,505.9 215.9,506.8 215.3,507.6 214.5,508.3 213.7,508.7 213,508.8 212.5,508.5" fill="none" stroke="#141414" stroke-width="0.98" stroke-linejoin="round"/>
<polygon points="211.8,507.7 211.7,507.6 211.6,507.3 211.6,507 211.6,506.7 211.7,506.4 211.8,506.1 212,505.7 212.2,505.4 212.4,505 212.7,504.7 213,504.4 213.3,504.2 213.7,503.9 214,503.8 214.3,503.6 214.6,503.6 214.9,503.5 215.1,503.6 215.3,503.7 215.5,503.8 216.4,504.8 216.5,505 216.6,505.2 216.6,505.5 216.6,505.8 216.5,506.1 216.3,506.5 216.2,506.8 216,507.2 215.7,507.5 215.4,507.8 215.1,508.1 214.8,508.4 214.5,508.6 214.2,508.8 213.9,508.9 213.6,509 213.3,509 213,509 212.8,508.9 212.7,508.7" fill="#fff" stroke="#141414" stroke-width="0.85" stroke-linejoin="round"/>
<polygon points="287.9,434.2 293.7,433.1 300.4,438.7 305.4,446.7 307.5,456.7 308.2,466.7 306.2,473.4 302,479.2 290.4,493.4 277,506.7 262,517.1 248.7,521.7 240.4,518.7 233.7,510.1 230.4,496.7 231.2,488.4 238.7,483.7 257,467.1 278.7,440.9" fill="#fff" stroke="#141414" stroke-width="1.1" stroke-linejoin="round"/>
<polygon points="289.2,435.8 295,434.7 301.7,440.3 306.7,448.3 308.8,458.3 309.5,468.3 307.5,475 303.3,480.8 291.7,495 278.3,508.3 263.3,518.7 250,523.3 241.7,520.3 235,511.7 231.7,498.3 232.5,490 240,485.3 258.3,468.7 280,442.5" fill="#fff" stroke="#141414" stroke-width="1.34" stroke-linejoin="round"/>
<polygon points="290.8,443.7 296.3,443 300,447 303,454.2 304,465 301.3,474.7 288,490.8 274.7,504.3 260.5,513.3 250,516.3 244,514 240,506.3 238.7,497.3 243.3,492.7 261.3,476 280.3,451.3" fill="none" stroke="#141414" stroke-width="0.98" stroke-linejoin="round"/>
<line x1="290.8" y1="473.3" x2="303" y2="459.2" stroke="#141414" stroke-width="0.98"/>
<line x1="292.3" y1="474.4" x2="304.5" y2="460.3" stroke="#141414" stroke-width="0.85"/>
<line x1="288" y1="465" x2="295.8" y2="447.5" stroke="#141414" stroke-width="0.98"/>
<line x1="289.5" y1="466.1" x2="297.3" y2="448.6" stroke="#141414" stroke-width="0.85"/>
<line x1="255.3" y1="502" x2="243.7" y2="510.8" stroke="#141414" stroke-width="0.98"/>
<line x1="256.8" y1="503.1" x2="245.2" y2="511.9" stroke="#141414" stroke-width="0.85"/>
<line x1="260.3" y1="508.3" x2="248.3" y2="517" stroke="#141414" stroke-width="0.98"/>
<line x1="261.8" y1="509.4" x2="249.8" y2="518.1" stroke="#141414" stroke-width="0.85"/>
<line x1="293.3" y1="480" x2="304.7" y2="473.7" stroke="#141414" stroke-width="0.98"/>
<line x1="294.8" y1="481.1" x2="306.2" y2="474.8" stroke="#141414" stroke-width="0.85"/>
<line x1="266.7" y1="510.8" x2="263.7" y2="517" stroke="#141414" stroke-width="0.98"/>
<line x1="268.2" y1="511.9" x2="265.2" y2="518.1" stroke="#141414" stroke-width="0.85"/>
<line x1="280" y1="468.7" x2="283" y2="453.3" stroke="#141414" stroke-width="0.98"/>
<line x1="281.5" y1="469.8" x2="284.5" y2="454.4" stroke="#141414" stroke-width="0.85"/>
<line x1="252.5" y1="493.7" x2="239.3" y2="495" stroke="#141414" stroke-width="0.98"/>
<line x1="254" y1="494.8" x2="240.8" y2="496.1" stroke="#141414" stroke-width="0.85"/>
<polygon points="298.3,455 303.3,460.8 303,470 298.3,475 295,469.7 295.8,460.8" fill="none" stroke="#141414" stroke-width="0.98" stroke-linejoin="round"/>
<polygon points="245,498.3 251.7,500 250,508.3 245,511.7 241.7,505" fill="none" stroke="#141414" stroke-width="0.98" stroke-linejoin="round"/>
<ellipse cx="274" cy="488.8" rx="15.1" ry="21.7" transform="rotate(44 274 488.8)" fill="#fff" stroke="#141414" stroke-width="1.59"/>
<ellipse cx="274" cy="488.8" rx="13.4" ry="19.4" transform="rotate(44 274 488.8)" fill="none" stroke="#141414" stroke-width="0.85"/>
<ellipse cx="274" cy="488.8" rx="11.6" ry="17" transform="rotate(44 274 488.8)" fill="none" stroke="#141414" stroke-width="0.85"/>
<ellipse cx="274" cy="488.8" rx="10.6" ry="15.6" transform="rotate(44 274 488.8)" fill="none" stroke="#141414" stroke-width="1.46"/>
<polyline points="263.7,499.2 266.7,486.7 275,478.7 283.3,477" fill="none" stroke="#141414" stroke-width="0.85" stroke-linejoin="round"/>
<ellipse cx="287.5" cy="464.2" rx="2.9" ry="4.6" transform="rotate(44 287.5 464.2)" fill="#fff" stroke="#141414" stroke-width="0.98"/>
<ellipse cx="287.5" cy="464.2" rx="1.8" ry="3" transform="rotate(44 287.5 464.2)" fill="#222" stroke="#141414" stroke-width="0.73"/>
<ellipse cx="255" cy="492.5" rx="2.9" ry="4.6" transform="rotate(44 255 492.5)" fill="#fff" stroke="#141414" stroke-width="0.98"/>
<ellipse cx="255" cy="492.5" rx="1.8" ry="3" transform="rotate(44 255 492.5)" fill="#222" stroke="#141414" stroke-width="0.73"/>
<ellipse cx="260.8" cy="507.5" rx="2.7" ry="4.4" transform="rotate(44 260.8 507.5)" fill="#fff" stroke="#141414" stroke-width="0.98"/>
<ellipse cx="260.8" cy="507.5" rx="1.7" ry="2.8" transform="rotate(44 260.8 507.5)" fill="#222" stroke="#141414" stroke-width="0.73"/>
<ellipse cx="291.7" cy="475" rx="2.5" ry="4" transform="rotate(44 291.7 475)" fill="#fff" stroke="#141414" stroke-width="0.98"/>
<ellipse cx="291.7" cy="475" rx="1.4" ry="2.4" transform="rotate(44 291.7 475)" fill="#222" stroke="#141414" stroke-width="0.73"/>
<ellipse cx="293.3" cy="442.5" rx="2.5" ry="4" transform="rotate(44 293.3 442.5)" fill="#fff" stroke="#141414" stroke-width="0.98"/>
<ellipse cx="293.3" cy="442.5" rx="1.4" ry="2.4" transform="rotate(44 293.3 442.5)" fill="#222" stroke="#141414" stroke-width="0.73"/>
<ellipse cx="237.5" cy="495.8" rx="2.5" ry="4" transform="rotate(44 237.5 495.8)" fill="#fff" stroke="#141414" stroke-width="0.98"/>
<ellipse cx="237.5" cy="495.8" rx="1.4" ry="2.4" transform="rotate(44 237.5 495.8)" fill="#222" stroke="#141414" stroke-width="0.73"/>
<ellipse cx="300.8" cy="466.7" rx="2.2" ry="3.6" transform="rotate(44 300.8 466.7)" fill="#fff" stroke="#141414" stroke-width="0.98"/>
<ellipse cx="300.8" cy="466.7" rx="1.2" ry="2" transform="rotate(44 300.8 466.7)" fill="#222" stroke="#141414" stroke-width="0.73"/>
<ellipse cx="246.7" cy="515" rx="2.2" ry="3.6" transform="rotate(44 246.7 515)" fill="#fff" stroke="#141414" stroke-width="0.98"/>
<ellipse cx="246.7" cy="515" rx="1.2" ry="2" transform="rotate(44 246.7 515)" fill="#222" stroke="#141414" stroke-width="0.73"/>
<polygon points="283.3,521.6 282.5,520.4 282.1,518.9 281.9,517.2 282.1,515.2 282.6,513.1 283.4,510.9 284.4,508.7 285.8,506.5 287.4,504.3 289.2,502.2 291.1,500.3 293.1,498.7 295.2,497.2 297.2,496.1 299.3,495.3 301.2,494.8 302.9,494.7 304.5,494.9 305.8,495.5 306.9,496.4 308.9,498.7 309.7,499.9 310.2,501.4 310.3,503.2 310.2,505.1 309.7,507.2 308.9,509.4 307.8,511.6 306.4,513.9 304.8,516.1 303.1,518.1 301.1,520 299.1,521.7 297.1,523.1 295,524.2 293,525 291.1,525.5 289.3,525.6 287.7,525.4 286.4,524.8 285.3,523.9" fill="#fff" stroke="#141414" stroke-width="1.34" stroke-linejoin="round"/>
<ellipse cx="297.1" cy="511.3" rx="9" ry="17.3" transform="rotate(41 297.1 511.3)" fill="#fff" stroke="#141414" stroke-width="1.34"/>
<ellipse cx="297.1" cy="511.3" rx="7.9" ry="15.2" transform="rotate(41 297.1 511.3)" fill="none" stroke="#141414" stroke-width="0.85"/>
<ellipse cx="297.1" cy="511.3" rx="6.4" ry="12.4" transform="rotate(41 297.1 511.3)" fill="none" stroke="#141414" stroke-width="0.85"/>
<ellipse cx="297.1" cy="511.3" rx="5.5" ry="10.6" transform="rotate(41 297.1 511.3)" fill="none" stroke="#141414" stroke-width="1.34"/>
<polyline points="288.6,517.5 287.9,516.2 287.7,514.4 288.1,512.3 289,510 290.4,507.8 292.1,505.6 294.1,503.8 296.2,502.3 298.3,501.4 300.2,501 301.8,501.3 303,502.1" fill="none" stroke="#141414" stroke-width="0.73" stroke-linejoin="round"/>
<line x1="301.2" y1="518.4" x2="301.8" y2="519.4" stroke="#141414" stroke-width="1.71"/>
<line x1="293.9" y1="503.3" x2="293.5" y2="502.2" stroke="#141414" stroke-width="1.71"/>
<polygon points="301.2,573.4 299.4,576.3 300.3,576.9 302.8,574.6 303.4,574.9 302,577.8 303,578.2 305.4,575.7 306.1,575.9 305,578.7 306.2,578.9 308.4,576.2 309.2,576.2 308.4,579 309.7,578.9 311.7,576.1 312.6,576 312.1,578.6 313.6,578.3 315.3,575.5 316.2,575.2 316.1,577.6 317.6,577.1 319.1,574.2 320.1,573.8 320.3,576 321.9,575.3 323,572.4 324,571.9 324.6,573.8 326.2,572.8 327,570.1 328,569.4 328.9,571.1 330.5,569.9 331,567.3 332,566.5 333.2,567.8 334.8,566.5 334.9,564.1 335.8,563.2 337.4,564.2 338.8,562.7 338.6,560.5 339.5,559.6 341.3,560.1 342.7,558.6 342.1,556.6 342.9,555.6 345,555.8 346.2,554.1 345.3,552.6 346,551.5 348.3,551.3 349.4,549.6 348.1,548.3 348.7,547.2 351.2,546.6 352.1,544.9 350.5,544 351.1,542.9 353.6,541.9 354.4,540.2 352.5,539.7 352.9,538.6 355.5,537.3 356.1,535.6 354,535.5 354.3,534.5 356.9,532.8 357.3,531.2 355,531.4 355.1,530.5 357.7,528.5 357.9,527 355.4,527.6 355.4,526.7 357.9,524.5 357.9,523.1 355.3,524.2 355.2,523.4 357.6,520.9 357.3,519.7 354.6,521.1 354.4,520.4 356.6,517.7 356.1,516.7 353.5,518.4 353.1,517.8 355.1,515.1 354.4,514.2 351.8,516.2 351.3,515.8 353,513 352.1,512.3 349.6,514.6 349,514.3 350.5,511.4 349.4,511 347,513.5 346.3,513.3 347.5,510.5 346.3,510.3 344,513 343.2,513 344.1,510.2 342.7,510.3 340.7,513.1 339.8,513.2 340.3,510.6 338.9,510.9 337.1,513.8 336.2,514 336.3,511.6 334.8,512.1 333.3,515 332.4,515.4 332.1,513.2 330.6,514 329.4,516.8 328.4,517.3 327.8,515.4 326.2,516.4 325.4,519.1 324.4,519.8 323.5,518.2 321.9,519.3 321.5,521.9 320.5,522.7 319.2,521.4 317.7,522.7 317.6,525.1 316.6,526 315.1,525.1 313.6,526.5 313.9,528.7 313,529.6 311.1,529.1 309.7,530.7 310.4,532.6 309.6,533.6 307.5,533.4 306.2,535.1 307.2,536.7 306.4,537.7 304.2,537.9 303,539.7 304.3,540.9 303.7,542 301.3,542.6 300.3,544.3 301.9,545.2 301.4,546.3 298.8,547.3 298.1,549 299.9,549.5 299.5,550.6 296.9,551.9 296.3,553.6 298.4,553.7 298.2,554.8 295.5,556.4 295.2,558.1 297.5,557.8 297.3,558.7 294.7,560.7 294.6,562.2 297,561.6 297,562.5 294.5,564.7 294.6,566.1 297.1,565 297.3,565.9 294.9,568.3 295.2,569.5 297.8,568.1 298,568.9 295.8,571.5 296.3,572.5 299,570.8 299.3,571.4 297.3,574.2 298,575 300.7,573" fill="#fff" stroke="#141414" stroke-width="0.98" stroke-linejoin="round"/>
<polygon points="306.7,579.3 308.1,580 303.8,575.1 302.5,574.4" fill="#444" stroke="#141414" stroke-width="0.61" stroke-linejoin="round"/>
<polygon points="309.3,580.5 310.8,580.9 306.5,576 305,575.6" fill="#444" stroke="#141414" stroke-width="0.61" stroke-linejoin="round"/>
<polygon points="312.2,581.1 313.9,581.1 309.7,576.2 307.9,576.2" fill="#444" stroke="#141414" stroke-width="0.61" stroke-linejoin="round"/>
<polygon points="315.5,581.1 317.4,580.8 313.1,575.9 311.2,576.2" fill="#444" stroke="#141414" stroke-width="0.61" stroke-linejoin="round"/>
<polygon points="319,580.5 321,579.9 316.8,575 314.8,575.6" fill="#444" stroke="#141414" stroke-width="0.61" stroke-linejoin="round"/>
<polygon points="322.8,579.3 324.9,578.5 320.6,573.6 318.5,574.4" fill="#444" stroke="#141414" stroke-width="0.61" stroke-linejoin="round"/>
<polygon points="326.7,577.6 328.9,576.5 324.6,571.6 322.4,572.7" fill="#444" stroke="#141414" stroke-width="0.61" stroke-linejoin="round"/>
<polygon points="330.7,575.4 332.8,574 328.6,569.1 326.4,570.5" fill="#444" stroke="#141414" stroke-width="0.61" stroke-linejoin="round"/>
<polygon points="334.7,572.6 336.8,571 332.5,566.1 330.4,567.8" fill="#444" stroke="#141414" stroke-width="0.61" stroke-linejoin="round"/>
<polygon points="338.6,569.5 340.6,567.6 336.3,562.7 334.3,564.6" fill="#444" stroke="#141414" stroke-width="0.61" stroke-linejoin="round"/>
<polygon points="342.3,566 344.2,563.9 340,559 338,561.1" fill="#444" stroke="#141414" stroke-width="0.61" stroke-linejoin="round"/>
<polygon points="345.8,562.1 347.6,560 343.3,555.1 341.6,557.2" fill="#444" stroke="#141414" stroke-width="0.61" stroke-linejoin="round"/>
<polygon points="349.1,558.1 350.7,555.8 346.4,550.9 344.8,553.2" fill="#444" stroke="#141414" stroke-width="0.61" stroke-linejoin="round"/>
<polygon points="352,553.8 353.4,551.5 349.1,546.6 347.7,549" fill="#444" stroke="#141414" stroke-width="0.61" stroke-linejoin="round"/>
<polygon points="354.5,549.5 355.6,547.2 351.3,542.3 350.2,544.6" fill="#444" stroke="#141414" stroke-width="0.61" stroke-linejoin="round"/>
<polygon points="356.5,545.2 357.4,542.9 353.1,538 352.2,540.3" fill="#444" stroke="#141414" stroke-width="0.61" stroke-linejoin="round"/>
<polygon points="358.1,541 358.7,538.8 354.4,533.9 353.8,536.1" fill="#444" stroke="#141414" stroke-width="0.61" stroke-linejoin="round"/>
<polygon points="359.1,536.9 359.5,534.8 355.2,529.9 354.8,532" fill="#444" stroke="#141414" stroke-width="0.61" stroke-linejoin="round"/>
<polygon points="359.6,533.1 359.7,531.1 355.4,526.3 355.4,528.2" fill="#444" stroke="#141414" stroke-width="0.61" stroke-linejoin="round"/>
<polygon points="359.6,529.6 359.4,527.8 355.1,522.9 355.3,524.7" fill="#444" stroke="#141414" stroke-width="0.61" stroke-linejoin="round"/>
<polygon points="359.1,526.4 358.5,524.9 354.2,520 354.8,521.5" fill="#444" stroke="#141414" stroke-width="0.61" stroke-linejoin="round"/>
<polygon points="358,523.7 357.1,522.4 352.9,517.5 353.7,518.8" fill="#444" stroke="#141414" stroke-width="0.61" stroke-linejoin="round"/>
<polygon points="356.3,521.4 355.3,520.4 351,515.5 352.1,516.5" fill="#444" stroke="#141414" stroke-width="0.61" stroke-linejoin="round"/>
<polygon points="354.3,519.7 352.9,519 348.7,514.1 350,514.8" fill="#444" stroke="#141414" stroke-width="0.61" stroke-linejoin="round"/>
<polygon points="351.7,518.5 350.2,518.1 345.9,513.2 347.4,513.6" fill="#444" stroke="#141414" stroke-width="0.61" stroke-linejoin="round"/>
<polygon points="348.8,517.9 347.1,517.9 342.8,513 344.5,513" fill="#444" stroke="#141414" stroke-width="0.61" stroke-linejoin="round"/>
<polygon points="345.5,517.9 343.6,518.2 339.3,513.3 341.2,513" fill="#444" stroke="#141414" stroke-width="0.61" stroke-linejoin="round"/>
<polygon points="342,518.5 340,519.1 335.7,514.2 337.7,513.6" fill="#444" stroke="#141414" stroke-width="0.61" stroke-linejoin="round"/>
<polygon points="338.2,519.7 336.1,520.5 331.8,515.6 333.9,514.8" fill="#444" stroke="#141414" stroke-width="0.61" stroke-linejoin="round"/>
<polygon points="334.3,521.4 332.1,522.5 327.9,517.6 330,516.5" fill="#444" stroke="#141414" stroke-width="0.61" stroke-linejoin="round"/>
<polygon points="330.3,523.6 328.2,525 323.9,520.2 326,518.7" fill="#444" stroke="#141414" stroke-width="0.61" stroke-linejoin="round"/>
<polygon points="326.3,526.4 324.2,528 319.9,523.1 322.1,521.5" fill="#444" stroke="#141414" stroke-width="0.61" stroke-linejoin="round"/>
<polygon points="322.4,529.5 320.4,531.4 316.1,526.5 318.2,524.6" fill="#444" stroke="#141414" stroke-width="0.61" stroke-linejoin="round"/>
<polygon points="318.7,533 316.8,535.1 312.5,530.2 314.4,528.1" fill="#444" stroke="#141414" stroke-width="0.61" stroke-linejoin="round"/>
<polygon points="315.2,536.9 313.4,539 309.1,534.1 310.9,532" fill="#444" stroke="#141414" stroke-width="0.61" stroke-linejoin="round"/>
<polygon points="311.9,540.9 310.3,543.2 306,538.3 307.6,536" fill="#444" stroke="#141414" stroke-width="0.61" stroke-linejoin="round"/>
<polygon points="309,545.2 307.6,547.5 303.3,542.6 304.7,540.3" fill="#444" stroke="#141414" stroke-width="0.61" stroke-linejoin="round"/>
<polygon points="306.5,549.5 305.4,551.8 301.1,546.9 302.3,544.6" fill="#444" stroke="#141414" stroke-width="0.61" stroke-linejoin="round"/>
<polygon points="304.5,553.8 303.6,556.1 299.3,551.2 300.2,548.9" fill="#444" stroke="#141414" stroke-width="0.61" stroke-linejoin="round"/>
<polygon points="302.9,558 302.3,560.2 298,555.3 298.6,553.1" fill="#444" stroke="#141414" stroke-width="0.61" stroke-linejoin="round"/>
<polygon points="301.9,562.1 301.5,564.2 297.2,559.3 297.6,557.2" fill="#444" stroke="#141414" stroke-width="0.61" stroke-linejoin="round"/>
<polygon points="301.4,565.9 301.3,567.9 297,563 297.1,561" fill="#444" stroke="#141414" stroke-width="0.61" stroke-linejoin="round"/>
<polygon points="301.4,569.4 301.6,571.2 297.3,566.3 297.1,564.5" fill="#444" stroke="#141414" stroke-width="0.61" stroke-linejoin="round"/>
<polygon points="301.9,572.6 302.5,574.1 298.2,569.2 297.7,567.7" fill="#444" stroke="#141414" stroke-width="0.61" stroke-linejoin="round"/>
<polygon points="303,575.3 303.9,576.6 299.6,571.7 298.8,570.4" fill="#444" stroke="#141414" stroke-width="0.61" stroke-linejoin="round"/>
<polygon points="304.7,577.6 305.7,578.6 301.4,573.7 300.4,572.7" fill="#444" stroke="#141414" stroke-width="0.61" stroke-linejoin="round"/>
<polygon points="303.6,581.1 304.6,581.8 300.4,577 299.4,576.2" fill="#fff" stroke="#141414" stroke-width="1.16" stroke-linejoin="round"/>
<polygon points="306.2,582.7 307.4,583.1 303.1,578.2 301.9,577.8" fill="#fff" stroke="#141414" stroke-width="1.16" stroke-linejoin="round"/>
<polygon points="309.2,583.6 310.6,583.8 306.3,578.9 304.9,578.7" fill="#fff" stroke="#141414" stroke-width="1.16" stroke-linejoin="round"/>
<polygon points="312.6,583.9 314.1,583.8 309.8,578.9 308.3,579" fill="#fff" stroke="#141414" stroke-width="1.16" stroke-linejoin="round"/>
<polygon points="316.3,583.5 318,583.2 313.7,578.3 312,578.6" fill="#fff" stroke="#141414" stroke-width="1.16" stroke-linejoin="round"/>
<polygon points="320.3,582.5 322.1,581.9 317.8,577 316,577.6" fill="#fff" stroke="#141414" stroke-width="1.16" stroke-linejoin="round"/>
<polygon points="324.5,580.9 326.3,580.1 322,575.2 320.2,576" fill="#fff" stroke="#141414" stroke-width="1.16" stroke-linejoin="round"/>
<polygon points="328.8,578.7 330.6,577.7 326.3,572.8 324.5,573.8" fill="#fff" stroke="#141414" stroke-width="1.16" stroke-linejoin="round"/>
<polygon points="333.1,576 334.9,574.7 330.7,569.8 328.8,571.1" fill="#fff" stroke="#141414" stroke-width="1.16" stroke-linejoin="round"/>
<polygon points="337.4,572.8 339.2,571.3 334.9,566.4 333.1,567.9" fill="#fff" stroke="#141414" stroke-width="1.16" stroke-linejoin="round"/>
<polygon points="341.6,569.1 343.2,567.5 339,562.6 337.3,564.2" fill="#fff" stroke="#141414" stroke-width="1.16" stroke-linejoin="round"/>
<polygon points="345.5,565.1 347.1,563.3 342.8,558.4 341.2,560.2" fill="#fff" stroke="#141414" stroke-width="1.16" stroke-linejoin="round"/>
<polygon points="349.2,560.8 350.6,558.9 346.3,554 344.9,555.9" fill="#fff" stroke="#141414" stroke-width="1.16" stroke-linejoin="round"/>
<polygon points="352.5,556.3 353.8,554.3 349.5,549.4 348.2,551.4" fill="#fff" stroke="#141414" stroke-width="1.16" stroke-linejoin="round"/>
<polygon points="355.4,551.6 356.5,549.6 352.2,544.7 351.1,546.7" fill="#fff" stroke="#141414" stroke-width="1.16" stroke-linejoin="round"/>
<polygon points="357.8,546.9 358.7,545 354.4,540.1 353.6,542" fill="#fff" stroke="#141414" stroke-width="1.16" stroke-linejoin="round"/>
<polygon points="359.8,542.3 360.4,540.4 356.2,535.5 355.5,537.4" fill="#fff" stroke="#141414" stroke-width="1.16" stroke-linejoin="round"/>
<polygon points="361.2,537.8 361.6,535.9 357.3,531 356.9,532.9" fill="#fff" stroke="#141414" stroke-width="1.16" stroke-linejoin="round"/>
<polygon points="362,533.5 362.2,531.8 357.9,526.9 357.7,528.6" fill="#fff" stroke="#141414" stroke-width="1.16" stroke-linejoin="round"/>
<polygon points="362.2,529.5 362.1,527.9 357.9,523 357.9,524.6" fill="#fff" stroke="#141414" stroke-width="1.16" stroke-linejoin="round"/>
<polygon points="361.9,525.9 361.5,524.5 357.3,519.6 357.6,521" fill="#fff" stroke="#141414" stroke-width="1.16" stroke-linejoin="round"/>
<polygon points="360.9,522.7 360.4,521.5 356.1,516.6 356.6,517.8" fill="#fff" stroke="#141414" stroke-width="1.16" stroke-linejoin="round"/>
<polygon points="359.4,520 358.6,519 354.3,514.2 355.1,515.1" fill="#fff" stroke="#141414" stroke-width="1.16" stroke-linejoin="round"/>
<polygon points="357.4,517.9 356.4,517.2 352.1,512.3 353.1,513" fill="#fff" stroke="#141414" stroke-width="1.16" stroke-linejoin="round"/>
<polygon points="354.8,516.3 353.6,515.9 349.3,511 350.5,511.4" fill="#fff" stroke="#141414" stroke-width="1.16" stroke-linejoin="round"/>
<polygon points="351.8,515.4 350.4,515.2 346.2,510.3 347.5,510.5" fill="#fff" stroke="#141414" stroke-width="1.16" stroke-linejoin="round"/>
<polygon points="348.4,515.1 346.9,515.2 342.6,510.3 344.1,510.2" fill="#fff" stroke="#141414" stroke-width="1.16" stroke-linejoin="round"/>
<polygon points="344.7,515.5 343,515.8 338.8,510.9 340.4,510.6" fill="#fff" stroke="#141414" stroke-width="1.16" stroke-linejoin="round"/>
<polygon points="340.7,516.5 338.9,517.1 334.7,512.2 336.4,511.6" fill="#fff" stroke="#141414" stroke-width="1.16" stroke-linejoin="round"/>
<polygon points="336.5,518.1 334.7,518.9 330.4,514 332.2,513.2" fill="#fff" stroke="#141414" stroke-width="1.16" stroke-linejoin="round"/>
<polygon points="332.2,520.3 330.4,521.3 326.1,516.5 327.9,515.4" fill="#fff" stroke="#141414" stroke-width="1.16" stroke-linejoin="round"/>
<polygon points="327.9,523 326.1,524.3 321.8,519.4 323.6,518.1" fill="#fff" stroke="#141414" stroke-width="1.16" stroke-linejoin="round"/>
<polygon points="323.6,526.2 321.8,527.7 317.5,522.8 319.3,521.3" fill="#fff" stroke="#141414" stroke-width="1.16" stroke-linejoin="round"/>
<polygon points="319.4,529.9 317.8,531.5 313.5,526.6 315.2,525" fill="#fff" stroke="#141414" stroke-width="1.16" stroke-linejoin="round"/>
<polygon points="315.5,533.9 313.9,535.7 309.6,530.8 311.2,529" fill="#fff" stroke="#141414" stroke-width="1.16" stroke-linejoin="round"/>
<polygon points="311.8,538.2 310.4,540.1 306.1,535.2 307.5,533.3" fill="#fff" stroke="#141414" stroke-width="1.16" stroke-linejoin="round"/>
<polygon points="308.5,542.7 307.2,544.7 303,539.8 304.2,537.9" fill="#fff" stroke="#141414" stroke-width="1.16" stroke-linejoin="round"/>
<polygon points="305.6,547.4 304.5,549.4 300.2,544.5 301.3,542.5" fill="#fff" stroke="#141414" stroke-width="1.16" stroke-linejoin="round"/>
<polygon points="303.2,552.1 302.3,554 298,549.2 298.9,547.2" fill="#fff" stroke="#141414" stroke-width="1.16" stroke-linejoin="round"/>
<polygon points="301.2,556.7 300.6,558.6 296.3,553.8 296.9,551.8" fill="#fff" stroke="#141414" stroke-width="1.16" stroke-linejoin="round"/>
<polygon points="299.8,561.2 299.4,563.1 295.1,558.2 295.5,556.3" fill="#fff" stroke="#141414" stroke-width="1.16" stroke-linejoin="round"/>
<polygon points="299,565.5 298.8,567.2 294.6,562.4 294.7,560.6" fill="#fff" stroke="#141414" stroke-width="1.16" stroke-linejoin="round"/>
<polygon points="298.8,569.5 298.9,571.1 294.6,566.2 294.5,564.6" fill="#fff" stroke="#141414" stroke-width="1.16" stroke-linejoin="round"/>
<polygon points="299.1,573.1 299.5,574.5 295.2,569.6 294.9,568.2" fill="#fff" stroke="#141414" stroke-width="1.16" stroke-linejoin="round"/>
<polygon points="300.1,576.3 300.6,577.5 296.4,572.6 295.8,571.4" fill="#fff" stroke="#141414" stroke-width="1.16" stroke-linejoin="round"/>
<polygon points="301.6,579 302.4,580 298.1,575.1 297.3,574.1" fill="#fff" stroke="#141414" stroke-width="1.16" stroke-linejoin="round"/>
<polygon points="305.4,578.3 303.7,581.2 304.6,581.8 307.1,579.5 307.7,579.8 306.2,582.7 307.3,583.1 309.7,580.6 310.4,580.8 309.2,583.6 310.5,583.8 312.7,581.1 313.5,581.1 312.7,583.9 314,583.8 316,581 316.9,580.9 316.4,583.5 317.8,583.2 319.6,580.3 320.5,580.1 320.4,582.5 321.9,582 323.4,579.1 324.4,578.7 324.6,580.9 326.2,580.1 327.3,577.3 328.3,576.8 328.9,578.7 330.5,577.7 331.3,575 332.3,574.3 333.2,575.9 334.8,574.8 335.3,572.2 336.2,571.4 337.5,572.7 339,571.4 339.1,569 340.1,568.1 341.6,569 343.1,567.6 342.9,565.4 343.7,564.5 345.6,565 347,563.4 346.3,561.5 347.2,560.5 349.2,560.7 350.5,559 349.5,557.4 350.3,556.4 352.6,556.2 353.7,554.5 352.4,553.2 353,552.1 355.5,551.5 356.4,549.8 354.8,548.9 355.3,547.8 357.9,546.8 358.7,545.1 356.8,544.6 357.2,543.5 359.8,542.2 360.4,540.5 358.3,540.4 358.6,539.3 361.2,537.7 361.6,536.1 359.2,536.3 359.4,535.4 362,533.4 362.2,531.9 359.7,532.5 359.7,531.6 362.2,529.4 362.2,528 359.6,529.1 359.5,528.2 361.9,525.8 361.6,524.6 358.9,526 358.7,525.3 360.9,522.6 360.4,521.6 357.7,523.3 357.4,522.7 359.4,520 358.7,519.1 356.1,521.1 355.6,520.7 357.3,517.8 356.4,517.2 353.9,519.5 353.3,519.2 354.8,516.3 353.7,515.9 351.3,518.4 350.6,518.2 351.8,515.4 350.5,515.2 348.3,517.9 347.5,517.9 348.3,515.1 347,515.2 345,518 344.1,518.1 344.6,515.5 343.2,515.8 341.4,518.7 340.5,518.9 340.6,516.5 339.1,517 337.6,519.9 336.6,520.3 336.4,518.1 334.8,518.9 333.7,521.7 332.7,522.2 332.1,520.3 330.5,521.3 329.7,524 328.7,524.7 327.8,523.1 326.2,524.2 325.7,526.8 324.8,527.6 323.5,526.3 322,527.6 321.9,530 320.9,530.9 319.4,530 317.9,531.4 318.1,533.6 317.3,534.5 315.4,534 314,535.6 314.7,537.5 313.8,538.5 311.8,538.3 310.5,540 311.5,541.6 310.7,542.6 308.4,542.8 307.3,544.5 308.6,545.8 308,546.9 305.5,547.5 304.6,549.2 306.2,550.1 305.7,551.2 303.1,552.2 302.3,553.9 304.2,554.4 303.8,555.5 301.2,556.8 300.6,558.5 302.7,558.6 302.4,559.7 299.8,561.3 299.4,562.9 301.8,562.7 301.6,563.6 299,565.6 298.8,567.1 301.3,566.5 301.3,567.4 298.8,569.6 298.8,571 301.4,569.9 301.5,570.8 299.1,573.2 299.4,574.4 302.1,573 302.3,573.7 300.1,576.4 300.6,577.4 303.3,575.7 303.6,576.3 301.6,579 302.3,579.9 304.9,577.9" fill="#fff" stroke="#141414" stroke-width="1.1" stroke-linejoin="round"/>
<ellipse cx="330.5" cy="549.5" rx="7" ry="13.4" transform="rotate(41 330.5 549.5)" fill="none" stroke="#141414" stroke-width="1.1"/>
<ellipse cx="330.5" cy="549.5" rx="6.1" ry="11.8" transform="rotate(41 330.5 549.5)" fill="none" stroke="#141414" stroke-width="0.85"/>
<ellipse cx="330.5" cy="549.5" rx="4.4" ry="8.4" transform="rotate(41 330.5 549.5)" fill="#222" stroke="#141414" stroke-width="0.98"/>
<polyline points="322.8,553.4 322.2,552.3 322.1,550.9 322.4,549.2 323.1,547.4 324.2,545.6 325.6,543.9 327.2,542.5 328.9,541.3 330.5,540.6 332,540.3 333.3,540.5 334.3,541.1" fill="none" stroke="#ddd" stroke-width="0.98" stroke-linejoin="round"/>
<polygon points="313.3,528.7 314,528 314.6,527.2 315.1,526.4 315.6,525.6 316,524.8 316.4,524 316.7,523.2 316.9,522.5 317,521.7 317.1,521 317.1,520.4 317,519.8 316.8,519.2 316.6,518.8 316.3,518.4 315.9,518 315.5,517.8 314.9,517.6 314.4,517.5 313.8,517.5 313.1,517.6 312.4,517.7 311.7,518 311,518.3 310.3,518.7 309.5,519.2 308.8,519.7 308.1,520.3 307.3,521 306.7,521.7 306,522.4 305.4,523.2 304.9,524 304.4,524.8 304,525.6 303.6,526.4 303.3,527.2 303.1,527.9 303,528.7 302.9,529.4 302.9,530 303,530.6 303.2,531.2 303.4,531.6 303.7,532 304.1,532.4 304.5,532.6 305.1,532.8 305.6,532.9 306.2,532.9 306.9,532.8 307.6,532.7 308.3,532.4 309,532.1 309.7,531.7 310.5,531.2 310.4,530.1 309.8,530.5 309.2,530.8 308.6,531.1 308,531.3 307.4,531.4 306.9,531.5 306.4,531.5 306,531.4 305.5,531.3 305.2,531.1 304.9,530.8 304.6,530.5 304.4,530.1 304.3,529.6 304.2,529.1 304.2,528.6 304.2,528 304.4,527.4 304.5,526.8 304.8,526.1 305.1,525.5 305.4,524.8 305.8,524.2 306.3,523.5 306.8,522.9 307.3,522.3 307.8,521.7 308.4,521.2 309,520.7 309.6,520.3 310.2,519.9 310.8,519.6 311.4,519.3 312,519.1 312.6,519 313.1,518.9 313.6,518.9 314,519 314.5,519.1 314.8,519.3 315.1,519.6 315.4,519.9 315.6,520.3 315.7,520.8 315.8,521.3 315.8,521.8 315.8,522.4 315.6,523 315.5,523.6 315.2,524.3 314.9,524.9 314.6,525.6 314.2,526.2 313.7,526.9 313.2,527.5 312.7,528.1" fill="#fff" stroke="#141414" stroke-width="1.1" stroke-linejoin="round"/>
<polygon points="356.3,577.9 357,577.2 357.6,576.4 358.1,575.6 358.6,574.8 359,574 359.4,573.2 359.7,572.4 359.9,571.7 360,570.9 360.1,570.2 360.1,569.6 360,569 359.8,568.4 359.6,568 359.3,567.6 358.9,567.2 358.5,567 357.9,566.8 357.4,566.7 356.8,566.7 356.1,566.8 355.4,566.9 354.7,567.2 354,567.5 353.3,567.9 352.5,568.4 351.8,568.9 351.1,569.5 350.3,570.2 349.7,570.9 349,571.6 348.4,572.4 347.9,573.2 347.4,574 347,574.8 346.6,575.6 346.3,576.4 346.1,577.1 346,577.9 345.9,578.6 345.9,579.2 346,579.8 346.2,580.4 346.4,580.8 346.7,581.2 347.1,581.6 347.5,581.8 348.1,582 348.6,582.1 349.2,582.1 349.9,582 350.6,581.9 351.3,581.6 352,581.3 352.7,580.9 353.5,580.4 353.4,579.3 352.8,579.7 352.2,580 351.6,580.3 351,580.5 350.4,580.6 349.9,580.7 349.4,580.7 349,580.6 348.5,580.5 348.2,580.3 347.9,580 347.6,579.7 347.4,579.3 347.3,578.8 347.2,578.3 347.2,577.8 347.2,577.2 347.4,576.6 347.5,576 347.8,575.3 348.1,574.7 348.4,574 348.8,573.4 349.3,572.7 349.8,572.1 350.3,571.5 350.8,570.9 351.4,570.4 352,569.9 352.6,569.5 353.2,569.1 353.8,568.8 354.4,568.5 355,568.3 355.6,568.2 356.1,568.1 356.6,568.1 357,568.2 357.5,568.3 357.8,568.5 358.1,568.8 358.4,569.1 358.6,569.5 358.7,570 358.8,570.5 358.8,571 358.8,571.6 358.6,572.2 358.5,572.8 358.2,573.5 357.9,574.1 357.6,574.8 357.2,575.4 356.7,576.1 356.2,576.7 355.7,577.3" fill="#fff" stroke="#141414" stroke-width="1.1" stroke-linejoin="round"/>
<polygon points="405.5,326.9 406.1,326.6 406.8,326.6 407.6,326.8 408.5,327.3 409.5,327.9 410.5,328.8 411.6,329.9 412.7,331.2 413.8,332.5 414.8,334 415.7,335.5 416.5,337.1 417.2,338.6 417.8,340.1 418.2,341.5 418.5,342.8 418.6,343.9 418.5,344.8 418.3,345.5 417.9,346 396,363.5 395.5,363.8 394.8,363.8 394,363.6 393.1,363.1 392.1,362.4 391,361.6 389.9,360.5 388.9,359.2 387.8,357.9 386.8,356.4 385.9,354.9 385.1,353.3 384.3,351.8 383.8,350.3 383.3,348.9 383.1,347.6 383,346.5 383.1,345.6 383.3,344.9 383.7,344.4" fill="#fff" stroke="#141414" stroke-width="1.1" stroke-linejoin="round"/>
<polyline points="406.2,355.4 405.3,355.7 404.2,355.5 402.9,354.8 401.5,353.7 399.9,352.2 398.4,350.3 397,348.3 395.7,346.1 394.6,343.9 393.8,341.8 393.3,339.9 393.1,338.2 393.3,337 393.8,336.2" fill="none" stroke="#141414" stroke-width="0.85" stroke-linejoin="round"/>
<polygon points="407,324.5 407.6,324.3 408.4,324.2 409.2,324.5 410.2,325 411.3,325.7 412.4,326.7 413.6,327.8 414.7,329.2 415.9,330.7 416.9,332.2 417.9,333.9 418.8,335.6 419.6,337.2 420.2,338.8 420.7,340.3 421,341.7 421.1,342.9 421,343.9 420.8,344.7 420.3,345.2 418.4,346.8 417.8,347.1 417,347.1 416.2,346.8 415.2,346.3 414.1,345.6 413,344.6 411.8,343.5 410.6,342.1 409.5,340.7 408.4,339.1 407.4,337.4 406.5,335.8 405.8,334.1 405.1,332.5 404.7,331 404.4,329.6 404.3,328.4 404.4,327.4 404.6,326.6 405.1,326.1" fill="#fff" stroke="#141414" stroke-width="1.1" stroke-linejoin="round"/>
<polygon points="426.4,313.3 426.8,313.1 427.4,313.1 428,313.3 428.7,313.6 429.5,314.2 430.3,314.9 431.2,315.7 432,316.7 432.8,317.8 433.6,318.9 434.3,320.1 435,321.3 435.5,322.5 436,323.7 436.3,324.8 436.5,325.7 436.6,326.6 436.5,327.3 436.4,327.9 436,328.3 418.5,342.4 418,342.6 417.5,342.6 416.9,342.4 416.2,342 415.4,341.5 414.6,340.8 413.7,340 412.9,339 412.1,337.9 411.3,336.8 410.6,335.6 409.9,334.4 409.4,333.2 408.9,332 408.6,330.9 408.4,329.9 408.3,329.1 408.4,328.4 408.5,327.8 408.8,327.4" fill="#fff" stroke="#141414" stroke-width="1.1" stroke-linejoin="round"/>
<ellipse cx="413.7" cy="334.9" rx="3" ry="8.9" transform="rotate(-32 413.7 334.9)" fill="#fff" stroke="#141414" stroke-width="1.1"/>
<line x1="408.3" y1="329.1" x2="428" y2="313.3" stroke="#141414" stroke-width="1.65"/>
<line x1="408.7" y1="331.3" x2="429.8" y2="314.4" stroke="#141414" stroke-width="1.65"/>
<line x1="409.4" y1="333.3" x2="431.2" y2="315.8" stroke="#141414" stroke-width="1.65"/>
<line x1="410.3" y1="335.1" x2="432.5" y2="317.3" stroke="#141414" stroke-width="1.65"/>
<line x1="411.3" y1="336.8" x2="433.6" y2="318.9" stroke="#141414" stroke-width="1.65"/>
<line x1="412.4" y1="338.4" x2="434.6" y2="320.6" stroke="#141414" stroke-width="1.65"/>
<line x1="413.7" y1="339.9" x2="435.5" y2="322.4" stroke="#141414" stroke-width="1.65"/>
<line x1="415.1" y1="341.3" x2="436.2" y2="324.4" stroke="#141414" stroke-width="1.65"/>
<line x1="416.9" y1="342.4" x2="436.6" y2="326.6" stroke="#141414" stroke-width="1.65"/>
<polyline points="418.5,342.4 417.8,342.6 417,342.4 415.9,341.9 414.8,341 413.6,339.8 412.4,338.4 411.3,336.8 410.3,335.1 409.4,333.4 408.8,331.7 408.4,330.2 408.3,329 408.4,328 408.8,327.4" fill="none" stroke="#141414" stroke-width="0.98" stroke-linejoin="round"/>
<polygon points="371.4,331.3 368.1,331.7 366.7,334.7 367.4,341.2 368.2,347.2 373,354.4 378.4,362.9 384.9,371.6 391.4,379.1 399,384 404.4,384.8 406.8,380.4 404.6,380.6 405.6,379.5 406.2,378 406.5,376.2 406.5,373.9 406.2,371.4 405.6,368.6 404.6,365.5 403.5,362.3 402,358.9 400.3,355.5 398.4,352.1 396.4,348.7 394.2,345.5 391.9,342.4 389.5,339.5 387.1,336.9 384.7,334.6 382.4,332.7 380.2,331.1 378.2,330 376.3,329.3 374.6,329 373.2,329.2 372,329.8" fill="#fff" stroke="#141414" stroke-width="1.46" stroke-linejoin="round"/>
<polyline points="370.3,334.2 370.8,331.5 368.7,333.1 369.2,345.6" fill="none" stroke="#141414" stroke-width="1.1" stroke-linejoin="round"/>
<polygon points="371,334.9 376.2,336.4 373.4,351.1 369.7,349.4" fill="#fff" stroke="#141414" stroke-width="1.22" stroke-linejoin="round"/>
<polyline points="373,338.8 371.5,349.8" fill="none" stroke="#141414" stroke-width="0.85" stroke-linejoin="round"/>
<polygon points="377,339.7 382.2,341.2 377.8,358.1 374.1,356.4" fill="#fff" stroke="#141414" stroke-width="1.22" stroke-linejoin="round"/>
<polyline points="378.9,343.6 375.8,356.8" fill="none" stroke="#141414" stroke-width="0.85" stroke-linejoin="round"/>
<polygon points="381.9,346.8 387.1,348.3 383.2,365.2 379.5,363.4" fill="#fff" stroke="#141414" stroke-width="1.22" stroke-linejoin="round"/>
<polyline points="383.8,350.7 381.2,363.9" fill="none" stroke="#141414" stroke-width="0.85" stroke-linejoin="round"/>
<polygon points="387.1,354 392.3,355.5 388.8,372.2 385.1,370.5" fill="#fff" stroke="#141414" stroke-width="1.22" stroke-linejoin="round"/>
<polyline points="389,357.9 386.9,370.9" fill="none" stroke="#141414" stroke-width="0.85" stroke-linejoin="round"/>
<polygon points="391.6,361.4 396.8,362.9 394,378.7 390.3,377" fill="#fff" stroke="#141414" stroke-width="1.22" stroke-linejoin="round"/>
<polyline points="393.6,365.3 392,377.4" fill="none" stroke="#141414" stroke-width="0.85" stroke-linejoin="round"/>
<polygon points="395.4,367.9 400.6,369.4 399.4,383.6 395.7,381.8" fill="#fff" stroke="#141414" stroke-width="1.22" stroke-linejoin="round"/>
<polyline points="397.4,371.8 397.5,382.3" fill="none" stroke="#141414" stroke-width="0.85" stroke-linejoin="round"/>
<polygon points="398.3,373.8 403.5,375.3 404,385.7 400.3,384" fill="#fff" stroke="#141414" stroke-width="1.22" stroke-linejoin="round"/>
<polyline points="400.3,377.7 402,384.4" fill="none" stroke="#141414" stroke-width="0.85" stroke-linejoin="round"/>
<polygon points="400.3,378.2 405.5,379.7 407.5,386.1 403.9,384.3" fill="#fff" stroke="#141414" stroke-width="1.22" stroke-linejoin="round"/>
<polyline points="402.2,382.1 405.6,384.8" fill="none" stroke="#141414" stroke-width="0.85" stroke-linejoin="round"/>
<polyline points="372,329.8 373.2,329.2 374.6,329 376.3,329.3 378.2,330 380.2,331.1 382.4,332.7 384.7,334.6 387.1,336.9 389.5,339.5 391.9,342.4 394.2,345.5 396.4,348.7 398.4,352.1 400.3,355.5 402,358.9 403.5,362.3 404.6,365.5 405.6,368.6 406.2,371.4 406.5,373.9 406.5,376.2 406.2,378 405.6,379.5 404.6,380.6" fill="none" stroke="#141414" stroke-width="1.46" stroke-linejoin="round"/>
<polyline points="373,330.6 374.4,330.6 375.9,331 377.6,331.7 379.4,332.8 381.3,334.1 383.3,335.8 385.3,337.7 387.3,339.8 389.4,342.2 391.4,344.8 393.4,347.5 395.2,350.3 397,353.2 398.6,356.1 400.1,359.1 401.4,362 402.5,364.8 403.5,367.5 404.2,370.1 404.6,372.5 404.9,374.7 404.9,376.6 404.7,378.2 404.2,379.6" fill="none" stroke="#141414" stroke-width="0.85" stroke-linejoin="round"/>
<polygon points="378.7,422.7 383.3,416.7 390,410 396.7,404.7 405.3,399.3 414,400.7 418.7,404.7 417.7,410 413.3,416.7 410,418.7 394,430.7 390,435.3 382.7,436.9 379.3,432.7" fill="#fff" stroke="#141414" stroke-width="1.34" stroke-linejoin="round"/>
<polyline points="379.6,430 382.7,420 387.3,413.3" fill="none" stroke="#141414" stroke-width="1.83" stroke-linejoin="round"/>
<polyline points="381.5,430.9 384.6,420.9 389.2,414.2" fill="none" stroke="#141414" stroke-width="0.85" stroke-linejoin="round"/>
<polyline points="382.3,436 386.7,420.4 393.7,408" fill="none" stroke="#141414" stroke-width="1.83" stroke-linejoin="round"/>
<polyline points="384.2,436.9 388.6,421.3 395.6,408.9" fill="none" stroke="#141414" stroke-width="0.85" stroke-linejoin="round"/>
<polyline points="387.6,435.1 393.7,416.7 401.7,402.8" fill="none" stroke="#141414" stroke-width="1.83" stroke-linejoin="round"/>
<polyline points="389.5,436 395.6,417.6 403.6,403.7" fill="none" stroke="#141414" stroke-width="0.85" stroke-linejoin="round"/>
<polyline points="392.9,430.7 399.6,415.3 408.9,400.4" fill="none" stroke="#141414" stroke-width="1.83" stroke-linejoin="round"/>
<polyline points="394.8,431.6 401.5,416.2 410.8,401.3" fill="none" stroke="#141414" stroke-width="0.85" stroke-linejoin="round"/>
<polyline points="398.7,426.7 405.7,414 414.7,401.7" fill="none" stroke="#141414" stroke-width="1.83" stroke-linejoin="round"/>
<polyline points="400.6,427.6 407.6,414.9 416.6,402.6" fill="none" stroke="#141414" stroke-width="0.85" stroke-linejoin="round"/>
<polyline points="404.4,422.7 410.7,412.7 417.7,405.7" fill="none" stroke="#141414" stroke-width="1.83" stroke-linejoin="round"/>
<polyline points="406.3,423.6 412.6,413.6 419.6,406.6" fill="none" stroke="#141414" stroke-width="0.85" stroke-linejoin="round"/>
<polyline points="379.3,423.3 384.7,418.7 391.3,411.3 397.3,406.7 404.9,401.7 413.3,402.7 417.3,405.7" fill="none" stroke="#141414" stroke-width="0.85" stroke-linejoin="round"/>
<polyline points="392.7,432.4 411.6,418.3" fill="none" stroke="#141414" stroke-width="1.95" stroke-linejoin="round"/>
<polygon points="395.6,431.2 395.4,430.8 395.5,430.2 395.7,429.6 396.2,428.8 396.8,427.9 397.6,427 398.6,426 399.6,425 400.8,424 402,423 403.3,422.1 404.6,421.3 405.8,420.5 407,419.9 408.1,419.4 409.1,419.1 410,418.9 410.7,418.8 411.2,418.9 411.6,419.2 420.3,431.4 420.5,431.8 420.4,432.4 420.2,433.1 419.7,433.8 419.1,434.7 418.3,435.7 417.3,436.6 416.3,437.6 415.1,438.6 413.9,439.6 412.6,440.5 411.3,441.4 410.1,442.1 408.9,442.7 407.8,443.2 406.8,443.6 405.9,443.8 405.2,443.8 404.7,443.7 404.3,443.4" fill="#fff" stroke="#141414" stroke-width="1.1" stroke-linejoin="round"/>
<polygon points="403.9,443.7 403.8,443.3 403.8,442.7 404.1,442 404.6,441.2 405.2,440.2 406,439.2 407,438.2 408.1,437.2 409.4,436.1 410.7,435.1 412,434.1 413.3,433.3 414.7,432.5 415.9,431.8 417.1,431.3 418.1,431 419,430.7 419.8,430.7 420.3,430.8 420.7,431.1 421.9,432.7 422,433.2 422,433.8 421.7,434.5 421.2,435.3 420.6,436.2 419.7,437.2 418.8,438.2 417.6,439.3 416.4,440.3 415.1,441.3 413.8,442.3 412.5,443.2 411.1,444 409.9,444.6 408.7,445.1 407.7,445.5 406.7,445.7 406,445.7 405.4,445.6 405.1,445.3" fill="#fff" stroke="#141414" stroke-width="0.98" stroke-linejoin="round"/>
<polygon points="405.5,445 405.3,444.6 405.4,444.1 405.6,443.4 406.1,442.6 406.7,441.7 407.5,440.8 408.4,439.8 409.5,438.8 410.7,437.8 411.9,436.8 413.2,435.9 414.5,435.1 415.7,434.4 416.9,433.7 418,433.2 419,432.9 419.9,432.7 420.6,432.6 421.1,432.8 421.5,433 434.9,451.7 435,452.2 435,452.7 434.7,453.4 434.3,454.2 433.6,455 432.8,456 431.9,457 430.8,458 429.7,459 428.4,459.9 427.2,460.8 425.9,461.7 424.6,462.4 423.4,463 422.3,463.5 421.3,463.9 420.5,464.1 419.7,464.1 419.2,464 418.9,463.7" fill="#fff" stroke="#141414" stroke-width="1.1" stroke-linejoin="round"/>
<ellipse cx="426.9" cy="457.7" rx="2.7" ry="10" transform="rotate(53 426.9 457.7)" fill="#fff" stroke="#141414" stroke-width="1.1"/>
<line x1="419" y1="462.5" x2="409.1" y2="448.7" stroke="#141414" stroke-width="1.34"/>
<line x1="420.7" y1="462.1" x2="410.8" y2="448.2" stroke="#141414" stroke-width="1.34"/>
<line x1="422.3" y1="461.4" x2="412.4" y2="447.6" stroke="#141414" stroke-width="1.34"/>
<line x1="423.8" y1="460.6" x2="413.9" y2="446.8" stroke="#141414" stroke-width="1.34"/>
<line x1="425.2" y1="459.7" x2="415.3" y2="445.9" stroke="#141414" stroke-width="1.34"/>
<line x1="426.6" y1="458.8" x2="416.7" y2="445" stroke="#141414" stroke-width="1.34"/>
<line x1="427.9" y1="457.8" x2="418" y2="444" stroke="#141414" stroke-width="1.34"/>
<line x1="429.2" y1="456.7" x2="419.3" y2="442.9" stroke="#141414" stroke-width="1.34"/>
<line x1="430.5" y1="455.6" x2="420.6" y2="441.8" stroke="#141414" stroke-width="1.34"/>
<line x1="431.6" y1="454.4" x2="421.7" y2="440.6" stroke="#141414" stroke-width="1.34"/>
<line x1="432.7" y1="453.1" x2="422.8" y2="439.2" stroke="#141414" stroke-width="1.34"/>
<line x1="433.7" y1="451.5" x2="423.8" y2="437.7" stroke="#141414" stroke-width="1.34"/>
<polyline points="426.7,440.3 426.9,441 426.6,441.9 425.9,443 424.9,444.3 423.6,445.7 422,447.2 420.3,448.5 418.5,449.8 416.7,450.9 415,451.8 413.4,452.4 412.2,452.7 411.3,452.7 410.7,452.4" fill="none" stroke="#141414" stroke-width="0.85" stroke-linejoin="round"/>
<polygon points="423.7,460.1 423.6,460 423.6,459.7 423.7,459.5 423.9,459.2 424.2,458.8 424.5,458.4 424.9,458 425.3,457.6 425.7,457.2 426.2,456.9 426.7,456.5 427.3,456.2 427.8,455.9 428.2,455.6 428.7,455.4 429.1,455.3 429.4,455.2 429.7,455.2 429.9,455.2 430.1,455.3 435.9,463.5 435.9,463.6 435.9,463.9 435.8,464.1 435.6,464.4 435.4,464.8 435.1,465.2 434.7,465.6 434.3,466 433.8,466.4 433.3,466.7 432.8,467.1 432.3,467.4 431.8,467.7 431.3,468 430.9,468.2 430.5,468.3 430.1,468.4 429.8,468.4 429.6,468.4 429.5,468.3" fill="#fff" stroke="#141414" stroke-width="1.1" stroke-linejoin="round"/>
<ellipse cx="432.7" cy="465.9" rx="1.1" ry="4" transform="rotate(53 432.7 465.9)" fill="#fff" stroke="#141414" stroke-width="1.1"/>
<polyline points="435,462.2 435,462.8 434.5,463.6 433.6,464.5 432.4,465.5 431.2,466.4 430,467 429.1,467.2 428.6,467.1" fill="none" stroke="#141414" stroke-width="0.73" stroke-linejoin="round"/>
<line x1="436" y1="468" x2="450" y2="487" stroke="#222" stroke-width="0.85"/>
<ellipse cx="455" cy="492.8" rx="8.6" ry="11.6" transform="rotate(50 455 492.8)" fill="#fff" stroke="#141414" stroke-width="1.1"/>
<ellipse cx="455" cy="492.8" rx="6.2" ry="8.6" transform="rotate(50 455 492.8)" fill="#fff" stroke="#141414" stroke-width="1.1"/>
<polygon points="769.6,25.8 773.3,27.1 789.6,34.2 773.8,52.5 769.6,51.2" fill="#fff" stroke="#141414" stroke-width="0.98" stroke-linejoin="round"/>
<polyline points="769.6,25.8 789.2,33.8" fill="none" stroke="#141414" stroke-width="0.85" stroke-linejoin="round"/>
<polyline points="773.3,27.1 773.3,32.9" fill="none" stroke="#141414" stroke-width="0.98" stroke-linejoin="round"/>
<polyline points="773.3,48.3 773.8,52.5" fill="none" stroke="#141414" stroke-width="0.98" stroke-linejoin="round"/>
<polygon points="749.3,39.3 769.6,31.7 773.3,32.9 773.3,48.3 753.3,55 749.3,53.8" fill="#fff" stroke="#141414" stroke-width="1.1" stroke-linejoin="round"/>
<polyline points="749.3,39.3 753.3,40.8 773.3,33.8" fill="none" stroke="#141414" stroke-width="0.98" stroke-linejoin="round"/>
<polyline points="750.4,39.7 753.8,40 770,34" fill="none" stroke="#141414" stroke-width="0.73" stroke-linejoin="round"/>
<polyline points="753.3,40.8 753.3,55" fill="none" stroke="#141414" stroke-width="0.98" stroke-linejoin="round"/>
<polyline points="769.6,31.7 769.6,48.3" fill="none" stroke="#141414" stroke-width="0.73" stroke-linejoin="round"/>
<text transform="matrix(0.5 -0.18 0 1 755.6 51.6)" font-size="16" stroke="#111" stroke-width="0.5" style="font-family:'Liberation Serif',serif;font-style:italic;font-weight:bold">FWD</text>
<polygon points="623.5,237.1 626.2,235.7 629.5,239.1 632.2,248.4 634.9,261.7 638.2,273.7 637.7,277.1 634.9,277.2 630.9,271.1 627.5,257.7 624.9,245.7 623.3,239.7" fill="#fff" stroke="#141414" stroke-width="0.98" stroke-linejoin="round"/>
<polygon points="622.3,237.7 625,236.3 628.3,239.7 631,249 633.7,262.3 637,274.3 636.5,277.7 633.7,277.8 629.7,271.7 626.3,258.3 623.7,246.3 622.1,240.3" fill="#fff" stroke="#141414" stroke-width="1.22" stroke-linejoin="round"/>
<ellipse cx="626.3" cy="241.7" rx="0.9" ry="1.6" transform="rotate(-32 626.3 241.7)" fill="#555" stroke="#141414" stroke-width="0.61"/>
<ellipse cx="627.9" cy="251.7" rx="0.9" ry="1.6" transform="rotate(-32 627.9 251.7)" fill="#555" stroke="#141414" stroke-width="0.61"/>
<ellipse cx="629.9" cy="261.3" rx="0.9" ry="1.6" transform="rotate(-32 629.9 261.3)" fill="#555" stroke="#141414" stroke-width="0.61"/>
<ellipse cx="633.3" cy="272.7" rx="0.9" ry="1.6" transform="rotate(-32 633.3 272.7)" fill="#555" stroke="#141414" stroke-width="0.61"/>
<polygon points="619.8,256.2 619.9,256.2 620,256.2 620.1,256.2 620.2,256.3 620.4,256.4 620.6,256.5 620.7,256.7 620.9,256.9 621.1,257.1 621.2,257.3 621.4,257.6 621.5,257.8 621.6,258.1 621.7,258.3 621.8,258.5 621.8,258.7 621.8,258.9 621.8,259 621.8,259.1 621.7,259.2 615.1,264.5 615,264.6 614.9,264.6 614.8,264.5 614.6,264.5 614.5,264.4 614.3,264.2 614.1,264.1 614,263.9 613.8,263.6 613.6,263.4 613.5,263.2 613.4,262.9 613.2,262.7 613.2,262.4 613.1,262.2 613,262 613,261.9 613,261.7 613.1,261.6 613.1,261.5" fill="#fff" stroke="#141414" stroke-width="0.85" stroke-linejoin="round"/>
<ellipse cx="614.1" cy="263" rx="0.6" ry="1.8" transform="rotate(-32 614.1 263)" fill="#fff" stroke="#141414" stroke-width="0.85"/>
<polyline points="615.9,263.8 615.7,263.9 615.3,263.7 614.9,263.3 614.5,262.7 614.2,262.1 613.9,261.5 613.9,261.1 614,260.8" fill="none" stroke="#141414" stroke-width="0.98" stroke-linejoin="round"/>
<polyline points="616.8,263.2 616.5,263.2 616.2,263 615.8,262.6 615.4,262 615,261.4 614.8,260.9 614.8,260.4 614.9,260.1" fill="none" stroke="#141414" stroke-width="0.98" stroke-linejoin="round"/>
<polyline points="617.7,262.5 617.4,262.5 617,262.3 616.6,261.9 616.2,261.3 615.9,260.7 615.7,260.2 615.6,259.7 615.7,259.4" fill="none" stroke="#141414" stroke-width="0.98" stroke-linejoin="round"/>
<polyline points="618.5,261.8 618.3,261.8 617.9,261.6 617.5,261.2 617.1,260.7 616.7,260.1 616.5,259.5 616.5,259 616.6,258.8" fill="none" stroke="#141414" stroke-width="0.98" stroke-linejoin="round"/>
<polyline points="619.4,261.1 619.1,261.1 618.8,260.9 618.3,260.5 617.9,260 617.6,259.4 617.4,258.8 617.3,258.3 617.4,258.1" fill="none" stroke="#141414" stroke-width="0.98" stroke-linejoin="round"/>
<polyline points="620.2,260.4 620,260.4 619.6,260.2 619.2,259.8 618.8,259.3 618.5,258.7 618.2,258.1 618.2,257.6 618.3,257.4" fill="none" stroke="#141414" stroke-width="0.98" stroke-linejoin="round"/>
<polyline points="621.1,259.7 620.8,259.8 620.5,259.6 620.1,259.1 619.6,258.6 619.3,258 619.1,257.4 619,257 619.2,256.7" fill="none" stroke="#141414" stroke-width="0.98" stroke-linejoin="round"/>
<polygon points="612.7,260.8 612.8,260.7 613,260.7 613.1,260.7 613.4,260.8 613.6,261 613.8,261.2 614.1,261.5 614.4,261.8 614.6,262.1 614.8,262.4 615.1,262.8 615.3,263.2 615.4,263.5 615.6,263.9 615.7,264.2 615.7,264.5 615.7,264.8 615.7,265 615.7,265.2 615.6,265.3 612.3,267.9 612.2,268 612,268 611.8,267.9 611.6,267.8 611.4,267.7 611.1,267.5 610.9,267.2 610.6,266.9 610.4,266.6 610.1,266.2 609.9,265.9 609.7,265.5 609.5,265.1 609.4,264.8 609.3,264.5 609.2,264.2 609.2,263.9 609.2,263.7 609.3,263.5 609.4,263.4" fill="#fff" stroke="#141414" stroke-width="1.1" stroke-linejoin="round"/>
<ellipse cx="610.8" cy="265.7" rx="0.9" ry="2.7" transform="rotate(-32 610.8 265.7)" fill="#fff" stroke="#141414" stroke-width="1.1"/>
<ellipse cx="610.8" cy="265.7" rx="0.4" ry="1.3" transform="rotate(-32 610.8 265.7)" fill="#444" stroke="#141414" stroke-width="0.61"/>
<polygon points="622.6,265 622.7,265 622.8,265 622.9,265 623,265.1 623.2,265.2 623.4,265.3 623.5,265.5 623.7,265.7 623.9,265.9 624,266.1 624.2,266.4 624.3,266.6 624.4,266.9 624.5,267.1 624.6,267.3 624.6,267.5 624.6,267.7 624.6,267.8 624.6,267.9 624.5,268 617.9,273.3 617.8,273.4 617.7,273.4 617.6,273.3 617.4,273.3 617.3,273.2 617.1,273 616.9,272.9 616.8,272.7 616.6,272.4 616.4,272.2 616.3,272 616.2,271.7 616,271.5 616,271.2 615.9,271 615.8,270.8 615.8,270.7 615.8,270.5 615.9,270.4 615.9,270.3" fill="#fff" stroke="#141414" stroke-width="0.85" stroke-linejoin="round"/>
<ellipse cx="616.9" cy="271.8" rx="0.6" ry="1.8" transform="rotate(-32 616.9 271.8)" fill="#fff" stroke="#141414" stroke-width="0.85"/>
<polyline points="618.7,272.6 618.5,272.7 618.1,272.5 617.7,272.1 617.3,271.5 617,270.9 616.7,270.3 616.7,269.9 616.8,269.6" fill="none" stroke="#141414" stroke-width="0.98" stroke-linejoin="round"/>
<polyline points="619.6,272 619.3,272 619,271.8 618.6,271.4 618.2,270.8 617.8,270.2 617.6,269.7 617.6,269.2 617.7,268.9" fill="none" stroke="#141414" stroke-width="0.98" stroke-linejoin="round"/>
<polyline points="620.5,271.3 620.2,271.3 619.8,271.1 619.4,270.7 619,270.1 618.7,269.5 618.5,269 618.4,268.5 618.5,268.2" fill="none" stroke="#141414" stroke-width="0.98" stroke-linejoin="round"/>
<polyline points="621.3,270.6 621.1,270.6 620.7,270.4 620.3,270 619.9,269.5 619.5,268.9 619.3,268.3 619.3,267.8 619.4,267.6" fill="none" stroke="#141414" stroke-width="0.98" stroke-linejoin="round"/>
<polyline points="622.2,269.9 621.9,269.9 621.6,269.7 621.1,269.3 620.7,268.8 620.4,268.2 620.2,267.6 620.1,267.1 620.2,266.9" fill="none" stroke="#141414" stroke-width="0.98" stroke-linejoin="round"/>
<polyline points="623,269.2 622.8,269.2 622.4,269 622,268.6 621.6,268.1 621.3,267.5 621,266.9 621,266.4 621.1,266.2" fill="none" stroke="#141414" stroke-width="0.98" stroke-linejoin="round"/>
<polyline points="623.9,268.5 623.6,268.6 623.3,268.4 622.9,267.9 622.4,267.4 622.1,266.8 621.9,266.2 621.8,265.8 622,265.5" fill="none" stroke="#141414" stroke-width="0.98" stroke-linejoin="round"/>
<polygon points="615.5,269.6 615.6,269.5 615.8,269.5 615.9,269.5 616.2,269.6 616.4,269.8 616.6,270 616.9,270.3 617.2,270.6 617.4,270.9 617.6,271.2 617.9,271.6 618.1,272 618.2,272.3 618.4,272.7 618.5,273 618.5,273.3 618.5,273.6 618.5,273.8 618.5,274 618.4,274.1 615.1,276.7 615,276.8 614.8,276.8 614.6,276.7 614.4,276.6 614.2,276.5 613.9,276.3 613.7,276 613.4,275.7 613.2,275.4 612.9,275 612.7,274.7 612.5,274.3 612.3,273.9 612.2,273.6 612.1,273.3 612,273 612,272.7 612,272.5 612.1,272.3 612.2,272.2" fill="#fff" stroke="#141414" stroke-width="1.1" stroke-linejoin="round"/>
<ellipse cx="613.6" cy="274.5" rx="0.9" ry="2.7" transform="rotate(-32 613.6 274.5)" fill="#fff" stroke="#141414" stroke-width="1.1"/>
<ellipse cx="613.6" cy="274.5" rx="0.4" ry="1.3" transform="rotate(-32 613.6 274.5)" fill="#444" stroke="#141414" stroke-width="0.61"/>
<polygon points="632.3,241 638.3,235.9 645,234.1 649.7,237.3 653.7,243 655.7,247.4 655.1,251.7 649.7,258.1 646.6,262.6 643.7,261.8 637,256.3 633.7,248.7" fill="#fff" stroke="#141414" stroke-width="1.22" stroke-linejoin="round"/>
<polyline points="632.3,241 635,239.7 638.3,246.3 641.7,253.7 646.6,259.9 646.6,262.6" fill="none" stroke="#141414" stroke-width="0.98" stroke-linejoin="round"/>
<polyline points="635,239.7 639.9,236.3" fill="none" stroke="#141414" stroke-width="0.85" stroke-linejoin="round"/>
<ellipse cx="649.9" cy="249.3" rx="5" ry="7.2" transform="rotate(35 649.9 249.3)" fill="#fff" stroke="#141414" stroke-width="1.46"/>
<ellipse cx="649.7" cy="249.8" rx="3.8" ry="5.6" transform="rotate(35 649.7 249.8)" fill="#fff" stroke="#141414" stroke-width="0.98"/>
<polyline points="639.4,239 643,240.7 645,245 644.7,250.1" fill="none" stroke="#141414" stroke-width="0.98" stroke-linejoin="round"/>
<polyline points="645,234.6 647.9,239.7 649,243" fill="none" stroke="#141414" stroke-width="0.85" stroke-linejoin="round"/>
<ellipse cx="637" cy="245" rx="0.9" ry="1.6" transform="rotate(-32 637 245)" fill="#555" stroke="#141414" stroke-width="0.61"/>
<ellipse cx="637.9" cy="253.3" rx="0.9" ry="1.6" transform="rotate(-32 637.9 253.3)" fill="#555" stroke="#141414" stroke-width="0.61"/>
<ellipse cx="647.9" cy="259" rx="1.3" ry="2" transform="rotate(40 647.9 259)" fill="#333" stroke="#141414" stroke-width="0.61"/>
<polygon points="657.7,263.4 659.9,259.9 663.7,259 666.6,261.3 669,266.6 674.3,266.6 678.1,270.3 677.7,274.6 674.3,281 670.6,285.7 667.7,287.7 664.7,285.3 663.7,279 662.6,271.7" fill="#fff" stroke="#141414" stroke-width="1.22" stroke-linejoin="round"/>
<polyline points="657.7,263.4 659,265.7 662.6,271.7" fill="none" stroke="#141414" stroke-width="0.98" stroke-linejoin="round"/>
<polyline points="669,266.6 665.7,269 664.3,273.3 665.3,279.7 667.7,283.7" fill="none" stroke="#141414" stroke-width="0.98" stroke-linejoin="round"/>
<polyline points="667.3,267.4 664.7,271" fill="none" stroke="#141414" stroke-width="0.85" stroke-linejoin="round"/>
<polygon points="672.7,273.3 678.6,278.1 679.9,280.2 678.1,281.3 671.7,276.7" fill="#fff" stroke="#141414" stroke-width="1.1" stroke-linejoin="round"/>
<ellipse cx="669.8" cy="283.9" rx="1.7" ry="2.6" transform="rotate(45 669.8 283.9)" fill="#fff" stroke="#141414" stroke-width="0.98"/>
<line x1="651.7" y1="256.3" x2="658.3" y2="262.6" stroke="#141414" stroke-width="0.98"/>
<line x1="654.6" y1="255" x2="659.9" y2="259.9" stroke="#141414" stroke-width="0.98"/>
<polygon points="673.5,289.6 673.4,289.4 673.4,289.3 673.3,289 673.4,288.8 673.4,288.5 673.5,288.3 673.6,288 673.8,287.7 674,287.5 674.2,287.2 674.5,287 674.7,286.8 674.9,286.6 675.2,286.5 675.4,286.4 675.7,286.3 675.9,286.3 676.1,286.3 676.2,286.4 676.4,286.5 682,292.9 682.1,293.1 682.1,293.2 682.1,293.5 682.1,293.7 682.1,294 682,294.2 681.8,294.5 681.7,294.8 681.5,295 681.3,295.3 681,295.5 680.8,295.7 680.5,295.9 680.3,296 680,296.1 679.8,296.2 679.6,296.2 679.4,296.2 679.2,296.1 679.1,296" fill="#fff" stroke="#141414" stroke-width="0.85" stroke-linejoin="round"/>
<ellipse cx="680.5" cy="294.4" rx="1.1" ry="2.1" transform="rotate(41 680.5 294.4)" fill="#fff" stroke="#141414" stroke-width="0.85"/>
<polyline points="681.2,292 681.4,292.4 681.3,293 681,293.7 680.5,294.4 679.9,294.9 679.2,295.2 678.7,295.3 678.3,295.1" fill="none" stroke="#141414" stroke-width="0.98" stroke-linejoin="round"/>
<polyline points="680.4,291.1 680.6,291.5 680.5,292.1 680.2,292.8 679.7,293.5 679.1,294 678.5,294.3 677.9,294.4 677.5,294.2" fill="none" stroke="#141414" stroke-width="0.98" stroke-linejoin="round"/>
<polyline points="679.6,290.2 679.8,290.6 679.7,291.2 679.4,291.9 678.9,292.6 678.3,293.1 677.7,293.4 677.1,293.5 676.7,293.3" fill="none" stroke="#141414" stroke-width="0.98" stroke-linejoin="round"/>
<polyline points="678.8,289.3 679,289.7 678.9,290.3 678.6,291 678.1,291.7 677.5,292.2 676.9,292.5 676.3,292.6 675.9,292.4" fill="none" stroke="#141414" stroke-width="0.98" stroke-linejoin="round"/>
<polyline points="678,288.4 678.2,288.8 678.1,289.4 677.8,290.1 677.3,290.8 676.7,291.3 676.1,291.6 675.5,291.7 675.2,291.5" fill="none" stroke="#141414" stroke-width="0.98" stroke-linejoin="round"/>
<polyline points="677.2,287.5 677.4,287.9 677.3,288.5 677,289.2 676.5,289.9 675.9,290.4 675.3,290.7 674.8,290.8 674.4,290.6" fill="none" stroke="#141414" stroke-width="0.98" stroke-linejoin="round"/>
<polyline points="676.4,286.6 676.6,287 676.5,287.6 676.2,288.3 675.7,289 675.1,289.5 674.5,289.8 674,289.9 673.6,289.7" fill="none" stroke="#141414" stroke-width="0.98" stroke-linejoin="round"/>
<polygon points="677.7,297.5 677.5,297.2 677.4,296.8 677.3,296.4 677.4,296 677.5,295.4 677.7,294.9 677.9,294.4 678.3,293.8 678.7,293.3 679.1,292.8 679.6,292.3 680,291.9 680.6,291.6 681.1,291.3 681.5,291.1 682,291 682.4,291 682.8,291 683.1,291.2 683.4,291.4 684.1,292.1 684.3,292.4 684.4,292.8 684.4,293.2 684.4,293.7 684.3,294.2 684.1,294.7 683.8,295.3 683.5,295.8 683.1,296.4 682.6,296.9 682.2,297.3 681.7,297.7 681.2,298.1 680.7,298.3 680.2,298.5 679.7,298.6 679.3,298.7 678.9,298.6 678.6,298.5 678.3,298.3" fill="#fff" stroke="#141414" stroke-width="0.98" stroke-linejoin="round"/>
<ellipse cx="681.2" cy="295.2" rx="2.2" ry="4.2" transform="rotate(41 681.2 295.2)" fill="#fff" stroke="#141414" stroke-width="0.98"/>
<polygon points="678.9,297.6 678.8,297.4 678.7,297.1 678.7,296.8 678.7,296.4 678.8,296 679,295.6 679.2,295.1 679.4,294.7 679.7,294.3 680.1,293.9 680.4,293.5 680.8,293.2 681.2,293 681.6,292.7 682,292.6 682.4,292.5 682.7,292.5 683,292.5 683.2,292.6 683.5,292.8 685.2,294.8 685.3,295 685.4,295.3 685.4,295.6 685.4,296 685.3,296.4 685.2,296.8 684.9,297.2 684.7,297.6 684.4,298.1 684.1,298.5 683.7,298.8 683.3,299.1 682.9,299.4 682.5,299.6 682.1,299.8 681.8,299.9 681.4,299.9 681.1,299.8 680.9,299.7 680.7,299.6" fill="#fff" stroke="#141414" stroke-width="0.98" stroke-linejoin="round"/>
<ellipse cx="682.9" cy="297.2" rx="1.7" ry="3.3" transform="rotate(41 682.9 297.2)" fill="#fff" stroke="#141414" stroke-width="0.98"/>
<polygon points="681.6,299.5 683.7,298.5 685,296.2 684.3,294.8 682.1,295.8 680.8,298.2" fill="#fff" stroke="#141414" stroke-width="0.61" stroke-linejoin="round"/>
<polygon points="488.7,135.8 490.5,135.2 493.5,140.7 496.5,146 501.7,151.2 509.2,159.5 517.5,170 525,179.3 530.2,183.8 528,183.8 525.7,181.7 522,179 514.5,169.2 507,160.2 500.2,153.5 496.8,150.8 496.2,155 497.7,164 501,173 503.7,176.9 500.2,176 497.7,174.2 495,165.5 492.7,155 492.3,149.3 493.5,146 491.2,140.7" fill="#fff" stroke="#141414" stroke-width="1.46" stroke-linejoin="round"/>
<polyline points="493.5,146 495.7,149.3 496.8,150.8" fill="none" stroke="#141414" stroke-width="0.85" stroke-linejoin="round"/>
<polyline points="494.7,143.3 499.5,152 507.7,161.7 516,171.5 523.5,180.5" fill="none" stroke="#141414" stroke-width="0.73" stroke-linejoin="round"/>
<polyline points="493.8,150.2 494.7,159.5 497.7,169.2 500.2,175.2" fill="none" stroke="#141414" stroke-width="0.73" stroke-linejoin="round"/>
<polygon points="572.3,259.6 576,260.7 577.1,263.3 583.3,272 592.7,284 601.3,291.1 605.1,292.9 606.4,290 604.7,282 601.6,273.7 599.5,267.1 602.4,267.1 604,272.7 606.9,281.3 609.3,289.7 608.8,295.1 610.7,302.7 613.6,307.6 611.7,308.4 608.3,304 605.3,296.7 600,293.3 590.9,286 582,274.3 575.3,264" fill="#fff" stroke="#141414" stroke-width="1.46" stroke-linejoin="round"/>
<polyline points="576,262.3 582.7,272.9 592,284.9 600.7,292.4 606,295.3 609.6,304.7" fill="none" stroke="#141414" stroke-width="0.73" stroke-linejoin="round"/>
<polyline points="601.1,268 603.3,274 606,282 608,290 607.5,294.7" fill="none" stroke="#141414" stroke-width="0.73" stroke-linejoin="round"/>
<line x1="430.9" y1="316.6" x2="457.4" y2="295.3" stroke="#222" stroke-width="0.85"/>
<line x1="472.5" y1="283.6" x2="479.5" y2="278" stroke="#222" stroke-width="0.85"/>
<line x1="487.1" y1="270.5" x2="493.3" y2="265.5" stroke="#222" stroke-width="0.85"/>
<line x1="508.6" y1="254.6" x2="525" y2="241.5" stroke="#222" stroke-width="0.85"/>
<line x1="532" y1="234.5" x2="540.6" y2="227.6" stroke="#222" stroke-width="0.85"/>
<line x1="574.7" y1="202" x2="585.6" y2="193.2" stroke="#222" stroke-width="0.85"/>
<line x1="592.4" y1="189.3" x2="595.5" y2="186.8" stroke="#222" stroke-width="0.85"/>
<line x1="188.3" y1="312.5" x2="199.2" y2="303.7" stroke="#222" stroke-width="0.85"/>
<line x1="185.8" y1="313.9" x2="189.7" y2="310.8" stroke="#222" stroke-width="0.85"/>
<line x1="169.7" y1="327.3" x2="176.7" y2="321.7" stroke="#222" stroke-width="0.85"/>
<line x1="145.8" y1="344.3" x2="156.7" y2="335.5" stroke="#222" stroke-width="0.85"/>
<line x1="94.6" y1="384.4" x2="104" y2="376.9" stroke="#222" stroke-width="0.85"/>
<line x1="71.7" y1="403.9" x2="78.7" y2="398.3" stroke="#222" stroke-width="0.85"/>
<line x1="249.3" y1="458.5" x2="249.3" y2="458.5" stroke="#222" stroke-width="0.85"/>
<line x1="266.6" y1="479.8" x2="274.5" y2="488.8" stroke="#222" stroke-width="0.85"/>
<line x1="290.5" y1="503.8" x2="297.1" y2="511.3" stroke="#222" stroke-width="0.85"/>
<line x1="306.7" y1="521.4" x2="310" y2="525.2" stroke="#222" stroke-width="0.85"/>
<line x1="322.6" y1="540.5" x2="330.5" y2="549.5" stroke="#222" stroke-width="0.85"/>
<line x1="347.1" y1="567.6" x2="353" y2="574.4" stroke="#222" stroke-width="0.85"/>
<polyline points="592.6,206 626.5,242.1" fill="none" stroke="#222" stroke-width="0.85" stroke-linejoin="round" stroke-dasharray="8 2"/>
<polyline points="596.1,232.8 611.3,248" fill="none" stroke="#222" stroke-width="0.85" stroke-linejoin="round" stroke-dasharray="8 2"/>
<polyline points="590,204.5 615.7,236" fill="none" stroke="#222" stroke-width="0.85" stroke-linejoin="round" stroke-dasharray="8 2"/>
<polyline points="636.7,236 665.8,211.5" fill="none" stroke="#222" stroke-width="0.85" stroke-linejoin="round" stroke-dasharray="8 2"/>
<polyline points="655.3,250 662.3,245.3" fill="none" stroke="#222" stroke-width="0.85" stroke-linejoin="round" stroke-dasharray="8 2"/>
<polyline points="622,259 630,253" fill="none" stroke="#222" stroke-width="0.85" stroke-linejoin="round" stroke-dasharray="8 2"/>
<polyline points="624,268 632,262" fill="none" stroke="#222" stroke-width="0.85" stroke-linejoin="round" stroke-dasharray="8 2"/>
</svg>
</body></html>
